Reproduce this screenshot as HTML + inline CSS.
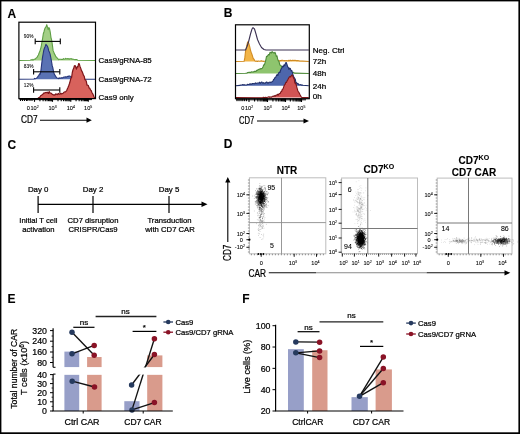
<!DOCTYPE html>
<html><head><meta charset="utf-8"><style>
html,body{margin:0;padding:0;background:#fff;}
svg{display:block;font-family:"Liberation Sans", sans-serif;will-change:transform;}
text{stroke:#000;stroke-width:0.22px;}
text.s{stroke:#000;stroke-width:0.08px;}
text[font-weight=bold]{stroke-width:0.1px;}
</style></head><body>
<svg width="520" height="434" viewBox="0 0 520 434">
<rect width="520" height="434" fill="#fff"/>
<rect x="0" y="0" width="520" height="1.4" fill="#000"/>
<rect x="0" y="0" width="1.4" height="434" fill="#000"/>
<rect x="518.4" y="0" width="1.6" height="434" fill="#000"/>
<rect x="0" y="432.3" width="520" height="1.7" fill="#000"/>
<text x="7.4" y="17.9" font-size="12" font-weight="bold" text-anchor="start" fill="#000" >A</text>
<text x="223.8" y="17.3" font-size="12" font-weight="bold" text-anchor="start" fill="#000" >B</text>
<text x="7.4" y="148.8" font-size="12" font-weight="bold" text-anchor="start" fill="#000" >C</text>
<text x="223.8" y="147.9" font-size="12" font-weight="bold" text-anchor="start" fill="#000" >D</text>
<text x="7.6" y="303.2" font-size="12" font-weight="bold" text-anchor="start" fill="#000" >E</text>
<text x="242.2" y="303.4" font-size="12" font-weight="bold" text-anchor="start" fill="#000" >F</text>
<polygon points="19.20,60.50 30.00,60.20 30.70,60.01 31.40,59.93 32.10,59.44 32.80,60.19 33.50,59.83 34.20,59.20 34.90,59.17 35.60,58.75 36.30,57.92 37.00,57.42 37.70,56.01 38.40,55.01 39.10,52.98 39.80,51.62 40.50,49.15 41.20,46.73 41.90,42.21 42.60,38.54 43.30,33.77 44.00,31.73 44.70,29.01 45.40,27.53 46.10,26.73 46.80,24.65 47.50,27.43 48.20,29.70 48.90,27.54 49.60,28.95 50.30,32.45 51.00,37.57 51.70,40.22 52.40,45.20 53.10,50.65 53.80,52.23 54.50,54.12 55.20,55.16 55.90,56.76 56.60,57.23 57.30,58.02 58.00,58.76 58.70,59.68 59.40,59.30 60.10,59.18 60.80,59.25 61.50,59.56 62.20,59.21 62.90,59.47 63.60,58.57 64.30,59.20 65.00,59.07 65.70,58.36 66.40,58.70 67.10,58.91 67.80,58.54 68.50,58.82 69.20,59.25 69.90,58.76 70.60,58.69 71.30,58.67 72.00,59.19 72.70,59.15 73.40,59.32 74.10,59.49 74.80,59.78 75.50,59.54 76.20,59.58 76.90,59.54 77.60,60.20 95.30,60.50" fill="#a3cf86" stroke="none"/>
<polyline points="19.20,60.50 30.00,60.20 30.70,60.01 31.40,59.93 32.10,59.44 32.80,60.19 33.50,59.83 34.20,59.20 34.90,59.17 35.60,58.75 36.30,57.92 37.00,57.42 37.70,56.01 38.40,55.01 39.10,52.98 39.80,51.62 40.50,49.15 41.20,46.73 41.90,42.21 42.60,38.54 43.30,33.77 44.00,31.73 44.70,29.01 45.40,27.53 46.10,26.73 46.80,24.65 47.50,27.43 48.20,29.70 48.90,27.54 49.60,28.95 50.30,32.45 51.00,37.57 51.70,40.22 52.40,45.20 53.10,50.65 53.80,52.23 54.50,54.12 55.20,55.16 55.90,56.76 56.60,57.23 57.30,58.02 58.00,58.76 58.70,59.68 59.40,59.30 60.10,59.18 60.80,59.25 61.50,59.56 62.20,59.21 62.90,59.47 63.60,58.57 64.30,59.20 65.00,59.07 65.70,58.36 66.40,58.70 67.10,58.91 67.80,58.54 68.50,58.82 69.20,59.25 69.90,58.76 70.60,58.69 71.30,58.67 72.00,59.19 72.70,59.15 73.40,59.32 74.10,59.49 74.80,59.78 75.50,59.54 76.20,59.58 76.90,59.54 77.60,60.20 95.30,60.50" fill="none" stroke="#5f9f45" stroke-width="1.1" stroke-linejoin="round"/>
<polygon points="19.20,79.30 34.00,79.00 34.70,78.38 35.40,78.80 36.10,78.40 36.80,77.85 37.50,77.34 38.20,76.02 38.90,75.25 39.60,73.70 40.30,74.17 41.00,69.86 41.70,63.78 42.40,58.13 43.10,53.97 43.80,50.11 44.50,47.99 45.20,46.44 45.90,44.38 46.60,45.37 47.30,45.87 48.00,47.69 48.70,50.65 49.40,52.12 50.10,54.18 50.80,57.59 51.50,61.37 52.20,65.70 52.90,68.03 53.60,71.89 54.30,74.15 55.00,75.20 55.70,76.34 56.40,77.60 57.10,77.94 57.80,78.17 58.50,78.64 59.20,77.77 59.90,78.49 60.60,77.93 61.30,77.64 62.00,77.92 62.70,77.84 63.40,77.34 64.10,76.96 64.80,77.06 65.50,76.86 66.20,77.12 66.90,76.75 67.60,76.41 68.30,76.53 69.00,75.93 69.70,75.94 70.40,76.65 71.10,76.87 71.80,76.87 72.50,77.17 73.20,77.96 73.90,77.89 74.60,78.75 75.30,78.82 76.00,78.54 76.70,78.98 77.40,79.20 95.30,79.30" fill="#5a72b4" stroke="none"/>
<polyline points="19.20,79.30 34.00,79.00 34.70,78.38 35.40,78.80 36.10,78.40 36.80,77.85 37.50,77.34 38.20,76.02 38.90,75.25 39.60,73.70 40.30,74.17 41.00,69.86 41.70,63.78 42.40,58.13 43.10,53.97 43.80,50.11 44.50,47.99 45.20,46.44 45.90,44.38 46.60,45.37 47.30,45.87 48.00,47.69 48.70,50.65 49.40,52.12 50.10,54.18 50.80,57.59 51.50,61.37 52.20,65.70 52.90,68.03 53.60,71.89 54.30,74.15 55.00,75.20 55.70,76.34 56.40,77.60 57.10,77.94 57.80,78.17 58.50,78.64 59.20,77.77 59.90,78.49 60.60,77.93 61.30,77.64 62.00,77.92 62.70,77.84 63.40,77.34 64.10,76.96 64.80,77.06 65.50,76.86 66.20,77.12 66.90,76.75 67.60,76.41 68.30,76.53 69.00,75.93 69.70,75.94 70.40,76.65 71.10,76.87 71.80,76.87 72.50,77.17 73.20,77.96 73.90,77.89 74.60,78.75 75.30,78.82 76.00,78.54 76.70,78.98 77.40,79.20 95.30,79.30" fill="none" stroke="#26357a" stroke-width="1.1" stroke-linejoin="round"/>
<polygon points="19.20,98.50 38.00,98.30 38.70,97.69 39.40,97.54 40.10,96.74 40.80,95.51 41.50,95.41 42.20,94.63 42.90,94.32 43.60,93.10 44.30,93.23 45.00,92.66 45.70,92.68 46.40,92.44 47.10,92.83 47.80,92.12 48.50,93.49 49.20,91.60 49.90,93.00 50.60,92.99 51.30,93.36 52.00,94.03 52.70,94.61 53.40,95.05 54.10,94.77 54.80,95.20 55.50,93.95 56.20,94.47 56.90,94.07 57.60,94.58 58.30,93.45 59.00,94.00 59.70,94.11 60.40,93.32 61.10,94.01 61.80,93.47 62.50,93.56 63.20,93.30 63.90,92.21 64.60,91.97 65.30,91.91 66.00,91.39 66.70,90.50 67.40,88.78 68.10,87.26 68.80,85.48 69.50,83.48 70.20,80.99 70.90,78.37 71.60,77.34 72.30,72.51 73.00,69.75 73.70,68.30 74.40,65.74 75.10,65.57 75.80,67.19 76.50,69.13 77.20,66.64 77.90,66.99 78.60,63.60 79.30,63.88 80.00,66.40 80.70,68.14 81.40,70.41 82.10,71.59 82.80,73.28 83.50,75.36 84.20,76.19 84.90,79.61 85.60,79.91 86.30,81.30 87.00,85.08 87.70,85.19 88.40,85.53 89.10,88.18 89.80,88.16 90.50,90.03 91.20,90.56 91.90,92.49 92.60,93.59 93.30,95.01 94.00,96.76 94.70,98.30 95.30,98.50" fill="#d8625c" stroke="none"/>
<polyline points="19.20,98.50 38.00,98.30 38.70,97.69 39.40,97.54 40.10,96.74 40.80,95.51 41.50,95.41 42.20,94.63 42.90,94.32 43.60,93.10 44.30,93.23 45.00,92.66 45.70,92.68 46.40,92.44 47.10,92.83 47.80,92.12 48.50,93.49 49.20,91.60 49.90,93.00 50.60,92.99 51.30,93.36 52.00,94.03 52.70,94.61 53.40,95.05 54.10,94.77 54.80,95.20 55.50,93.95 56.20,94.47 56.90,94.07 57.60,94.58 58.30,93.45 59.00,94.00 59.70,94.11 60.40,93.32 61.10,94.01 61.80,93.47 62.50,93.56 63.20,93.30 63.90,92.21 64.60,91.97 65.30,91.91 66.00,91.39 66.70,90.50 67.40,88.78 68.10,87.26 68.80,85.48 69.50,83.48 70.20,80.99 70.90,78.37 71.60,77.34 72.30,72.51 73.00,69.75 73.70,68.30 74.40,65.74 75.10,65.57 75.80,67.19 76.50,69.13 77.20,66.64 77.90,66.99 78.60,63.60 79.30,63.88 80.00,66.40 80.70,68.14 81.40,70.41 82.10,71.59 82.80,73.28 83.50,75.36 84.20,76.19 84.90,79.61 85.60,79.91 86.30,81.30 87.00,85.08 87.70,85.19 88.40,85.53 89.10,88.18 89.80,88.16 90.50,90.03 91.20,90.56 91.90,92.49 92.60,93.59 93.30,95.01 94.00,96.76 94.70,98.30 95.30,98.50" fill="none" stroke="#7e1519" stroke-width="1.2" stroke-linejoin="round"/>
<rect x="18.9" y="22.2" width="76.6" height="76.4" fill="none" stroke="#000" stroke-width="1.2"/>
<line x1="35.2" y1="41.4" x2="60.3" y2="41.4" stroke="#000" stroke-width="1.1" />
<line x1="35.2" y1="38.6" x2="35.2" y2="44.199999999999996" stroke="#000" stroke-width="1.1" />
<line x1="60.3" y1="38.6" x2="60.3" y2="44.199999999999996" stroke="#000" stroke-width="1.1" />
<line x1="33.6" y1="71.8" x2="59.8" y2="71.8" stroke="#000" stroke-width="1.1" />
<line x1="33.6" y1="69.0" x2="33.6" y2="74.6" stroke="#000" stroke-width="1.1" />
<line x1="59.8" y1="69.0" x2="59.8" y2="74.6" stroke="#000" stroke-width="1.1" />
<line x1="33.6" y1="90" x2="59.8" y2="90" stroke="#000" stroke-width="1.1" />
<line x1="33.6" y1="87.2" x2="33.6" y2="92.8" stroke="#000" stroke-width="1.1" />
<line x1="59.8" y1="87.2" x2="59.8" y2="92.8" stroke="#000" stroke-width="1.1" />
<text x="23.8" y="37.8" font-size="4.8" font-weight="normal" text-anchor="start" fill="#111" class="s">90%</text>
<text x="23.8" y="68" font-size="4.8" font-weight="normal" text-anchor="start" fill="#111" class="s">83%</text>
<text x="23.8" y="86.5" font-size="4.8" font-weight="normal" text-anchor="start" fill="#111" class="s">12%</text>
<line x1="19.5" y1="99.6" x2="92" y2="99.6" stroke="#000" stroke-width="1.0" />
<line x1="34.5" y1="98.6" x2="34.5" y2="101.8" stroke="#000" stroke-width="1.1" />
<line x1="52.5" y1="98.6" x2="52.5" y2="101.8" stroke="#000" stroke-width="1.1" />
<line x1="70.8" y1="98.6" x2="70.8" y2="101.8" stroke="#000" stroke-width="1.1" />
<line x1="88.3" y1="98.6" x2="88.3" y2="101.8" stroke="#000" stroke-width="1.1" />
<line x1="39.92" y1="98.6" x2="39.92" y2="101.19999999999999" stroke="#000" stroke-width="1.1" />
<line x1="43.09" y1="98.6" x2="43.09" y2="101.19999999999999" stroke="#000" stroke-width="1.1" />
<line x1="45.34" y1="98.6" x2="45.34" y2="101.19999999999999" stroke="#000" stroke-width="1.1" />
<line x1="47.08" y1="98.6" x2="47.08" y2="101.19999999999999" stroke="#000" stroke-width="1.1" />
<line x1="48.51" y1="98.6" x2="48.51" y2="101.19999999999999" stroke="#000" stroke-width="1.1" />
<line x1="49.71" y1="98.6" x2="49.71" y2="101.19999999999999" stroke="#000" stroke-width="1.1" />
<line x1="50.76" y1="98.6" x2="50.76" y2="101.19999999999999" stroke="#000" stroke-width="1.1" />
<line x1="51.68" y1="98.6" x2="51.68" y2="101.19999999999999" stroke="#000" stroke-width="1.1" />
<line x1="58.01" y1="98.6" x2="58.01" y2="101.19999999999999" stroke="#000" stroke-width="1.1" />
<line x1="61.23" y1="98.6" x2="61.23" y2="101.19999999999999" stroke="#000" stroke-width="1.1" />
<line x1="63.52" y1="98.6" x2="63.52" y2="101.19999999999999" stroke="#000" stroke-width="1.1" />
<line x1="65.29" y1="98.6" x2="65.29" y2="101.19999999999999" stroke="#000" stroke-width="1.1" />
<line x1="66.74" y1="98.6" x2="66.74" y2="101.19999999999999" stroke="#000" stroke-width="1.1" />
<line x1="67.97" y1="98.6" x2="67.97" y2="101.19999999999999" stroke="#000" stroke-width="1.1" />
<line x1="69.03" y1="98.6" x2="69.03" y2="101.19999999999999" stroke="#000" stroke-width="1.1" />
<line x1="69.96" y1="98.6" x2="69.96" y2="101.19999999999999" stroke="#000" stroke-width="1.1" />
<line x1="76.07" y1="98.6" x2="76.07" y2="101.19999999999999" stroke="#000" stroke-width="1.1" />
<line x1="79.15" y1="98.6" x2="79.15" y2="101.19999999999999" stroke="#000" stroke-width="1.1" />
<line x1="81.34" y1="98.6" x2="81.34" y2="101.19999999999999" stroke="#000" stroke-width="1.1" />
<line x1="83.03" y1="98.6" x2="83.03" y2="101.19999999999999" stroke="#000" stroke-width="1.1" />
<line x1="84.42" y1="98.6" x2="84.42" y2="101.19999999999999" stroke="#000" stroke-width="1.1" />
<line x1="85.59" y1="98.6" x2="85.59" y2="101.19999999999999" stroke="#000" stroke-width="1.1" />
<line x1="86.6" y1="98.6" x2="86.6" y2="101.19999999999999" stroke="#000" stroke-width="1.1" />
<line x1="87.5" y1="98.6" x2="87.5" y2="101.19999999999999" stroke="#000" stroke-width="1.1" />
<line x1="20.5" y1="98.6" x2="20.5" y2="101" stroke="#000" stroke-width="1.0" />
<line x1="22.5" y1="98.6" x2="22.5" y2="101" stroke="#000" stroke-width="1.0" />
<line x1="24.5" y1="98.6" x2="24.5" y2="101" stroke="#000" stroke-width="1.0" />
<line x1="26.5" y1="98.6" x2="26.5" y2="101" stroke="#000" stroke-width="1.0" />
<line x1="27.8" y1="98.6" x2="27.8" y2="101" stroke="#000" stroke-width="1.0" />
<line x1="30" y1="98.6" x2="30" y2="101" stroke="#000" stroke-width="1.0" />
<line x1="32" y1="98.6" x2="32" y2="101" stroke="#000" stroke-width="1.0" />
<text class="s" x="28.4" y="110" font-size="5.6" text-anchor="middle">0</text>
<text class="s" x="34.6" y="110" font-size="5.6" text-anchor="middle">10<tspan font-size="3.5" dy="-2">2</tspan></text>
<text class="s" x="52.6" y="110" font-size="5.6" text-anchor="middle">10<tspan font-size="3.5" dy="-2">3</tspan></text>
<text class="s" x="70.8" y="110" font-size="5.6" text-anchor="middle">10<tspan font-size="3.5" dy="-2">4</tspan></text>
<text class="s" x="88.2" y="110" font-size="5.6" text-anchor="middle">10<tspan font-size="3.5" dy="-2">5</tspan></text>
<text x="0" y="0" font-size="10" transform="translate(21,123.4) scale(0.83,1)">CD7</text>
<line x1="40" y1="120.2" x2="88" y2="120.2" stroke="#000" stroke-width="1.1" />
<polygon points="86.5,117.6 91.8,120.2 86.5,122.8" fill="#000"/>
<text x="98.6" y="63.3" font-size="7.9" font-weight="normal" text-anchor="start" fill="#000" >Cas9/gRNA-85</text>
<text x="98.6" y="82" font-size="7.9" font-weight="normal" text-anchor="start" fill="#000" >Cas9/gRNA-72</text>
<text x="98.6" y="100.2" font-size="7.9" font-weight="normal" text-anchor="start" fill="#000" >Cas9 only</text>
<polygon points="235.80,61.50 244.10,61.30 244.80,57.91 245.50,51.59 246.20,48.71 246.90,45.37 247.60,42.12 248.30,41.79 249.00,44.18 249.70,46.71 250.40,49.82 251.10,52.14 251.80,53.85 252.50,56.13 253.20,58.42 253.90,59.07 254.60,60.58 255.30,61.14 256.00,61.34 256.70,61.02 257.40,61.41 258.10,61.02 258.80,61.03 259.50,61.22 260.20,61.26 260.90,60.87 261.60,60.85 262.30,61.27 263.00,61.02 263.70,61.45 264.40,61.28 265.10,61.26 265.80,61.21 266.50,61.33 267.20,61.08 267.90,61.32 268.60,60.94 269.30,60.98 270.00,60.85 270.70,61.10 271.40,60.95 272.10,60.72 272.80,61.34 273.50,60.78 274.20,60.81 274.90,60.90 275.60,61.19 276.30,60.71 277.00,60.89 277.70,60.72 278.40,60.31 279.10,60.83 279.80,60.86 280.50,60.54 281.20,60.59 281.90,60.22 282.60,60.21 283.30,60.48 284.00,60.73 284.70,60.45 285.40,60.64 286.10,60.80 286.80,60.58 287.50,60.69 288.20,60.91 288.90,60.23 289.60,60.72 290.30,60.06 291.00,60.64 291.70,60.57 292.40,60.38 293.10,60.24 293.80,60.49 294.50,60.40 295.20,60.54 295.90,60.35 296.60,60.76 297.30,60.43 298.00,60.67 298.70,60.70 299.40,60.90 308.80,61.50" fill="#f2b447" stroke="none"/>
<polyline points="235.80,61.50 244.10,61.30 244.80,57.91 245.50,51.59 246.20,48.71 246.90,45.37 247.60,42.12 248.30,41.79 249.00,44.18 249.70,46.71 250.40,49.82 251.10,52.14 251.80,53.85 252.50,56.13 253.20,58.42 253.90,59.07 254.60,60.58 255.30,61.14 256.00,61.34 256.70,61.02 257.40,61.41 258.10,61.02 258.80,61.03 259.50,61.22 260.20,61.26 260.90,60.87 261.60,60.85 262.30,61.27 263.00,61.02 263.70,61.45 264.40,61.28 265.10,61.26 265.80,61.21 266.50,61.33 267.20,61.08 267.90,61.32 268.60,60.94 269.30,60.98 270.00,60.85 270.70,61.10 271.40,60.95 272.10,60.72 272.80,61.34 273.50,60.78 274.20,60.81 274.90,60.90 275.60,61.19 276.30,60.71 277.00,60.89 277.70,60.72 278.40,60.31 279.10,60.83 279.80,60.86 280.50,60.54 281.20,60.59 281.90,60.22 282.60,60.21 283.30,60.48 284.00,60.73 284.70,60.45 285.40,60.64 286.10,60.80 286.80,60.58 287.50,60.69 288.20,60.91 288.90,60.23 289.60,60.72 290.30,60.06 291.00,60.64 291.70,60.57 292.40,60.38 293.10,60.24 293.80,60.49 294.50,60.40 295.20,60.54 295.90,60.35 296.60,60.76 297.30,60.43 298.00,60.67 298.70,60.70 299.40,60.90 308.80,61.50" fill="none" stroke="#d08a20" stroke-width="1.1" stroke-linejoin="round"/>
<polyline points="235.80,50.00 245.50,50.00 247.00,46.50 248.50,42.00 250.50,34.00 252.00,29.00 253.00,27.70 254.50,29.00 256.00,34.00 257.50,39.50 259.50,44.00 261.50,47.50 264.00,49.50 266.00,50.00 308.80,50.00" fill="none" stroke="#3b3152" stroke-width="1.1" stroke-linejoin="round"/>
<polygon points="235.80,73.50 245.50,73.30 246.20,73.21 246.90,72.93 247.60,72.63 248.30,72.57 249.00,72.27 249.70,72.38 250.40,72.60 251.10,71.99 251.80,71.84 252.50,72.04 253.20,71.89 253.90,71.71 254.60,71.28 255.30,71.37 256.00,71.33 256.70,70.37 257.40,70.39 258.10,69.58 258.80,69.51 259.50,68.95 260.20,69.25 260.90,68.48 261.60,68.80 262.30,68.15 263.00,67.01 263.70,64.82 264.40,64.85 265.10,62.57 265.80,60.03 266.50,56.37 267.20,56.44 267.90,55.35 268.60,54.46 269.30,54.91 270.00,52.33 270.70,52.62 271.40,53.05 272.10,51.56 272.80,52.31 273.50,52.84 274.20,53.12 274.90,52.29 275.60,53.80 276.30,56.43 277.00,55.84 277.70,59.47 278.40,60.81 279.10,61.80 279.80,64.78 280.50,65.42 281.20,65.79 281.90,67.83 282.60,68.65 283.30,68.79 284.00,69.61 284.70,69.77 285.40,70.41 286.10,70.96 286.80,70.49 287.50,71.07 288.20,71.13 288.90,71.60 289.60,71.49 290.30,71.90 291.00,72.17 291.70,72.61 292.40,72.82 293.10,72.36 293.80,72.65 294.50,73.10 308.80,73.50" fill="#8ec46e" stroke="none"/>
<polyline points="235.80,73.50 245.50,73.30 246.20,73.21 246.90,72.93 247.60,72.63 248.30,72.57 249.00,72.27 249.70,72.38 250.40,72.60 251.10,71.99 251.80,71.84 252.50,72.04 253.20,71.89 253.90,71.71 254.60,71.28 255.30,71.37 256.00,71.33 256.70,70.37 257.40,70.39 258.10,69.58 258.80,69.51 259.50,68.95 260.20,69.25 260.90,68.48 261.60,68.80 262.30,68.15 263.00,67.01 263.70,64.82 264.40,64.85 265.10,62.57 265.80,60.03 266.50,56.37 267.20,56.44 267.90,55.35 268.60,54.46 269.30,54.91 270.00,52.33 270.70,52.62 271.40,53.05 272.10,51.56 272.80,52.31 273.50,52.84 274.20,53.12 274.90,52.29 275.60,53.80 276.30,56.43 277.00,55.84 277.70,59.47 278.40,60.81 279.10,61.80 279.80,64.78 280.50,65.42 281.20,65.79 281.90,67.83 282.60,68.65 283.30,68.79 284.00,69.61 284.70,69.77 285.40,70.41 286.10,70.96 286.80,70.49 287.50,71.07 288.20,71.13 288.90,71.60 289.60,71.49 290.30,71.90 291.00,72.17 291.70,72.61 292.40,72.82 293.10,72.36 293.80,72.65 294.50,73.10 308.80,73.50" fill="none" stroke="#4e8a3a" stroke-width="1.1" stroke-linejoin="round"/>
<polygon points="235.80,85.70 240.00,85.40 240.70,85.03 241.40,84.94 242.10,85.07 242.80,84.53 243.50,84.94 244.20,84.67 244.90,85.03 245.60,84.95 246.30,84.95 247.00,84.68 247.70,84.35 248.40,84.50 249.10,84.57 249.80,83.84 250.50,84.13 251.20,83.87 251.90,84.25 252.60,83.48 253.30,83.58 254.00,83.71 254.70,83.61 255.40,82.91 256.10,83.46 256.80,83.21 257.50,83.07 258.20,83.00 258.90,83.03 259.60,82.22 260.30,83.34 261.00,82.47 261.70,81.97 262.40,82.72 263.10,83.26 263.80,82.54 264.50,83.26 265.20,83.28 265.90,82.48 266.60,82.00 267.30,82.50 268.00,83.41 268.70,82.60 269.40,82.23 270.10,82.17 270.80,82.53 271.50,81.99 272.20,81.66 272.90,81.04 273.60,79.47 274.30,79.02 275.00,77.57 275.70,77.27 276.40,75.64 277.10,74.61 277.80,75.51 278.50,73.02 279.20,72.28 279.90,72.48 280.60,70.24 281.30,68.59 282.00,67.74 282.70,66.16 283.40,66.77 284.10,64.72 284.80,65.70 285.50,63.20 286.20,62.49 286.90,64.17 287.60,66.67 288.30,67.48 289.00,69.55 289.70,68.08 290.40,68.72 291.10,70.94 291.80,70.49 292.50,72.86 293.20,75.58 293.90,77.01 294.60,78.17 295.30,79.31 296.00,82.93 296.70,82.74 297.40,83.59 298.10,83.60 298.80,84.83 299.50,84.73 300.20,84.75 300.90,84.66 301.60,85.11 302.30,85.05 303.00,85.30 308.80,85.70" fill="#4d66ac" stroke="none"/>
<polyline points="235.80,85.70 240.00,85.40 240.70,85.03 241.40,84.94 242.10,85.07 242.80,84.53 243.50,84.94 244.20,84.67 244.90,85.03 245.60,84.95 246.30,84.95 247.00,84.68 247.70,84.35 248.40,84.50 249.10,84.57 249.80,83.84 250.50,84.13 251.20,83.87 251.90,84.25 252.60,83.48 253.30,83.58 254.00,83.71 254.70,83.61 255.40,82.91 256.10,83.46 256.80,83.21 257.50,83.07 258.20,83.00 258.90,83.03 259.60,82.22 260.30,83.34 261.00,82.47 261.70,81.97 262.40,82.72 263.10,83.26 263.80,82.54 264.50,83.26 265.20,83.28 265.90,82.48 266.60,82.00 267.30,82.50 268.00,83.41 268.70,82.60 269.40,82.23 270.10,82.17 270.80,82.53 271.50,81.99 272.20,81.66 272.90,81.04 273.60,79.47 274.30,79.02 275.00,77.57 275.70,77.27 276.40,75.64 277.10,74.61 277.80,75.51 278.50,73.02 279.20,72.28 279.90,72.48 280.60,70.24 281.30,68.59 282.00,67.74 282.70,66.16 283.40,66.77 284.10,64.72 284.80,65.70 285.50,63.20 286.20,62.49 286.90,64.17 287.60,66.67 288.30,67.48 289.00,69.55 289.70,68.08 290.40,68.72 291.10,70.94 291.80,70.49 292.50,72.86 293.20,75.58 293.90,77.01 294.60,78.17 295.30,79.31 296.00,82.93 296.70,82.74 297.40,83.59 298.10,83.60 298.80,84.83 299.50,84.73 300.20,84.75 300.90,84.66 301.60,85.11 302.30,85.05 303.00,85.30 308.80,85.70" fill="none" stroke="#22306a" stroke-width="1.1" stroke-linejoin="round"/>
<polygon points="235.80,97.60 262.00,97.80 262.70,97.60 263.40,97.36 264.10,97.60 264.80,97.60 265.50,97.36 266.20,97.47 266.90,97.36 267.60,97.16 268.30,96.99 269.00,96.65 269.70,97.35 270.40,96.89 271.10,97.34 271.80,96.76 272.50,96.45 273.20,96.02 273.90,96.42 274.60,95.65 275.30,96.06 276.00,95.20 276.70,95.16 277.40,94.27 278.10,95.30 278.80,94.06 279.50,93.60 280.20,93.54 280.90,91.75 281.60,91.48 282.30,89.36 283.00,89.06 283.70,86.90 284.40,85.04 285.10,84.41 285.80,82.38 286.50,82.40 287.20,80.62 287.90,79.60 288.60,78.32 289.30,77.08 290.00,76.52 290.70,77.01 291.40,75.57 292.10,74.93 292.80,76.03 293.50,77.92 294.20,79.02 294.90,83.08 295.60,82.99 296.30,85.21 297.00,87.82 297.70,90.44 298.40,91.67 299.10,92.80 299.80,94.31 300.50,95.54 301.20,96.81 301.90,97.60 308.80,97.60" fill="#d15454" stroke="none"/>
<polyline points="235.80,97.60 262.00,97.80 262.70,97.60 263.40,97.36 264.10,97.60 264.80,97.60 265.50,97.36 266.20,97.47 266.90,97.36 267.60,97.16 268.30,96.99 269.00,96.65 269.70,97.35 270.40,96.89 271.10,97.34 271.80,96.76 272.50,96.45 273.20,96.02 273.90,96.42 274.60,95.65 275.30,96.06 276.00,95.20 276.70,95.16 277.40,94.27 278.10,95.30 278.80,94.06 279.50,93.60 280.20,93.54 280.90,91.75 281.60,91.48 282.30,89.36 283.00,89.06 283.70,86.90 284.40,85.04 285.10,84.41 285.80,82.38 286.50,82.40 287.20,80.62 287.90,79.60 288.60,78.32 289.30,77.08 290.00,76.52 290.70,77.01 291.40,75.57 292.10,74.93 292.80,76.03 293.50,77.92 294.20,79.02 294.90,83.08 295.60,82.99 296.30,85.21 297.00,87.82 297.70,90.44 298.40,91.67 299.10,92.80 299.80,94.31 300.50,95.54 301.20,96.81 301.90,97.60 308.80,97.60" fill="none" stroke="#7a1518" stroke-width="1.1" stroke-linejoin="round"/>
<rect x="235.5" y="24.8" width="73.8" height="73.9" fill="none" stroke="#000" stroke-width="1.2"/>
<line x1="236" y1="99.8" x2="306" y2="99.8" stroke="#000" stroke-width="1.0" />
<line x1="249" y1="98.8" x2="249" y2="102.0" stroke="#000" stroke-width="1.1" />
<line x1="267.5" y1="98.8" x2="267.5" y2="102.0" stroke="#000" stroke-width="1.1" />
<line x1="285.5" y1="98.8" x2="285.5" y2="102.0" stroke="#000" stroke-width="1.1" />
<line x1="301.5" y1="98.8" x2="301.5" y2="102.0" stroke="#000" stroke-width="1.1" />
<line x1="254.57" y1="98.8" x2="254.57" y2="101.39999999999999" stroke="#000" stroke-width="1.1" />
<line x1="257.83" y1="98.8" x2="257.83" y2="101.39999999999999" stroke="#000" stroke-width="1.1" />
<line x1="260.14" y1="98.8" x2="260.14" y2="101.39999999999999" stroke="#000" stroke-width="1.1" />
<line x1="261.93" y1="98.8" x2="261.93" y2="101.39999999999999" stroke="#000" stroke-width="1.1" />
<line x1="263.4" y1="98.8" x2="263.4" y2="101.39999999999999" stroke="#000" stroke-width="1.1" />
<line x1="264.63" y1="98.8" x2="264.63" y2="101.39999999999999" stroke="#000" stroke-width="1.1" />
<line x1="265.71" y1="98.8" x2="265.71" y2="101.39999999999999" stroke="#000" stroke-width="1.1" />
<line x1="266.65" y1="98.8" x2="266.65" y2="101.39999999999999" stroke="#000" stroke-width="1.1" />
<line x1="272.92" y1="98.8" x2="272.92" y2="101.39999999999999" stroke="#000" stroke-width="1.1" />
<line x1="276.09" y1="98.8" x2="276.09" y2="101.39999999999999" stroke="#000" stroke-width="1.1" />
<line x1="278.34" y1="98.8" x2="278.34" y2="101.39999999999999" stroke="#000" stroke-width="1.1" />
<line x1="280.08" y1="98.8" x2="280.08" y2="101.39999999999999" stroke="#000" stroke-width="1.1" />
<line x1="281.51" y1="98.8" x2="281.51" y2="101.39999999999999" stroke="#000" stroke-width="1.1" />
<line x1="282.71" y1="98.8" x2="282.71" y2="101.39999999999999" stroke="#000" stroke-width="1.1" />
<line x1="283.76" y1="98.8" x2="283.76" y2="101.39999999999999" stroke="#000" stroke-width="1.1" />
<line x1="284.68" y1="98.8" x2="284.68" y2="101.39999999999999" stroke="#000" stroke-width="1.1" />
<line x1="290.32" y1="98.8" x2="290.32" y2="101.39999999999999" stroke="#000" stroke-width="1.1" />
<line x1="293.13" y1="98.8" x2="293.13" y2="101.39999999999999" stroke="#000" stroke-width="1.1" />
<line x1="295.13" y1="98.8" x2="295.13" y2="101.39999999999999" stroke="#000" stroke-width="1.1" />
<line x1="296.68" y1="98.8" x2="296.68" y2="101.39999999999999" stroke="#000" stroke-width="1.1" />
<line x1="297.95" y1="98.8" x2="297.95" y2="101.39999999999999" stroke="#000" stroke-width="1.1" />
<line x1="299.02" y1="98.8" x2="299.02" y2="101.39999999999999" stroke="#000" stroke-width="1.1" />
<line x1="299.95" y1="98.8" x2="299.95" y2="101.39999999999999" stroke="#000" stroke-width="1.1" />
<line x1="300.77" y1="98.8" x2="300.77" y2="101.39999999999999" stroke="#000" stroke-width="1.1" />
<line x1="237" y1="98.8" x2="237" y2="101.2" stroke="#000" stroke-width="1.0" />
<line x1="239" y1="98.8" x2="239" y2="101.2" stroke="#000" stroke-width="1.0" />
<line x1="241" y1="98.8" x2="241" y2="101.2" stroke="#000" stroke-width="1.0" />
<line x1="242.8" y1="98.8" x2="242.8" y2="101.2" stroke="#000" stroke-width="1.0" />
<line x1="244.6" y1="98.8" x2="244.6" y2="101.2" stroke="#000" stroke-width="1.0" />
<line x1="246.5" y1="98.8" x2="246.5" y2="101.2" stroke="#000" stroke-width="1.0" />
<text class="s" x="242.8" y="110.2" font-size="5.6" text-anchor="middle">0</text>
<text class="s" x="249" y="110.2" font-size="5.6" text-anchor="middle">10<tspan font-size="3.5" dy="-2">2</tspan></text>
<text class="s" x="267.6" y="110.2" font-size="5.6" text-anchor="middle">10<tspan font-size="3.5" dy="-2">3</tspan></text>
<text class="s" x="285.5" y="110.2" font-size="5.6" text-anchor="middle">10<tspan font-size="3.5" dy="-2">4</tspan></text>
<text class="s" x="301.3" y="110.2" font-size="5.6" text-anchor="middle">10<tspan font-size="3.5" dy="-2">5</tspan></text>
<text x="0" y="0" font-size="10" transform="translate(239,124) scale(0.77,1)">CD7</text>
<line x1="257" y1="121" x2="305" y2="121" stroke="#000" stroke-width="1.1" />
<polygon points="303.5,118.4 309,121 303.5,123.6" fill="#000"/>
<text x="312.8" y="52.7" font-size="8" font-weight="normal" text-anchor="start" fill="#000" >Neg. Ctrl</text>
<text x="312.8" y="64" font-size="8" font-weight="normal" text-anchor="start" fill="#000" >72h</text>
<text x="312.8" y="75.9" font-size="8" font-weight="normal" text-anchor="start" fill="#000" >48h</text>
<text x="312.8" y="88.7" font-size="8" font-weight="normal" text-anchor="start" fill="#000" >24h</text>
<text x="312.8" y="98.8" font-size="8" font-weight="normal" text-anchor="start" fill="#000" >0h</text>
<line x1="38" y1="204.3" x2="203" y2="204.3" stroke="#000" stroke-width="1.2" />
<polygon points="201.5,201.5 207.5,204.3 201.5,207.1" fill="#000"/>
<line x1="38.1" y1="196" x2="38.1" y2="213" stroke="#000" stroke-width="1.2" />
<line x1="93" y1="196" x2="93" y2="213" stroke="#000" stroke-width="1.2" />
<line x1="169" y1="196" x2="169" y2="213" stroke="#000" stroke-width="1.2" />
<text x="38.2" y="191.8" font-size="7.9" font-weight="normal" text-anchor="middle" fill="#000" >Day 0</text>
<text x="93" y="191.8" font-size="7.9" font-weight="normal" text-anchor="middle" fill="#000" >Day 2</text>
<text x="169" y="191.8" font-size="7.9" font-weight="normal" text-anchor="middle" fill="#000" >Day 5</text>
<text x="38.4" y="222.9" font-size="7.7" font-weight="normal" text-anchor="middle" fill="#000" >Initial T cell</text>
<text x="38.4" y="232.4" font-size="7.7" font-weight="normal" text-anchor="middle" fill="#000" >activation</text>
<text x="93" y="222.5" font-size="7.7" font-weight="normal" text-anchor="middle" fill="#000" >CD7 disruption</text>
<text x="93" y="232.0" font-size="7.7" font-weight="normal" text-anchor="middle" fill="#000" >CRISPR/Cas9</text>
<text x="169.5" y="222.5" font-size="7.7" font-weight="normal" text-anchor="middle" fill="#000" >Transduction</text>
<text x="170" y="232.0" font-size="7.7" font-weight="normal" text-anchor="middle" fill="#000" >with CD7 CAR</text>
<text x="287" y="173.6" font-size="10" font-weight="bold" text-anchor="middle" fill="#000" >NTR</text>
<text x="363.6" y="172.8" font-size="10" font-weight="bold">CD7<tspan font-size="7" dy="-3.5">KO</tspan></text>
<text x="458.6" y="163.6" font-size="10" font-weight="bold">CD7<tspan font-size="7" dy="-3.5">KO</tspan></text>
<text x="474" y="175.7" font-size="10" font-weight="bold" text-anchor="middle" fill="#000" >CD7 CAR</text>
<g fill="#000" fill-opacity="0.33"><rect x="260.8" y="199.4" width="0.8" height="0.8"/><rect x="260.1" y="193.9" width="0.8" height="0.8"/><rect x="259.6" y="193.4" width="0.8" height="0.8"/><rect x="261.0" y="204.2" width="0.8" height="0.8"/><rect x="259.5" y="195.1" width="0.8" height="0.8"/><rect x="262.1" y="199.6" width="0.8" height="0.8"/><rect x="261.1" y="193.7" width="0.8" height="0.8"/><rect x="260.7" y="201.2" width="0.8" height="0.8"/><rect x="257.3" y="195.9" width="0.8" height="0.8"/><rect x="255.9" y="192.1" width="0.8" height="0.8"/><rect x="256.0" y="196.9" width="0.8" height="0.8"/><rect x="257.5" y="199.2" width="0.8" height="0.8"/><rect x="261.2" y="197.1" width="0.8" height="0.8"/><rect x="254.3" y="195.5" width="0.8" height="0.8"/><rect x="260.7" y="198.5" width="0.8" height="0.8"/><rect x="256.8" y="195.8" width="0.8" height="0.8"/><rect x="258.3" y="194.3" width="0.8" height="0.8"/><rect x="263.6" y="194.3" width="0.8" height="0.8"/><rect x="260.7" y="202.1" width="0.8" height="0.8"/><rect x="259.3" y="197.5" width="0.8" height="0.8"/><rect x="261.1" y="198.3" width="0.8" height="0.8"/><rect x="257.6" y="198.4" width="0.8" height="0.8"/><rect x="264.3" y="190.9" width="0.8" height="0.8"/><rect x="263.0" y="198.5" width="0.8" height="0.8"/><rect x="259.1" y="207.2" width="0.8" height="0.8"/><rect x="262.8" y="192.5" width="0.8" height="0.8"/><rect x="261.0" y="200.7" width="0.8" height="0.8"/><rect x="260.3" y="201.1" width="0.8" height="0.8"/><rect x="260.6" y="201.1" width="0.8" height="0.8"/><rect x="264.5" y="194.9" width="0.8" height="0.8"/><rect x="261.3" y="195.9" width="0.8" height="0.8"/><rect x="261.1" y="192.5" width="0.8" height="0.8"/><rect x="259.3" y="197.1" width="0.8" height="0.8"/><rect x="263.1" y="203.3" width="0.8" height="0.8"/><rect x="257.4" y="194.3" width="0.8" height="0.8"/><rect x="262.5" y="188.8" width="0.8" height="0.8"/><rect x="259.6" y="197.6" width="0.8" height="0.8"/><rect x="264.1" y="201.2" width="0.8" height="0.8"/><rect x="259.9" y="196.3" width="0.8" height="0.8"/><rect x="260.1" y="205.0" width="0.8" height="0.8"/><rect x="259.7" y="196.6" width="0.8" height="0.8"/><rect x="261.7" y="197.4" width="0.8" height="0.8"/><rect x="260.3" y="192.9" width="0.8" height="0.8"/><rect x="260.8" y="196.0" width="0.8" height="0.8"/><rect x="263.8" y="201.0" width="0.8" height="0.8"/><rect x="260.7" y="201.1" width="0.8" height="0.8"/><rect x="259.9" y="202.8" width="0.8" height="0.8"/><rect x="260.8" y="200.7" width="0.8" height="0.8"/><rect x="257.4" y="199.6" width="0.8" height="0.8"/><rect x="256.4" y="188.6" width="0.8" height="0.8"/><rect x="260.0" y="193.9" width="0.8" height="0.8"/><rect x="261.2" y="208.3" width="0.8" height="0.8"/><rect x="258.6" y="195.1" width="0.8" height="0.8"/><rect x="261.3" y="200.3" width="0.8" height="0.8"/><rect x="260.3" y="197.1" width="0.8" height="0.8"/><rect x="262.6" y="200.4" width="0.8" height="0.8"/><rect x="258.1" y="197.6" width="0.8" height="0.8"/><rect x="260.9" y="193.1" width="0.8" height="0.8"/><rect x="261.5" y="194.1" width="0.8" height="0.8"/><rect x="263.3" y="198.9" width="0.8" height="0.8"/><rect x="261.0" y="195.3" width="0.8" height="0.8"/><rect x="260.5" y="188.8" width="0.8" height="0.8"/><rect x="257.9" y="199.7" width="0.8" height="0.8"/><rect x="255.3" y="201.9" width="0.8" height="0.8"/><rect x="256.3" y="201.5" width="0.8" height="0.8"/><rect x="258.6" y="201.6" width="0.8" height="0.8"/><rect x="261.1" y="190.9" width="0.8" height="0.8"/><rect x="264.0" y="204.6" width="0.8" height="0.8"/><rect x="260.6" y="196.7" width="0.8" height="0.8"/><rect x="260.4" y="193.5" width="0.8" height="0.8"/><rect x="263.7" y="195.5" width="0.8" height="0.8"/><rect x="260.7" y="194.4" width="0.8" height="0.8"/><rect x="259.2" y="192.1" width="0.8" height="0.8"/><rect x="264.1" y="197.3" width="0.8" height="0.8"/><rect x="263.3" y="198.1" width="0.8" height="0.8"/><rect x="259.0" y="196.5" width="0.8" height="0.8"/><rect x="259.3" y="198.0" width="0.8" height="0.8"/><rect x="259.8" y="196.6" width="0.8" height="0.8"/><rect x="257.2" y="194.3" width="0.8" height="0.8"/><rect x="265.1" y="194.9" width="0.8" height="0.8"/><rect x="258.1" y="199.6" width="0.8" height="0.8"/><rect x="264.5" y="191.3" width="0.8" height="0.8"/><rect x="260.3" y="195.1" width="0.8" height="0.8"/><rect x="256.2" y="201.4" width="0.8" height="0.8"/><rect x="260.7" y="198.3" width="0.8" height="0.8"/><rect x="258.8" y="200.1" width="0.8" height="0.8"/><rect x="259.4" y="197.3" width="0.8" height="0.8"/><rect x="257.9" y="192.4" width="0.8" height="0.8"/><rect x="264.3" y="195.7" width="0.8" height="0.8"/><rect x="261.6" y="197.8" width="0.8" height="0.8"/><rect x="259.7" y="195.7" width="0.8" height="0.8"/><rect x="262.4" y="196.6" width="0.8" height="0.8"/><rect x="260.4" y="198.1" width="0.8" height="0.8"/><rect x="263.9" y="201.1" width="0.8" height="0.8"/><rect x="261.8" y="195.4" width="0.8" height="0.8"/><rect x="257.2" y="202.4" width="0.8" height="0.8"/><rect x="263.3" y="197.4" width="0.8" height="0.8"/><rect x="262.2" y="201.6" width="0.8" height="0.8"/><rect x="263.0" y="202.2" width="0.8" height="0.8"/><rect x="259.6" y="205.0" width="0.8" height="0.8"/><rect x="257.6" y="202.0" width="0.8" height="0.8"/><rect x="262.1" y="202.0" width="0.8" height="0.8"/><rect x="265.7" y="204.8" width="0.8" height="0.8"/><rect x="257.8" y="190.2" width="0.8" height="0.8"/><rect x="262.9" y="193.3" width="0.8" height="0.8"/><rect x="260.8" y="201.9" width="0.8" height="0.8"/><rect x="256.5" y="188.3" width="0.8" height="0.8"/><rect x="261.5" y="198.2" width="0.8" height="0.8"/><rect x="260.2" y="198.2" width="0.8" height="0.8"/><rect x="258.6" y="191.0" width="0.8" height="0.8"/><rect x="260.4" y="193.5" width="0.8" height="0.8"/><rect x="256.5" y="200.3" width="0.8" height="0.8"/><rect x="260.6" y="199.9" width="0.8" height="0.8"/><rect x="258.2" y="195.0" width="0.8" height="0.8"/><rect x="258.2" y="193.9" width="0.8" height="0.8"/><rect x="261.3" y="194.4" width="0.8" height="0.8"/><rect x="261.7" y="199.6" width="0.8" height="0.8"/><rect x="266.1" y="191.6" width="0.8" height="0.8"/><rect x="263.1" y="197.6" width="0.8" height="0.8"/><rect x="260.8" y="191.3" width="0.8" height="0.8"/><rect x="259.6" y="201.4" width="0.8" height="0.8"/><rect x="260.6" y="198.4" width="0.8" height="0.8"/><rect x="260.0" y="203.3" width="0.8" height="0.8"/><rect x="260.7" y="187.9" width="0.8" height="0.8"/><rect x="259.0" y="188.9" width="0.8" height="0.8"/><rect x="252.3" y="195.6" width="0.8" height="0.8"/><rect x="264.3" y="198.2" width="0.8" height="0.8"/><rect x="257.8" y="193.7" width="0.8" height="0.8"/><rect x="263.7" y="198.7" width="0.8" height="0.8"/><rect x="260.9" y="197.8" width="0.8" height="0.8"/><rect x="260.9" y="201.7" width="0.8" height="0.8"/><rect x="262.2" y="199.0" width="0.8" height="0.8"/><rect x="258.1" y="200.4" width="0.8" height="0.8"/><rect x="259.0" y="203.0" width="0.8" height="0.8"/><rect x="257.5" y="197.4" width="0.8" height="0.8"/><rect x="260.8" y="191.9" width="0.8" height="0.8"/><rect x="265.3" y="204.7" width="0.8" height="0.8"/><rect x="259.6" y="201.5" width="0.8" height="0.8"/><rect x="261.8" y="186.0" width="0.8" height="0.8"/><rect x="261.5" y="197.7" width="0.8" height="0.8"/><rect x="261.0" y="193.0" width="0.8" height="0.8"/><rect x="260.1" y="197.2" width="0.8" height="0.8"/><rect x="263.9" y="199.5" width="0.8" height="0.8"/><rect x="260.8" y="205.0" width="0.8" height="0.8"/><rect x="259.4" y="196.2" width="0.8" height="0.8"/><rect x="256.1" y="205.2" width="0.8" height="0.8"/><rect x="263.3" y="202.2" width="0.8" height="0.8"/><rect x="262.5" y="198.5" width="0.8" height="0.8"/><rect x="261.4" y="196.8" width="0.8" height="0.8"/><rect x="260.3" y="198.2" width="0.8" height="0.8"/><rect x="264.7" y="200.6" width="0.8" height="0.8"/><rect x="260.6" y="195.3" width="0.8" height="0.8"/><rect x="259.1" y="205.4" width="0.8" height="0.8"/><rect x="262.1" y="198.3" width="0.8" height="0.8"/><rect x="259.9" y="192.9" width="0.8" height="0.8"/><rect x="260.6" y="202.0" width="0.8" height="0.8"/><rect x="259.8" y="197.0" width="0.8" height="0.8"/><rect x="260.2" y="198.5" width="0.8" height="0.8"/><rect x="256.7" y="196.9" width="0.8" height="0.8"/><rect x="258.6" y="202.1" width="0.8" height="0.8"/><rect x="258.8" y="200.7" width="0.8" height="0.8"/><rect x="264.8" y="196.6" width="0.8" height="0.8"/><rect x="259.2" y="198.9" width="0.8" height="0.8"/><rect x="260.8" y="193.4" width="0.8" height="0.8"/><rect x="262.0" y="207.3" width="0.8" height="0.8"/><rect x="260.1" y="197.1" width="0.8" height="0.8"/><rect x="258.1" y="199.5" width="0.8" height="0.8"/><rect x="257.6" y="192.9" width="0.8" height="0.8"/><rect x="264.1" y="193.8" width="0.8" height="0.8"/><rect x="263.6" y="205.0" width="0.8" height="0.8"/><rect x="261.5" y="200.5" width="0.8" height="0.8"/><rect x="265.9" y="197.1" width="0.8" height="0.8"/><rect x="259.3" y="191.8" width="0.8" height="0.8"/><rect x="260.9" y="204.8" width="0.8" height="0.8"/><rect x="263.3" y="193.7" width="0.8" height="0.8"/><rect x="258.6" y="195.7" width="0.8" height="0.8"/><rect x="261.6" y="197.1" width="0.8" height="0.8"/><rect x="261.4" y="199.4" width="0.8" height="0.8"/><rect x="260.0" y="197.8" width="0.8" height="0.8"/><rect x="261.3" y="197.6" width="0.8" height="0.8"/><rect x="262.1" y="206.6" width="0.8" height="0.8"/><rect x="262.3" y="198.3" width="0.8" height="0.8"/><rect x="256.4" y="199.8" width="0.8" height="0.8"/><rect x="255.7" y="191.5" width="0.8" height="0.8"/><rect x="263.0" y="201.2" width="0.8" height="0.8"/><rect x="260.4" y="190.1" width="0.8" height="0.8"/><rect x="259.8" y="194.9" width="0.8" height="0.8"/><rect x="262.5" y="208.4" width="0.8" height="0.8"/><rect x="261.4" y="194.4" width="0.8" height="0.8"/><rect x="257.8" y="197.7" width="0.8" height="0.8"/><rect x="260.3" y="192.7" width="0.8" height="0.8"/><rect x="261.1" y="192.7" width="0.8" height="0.8"/><rect x="263.7" y="202.9" width="0.8" height="0.8"/><rect x="263.6" y="195.8" width="0.8" height="0.8"/><rect x="262.1" y="197.4" width="0.8" height="0.8"/><rect x="259.8" y="196.4" width="0.8" height="0.8"/><rect x="257.4" y="191.4" width="0.8" height="0.8"/><rect x="262.9" y="197.1" width="0.8" height="0.8"/><rect x="261.4" y="202.6" width="0.8" height="0.8"/><rect x="256.3" y="194.4" width="0.8" height="0.8"/><rect x="261.3" y="199.8" width="0.8" height="0.8"/><rect x="259.8" y="202.7" width="0.8" height="0.8"/><rect x="261.3" y="192.4" width="0.8" height="0.8"/><rect x="258.4" y="201.7" width="0.8" height="0.8"/><rect x="262.0" y="189.3" width="0.8" height="0.8"/><rect x="264.3" y="200.8" width="0.8" height="0.8"/><rect x="264.3" y="196.2" width="0.8" height="0.8"/><rect x="260.0" y="192.8" width="0.8" height="0.8"/><rect x="267.4" y="197.2" width="0.8" height="0.8"/><rect x="264.9" y="195.0" width="0.8" height="0.8"/><rect x="261.2" y="190.3" width="0.8" height="0.8"/><rect x="259.8" y="202.5" width="0.8" height="0.8"/><rect x="257.5" y="202.9" width="0.8" height="0.8"/><rect x="261.7" y="193.2" width="0.8" height="0.8"/><rect x="259.5" y="195.9" width="0.8" height="0.8"/><rect x="260.7" y="195.5" width="0.8" height="0.8"/><rect x="258.6" y="196.6" width="0.8" height="0.8"/><rect x="258.1" y="192.1" width="0.8" height="0.8"/><rect x="260.7" y="202.1" width="0.8" height="0.8"/><rect x="256.8" y="198.0" width="0.8" height="0.8"/><rect x="259.1" y="193.5" width="0.8" height="0.8"/><rect x="263.0" y="195.6" width="0.8" height="0.8"/><rect x="264.7" y="194.4" width="0.8" height="0.8"/><rect x="261.8" y="197.0" width="0.8" height="0.8"/><rect x="258.8" y="200.7" width="0.8" height="0.8"/><rect x="260.4" y="200.8" width="0.8" height="0.8"/><rect x="260.7" y="193.0" width="0.8" height="0.8"/><rect x="260.5" y="198.2" width="0.8" height="0.8"/><rect x="263.3" y="193.8" width="0.8" height="0.8"/><rect x="260.7" y="190.1" width="0.8" height="0.8"/><rect x="262.5" y="193.0" width="0.8" height="0.8"/><rect x="256.1" y="197.7" width="0.8" height="0.8"/><rect x="263.7" y="191.0" width="0.8" height="0.8"/><rect x="258.0" y="194.6" width="0.8" height="0.8"/><rect x="257.9" y="199.7" width="0.8" height="0.8"/><rect x="258.7" y="194.7" width="0.8" height="0.8"/><rect x="262.3" y="194.5" width="0.8" height="0.8"/><rect x="261.9" y="193.5" width="0.8" height="0.8"/><rect x="257.6" y="189.6" width="0.8" height="0.8"/><rect x="265.6" y="196.5" width="0.8" height="0.8"/><rect x="261.4" y="197.9" width="0.8" height="0.8"/><rect x="261.2" y="198.2" width="0.8" height="0.8"/><rect x="265.8" y="193.2" width="0.8" height="0.8"/><rect x="256.8" y="193.3" width="0.8" height="0.8"/><rect x="257.3" y="201.4" width="0.8" height="0.8"/><rect x="262.9" y="193.6" width="0.8" height="0.8"/><rect x="257.2" y="196.4" width="0.8" height="0.8"/><rect x="264.4" y="185.0" width="0.8" height="0.8"/><rect x="262.2" y="193.1" width="0.8" height="0.8"/><rect x="263.5" y="193.0" width="0.8" height="0.8"/><rect x="260.1" y="191.1" width="0.8" height="0.8"/><rect x="258.3" y="204.4" width="0.8" height="0.8"/><rect x="262.9" y="196.2" width="0.8" height="0.8"/><rect x="258.5" y="189.3" width="0.8" height="0.8"/><rect x="259.8" y="197.9" width="0.8" height="0.8"/><rect x="260.6" y="197.6" width="0.8" height="0.8"/><rect x="257.9" y="197.7" width="0.8" height="0.8"/><rect x="260.7" y="203.9" width="0.8" height="0.8"/><rect x="265.7" y="197.4" width="0.8" height="0.8"/><rect x="258.8" y="197.7" width="0.8" height="0.8"/><rect x="259.2" y="194.6" width="0.8" height="0.8"/><rect x="260.6" y="193.2" width="0.8" height="0.8"/><rect x="262.4" y="197.5" width="0.8" height="0.8"/><rect x="261.5" y="197.2" width="0.8" height="0.8"/><rect x="258.9" y="193.6" width="0.8" height="0.8"/><rect x="260.2" y="195.5" width="0.8" height="0.8"/><rect x="261.4" y="198.0" width="0.8" height="0.8"/><rect x="257.3" y="198.3" width="0.8" height="0.8"/><rect x="257.3" y="195.2" width="0.8" height="0.8"/><rect x="260.0" y="188.5" width="0.8" height="0.8"/><rect x="261.0" y="198.7" width="0.8" height="0.8"/><rect x="260.4" y="196.0" width="0.8" height="0.8"/><rect x="259.8" y="193.5" width="0.8" height="0.8"/><rect x="260.1" y="195.5" width="0.8" height="0.8"/><rect x="261.0" y="192.5" width="0.8" height="0.8"/><rect x="261.4" y="198.7" width="0.8" height="0.8"/><rect x="260.4" y="196.0" width="0.8" height="0.8"/><rect x="262.2" y="190.3" width="0.8" height="0.8"/><rect x="262.0" y="199.1" width="0.8" height="0.8"/><rect x="261.5" y="199.8" width="0.8" height="0.8"/><rect x="259.1" y="196.8" width="0.8" height="0.8"/><rect x="262.5" y="200.0" width="0.8" height="0.8"/><rect x="261.3" y="191.0" width="0.8" height="0.8"/><rect x="262.2" y="203.4" width="0.8" height="0.8"/><rect x="263.4" y="199.1" width="0.8" height="0.8"/><rect x="256.8" y="202.3" width="0.8" height="0.8"/><rect x="260.4" y="186.4" width="0.8" height="0.8"/><rect x="261.8" y="191.1" width="0.8" height="0.8"/><rect x="257.4" y="195.1" width="0.8" height="0.8"/><rect x="264.1" y="196.3" width="0.8" height="0.8"/><rect x="261.5" y="206.0" width="0.8" height="0.8"/><rect x="264.9" y="197.5" width="0.8" height="0.8"/><rect x="260.2" y="192.2" width="0.8" height="0.8"/><rect x="259.0" y="200.0" width="0.8" height="0.8"/><rect x="261.8" y="198.5" width="0.8" height="0.8"/><rect x="263.4" y="194.4" width="0.8" height="0.8"/><rect x="260.7" y="201.4" width="0.8" height="0.8"/><rect x="262.3" y="202.9" width="0.8" height="0.8"/><rect x="261.8" y="196.6" width="0.8" height="0.8"/><rect x="261.7" y="193.4" width="0.8" height="0.8"/><rect x="256.5" y="200.7" width="0.8" height="0.8"/><rect x="260.7" y="199.4" width="0.8" height="0.8"/><rect x="256.4" y="196.3" width="0.8" height="0.8"/><rect x="259.2" y="194.0" width="0.8" height="0.8"/><rect x="254.9" y="196.5" width="0.8" height="0.8"/><rect x="263.1" y="199.8" width="0.8" height="0.8"/><rect x="259.2" y="197.9" width="0.8" height="0.8"/><rect x="262.8" y="185.3" width="0.8" height="0.8"/><rect x="260.5" y="200.5" width="0.8" height="0.8"/><rect x="262.6" y="205.8" width="0.8" height="0.8"/><rect x="263.8" y="199.4" width="0.8" height="0.8"/><rect x="261.6" y="201.6" width="0.8" height="0.8"/><rect x="259.4" y="197.8" width="0.8" height="0.8"/><rect x="263.2" y="207.0" width="0.8" height="0.8"/><rect x="260.4" y="197.8" width="0.8" height="0.8"/><rect x="261.3" y="204.2" width="0.8" height="0.8"/><rect x="260.7" y="204.8" width="0.8" height="0.8"/><rect x="258.3" y="197.1" width="0.8" height="0.8"/><rect x="260.3" y="201.6" width="0.8" height="0.8"/><rect x="263.5" y="191.1" width="0.8" height="0.8"/><rect x="258.4" y="199.5" width="0.8" height="0.8"/><rect x="259.1" y="191.0" width="0.8" height="0.8"/><rect x="263.5" y="200.3" width="0.8" height="0.8"/><rect x="262.1" y="195.8" width="0.8" height="0.8"/><rect x="263.5" y="196.9" width="0.8" height="0.8"/><rect x="263.7" y="193.8" width="0.8" height="0.8"/><rect x="258.6" y="198.9" width="0.8" height="0.8"/><rect x="259.0" y="201.1" width="0.8" height="0.8"/><rect x="261.5" y="193.8" width="0.8" height="0.8"/><rect x="261.0" y="196.4" width="0.8" height="0.8"/><rect x="263.2" y="195.1" width="0.8" height="0.8"/><rect x="259.7" y="203.6" width="0.8" height="0.8"/><rect x="266.6" y="207.2" width="0.8" height="0.8"/><rect x="261.0" y="199.0" width="0.8" height="0.8"/><rect x="264.8" y="197.4" width="0.8" height="0.8"/><rect x="258.3" y="198.5" width="0.8" height="0.8"/><rect x="262.0" y="194.2" width="0.8" height="0.8"/><rect x="256.5" y="191.4" width="0.8" height="0.8"/><rect x="262.5" y="194.5" width="0.8" height="0.8"/><rect x="260.4" y="199.0" width="0.8" height="0.8"/><rect x="262.4" y="196.5" width="0.8" height="0.8"/><rect x="262.1" y="193.9" width="0.8" height="0.8"/><rect x="259.9" y="193.3" width="0.8" height="0.8"/><rect x="263.7" y="197.9" width="0.8" height="0.8"/><rect x="258.9" y="196.4" width="0.8" height="0.8"/><rect x="260.2" y="201.2" width="0.8" height="0.8"/><rect x="256.7" y="193.2" width="0.8" height="0.8"/><rect x="259.8" y="209.6" width="0.8" height="0.8"/><rect x="263.3" y="197.5" width="0.8" height="0.8"/><rect x="262.7" y="207.5" width="0.8" height="0.8"/><rect x="260.2" y="196.3" width="0.8" height="0.8"/><rect x="264.0" y="200.3" width="0.8" height="0.8"/><rect x="262.5" y="195.7" width="0.8" height="0.8"/><rect x="265.8" y="205.9" width="0.8" height="0.8"/><rect x="262.3" y="201.1" width="0.8" height="0.8"/><rect x="255.5" y="200.9" width="0.8" height="0.8"/><rect x="260.3" y="200.0" width="0.8" height="0.8"/><rect x="262.6" y="196.4" width="0.8" height="0.8"/><rect x="256.4" y="199.7" width="0.8" height="0.8"/><rect x="258.9" y="196.5" width="0.8" height="0.8"/><rect x="259.2" y="196.4" width="0.8" height="0.8"/><rect x="254.8" y="203.6" width="0.8" height="0.8"/><rect x="261.5" y="203.1" width="0.8" height="0.8"/><rect x="265.9" y="198.1" width="0.8" height="0.8"/><rect x="256.1" y="193.9" width="0.8" height="0.8"/><rect x="257.7" y="195.7" width="0.8" height="0.8"/><rect x="261.0" y="188.8" width="0.8" height="0.8"/><rect x="261.7" y="191.1" width="0.8" height="0.8"/><rect x="261.6" y="197.5" width="0.8" height="0.8"/><rect x="260.0" y="197.7" width="0.8" height="0.8"/><rect x="259.4" y="195.2" width="0.8" height="0.8"/><rect x="256.4" y="197.9" width="0.8" height="0.8"/><rect x="265.6" y="207.1" width="0.8" height="0.8"/><rect x="264.2" y="201.2" width="0.8" height="0.8"/><rect x="259.0" y="204.6" width="0.8" height="0.8"/><rect x="260.7" y="197.7" width="0.8" height="0.8"/><rect x="260.0" y="198.4" width="0.8" height="0.8"/><rect x="259.7" y="197.6" width="0.8" height="0.8"/><rect x="258.0" y="196.3" width="0.8" height="0.8"/><rect x="266.7" y="197.7" width="0.8" height="0.8"/><rect x="260.2" y="200.4" width="0.8" height="0.8"/><rect x="262.6" y="192.9" width="0.8" height="0.8"/><rect x="260.3" y="202.2" width="0.8" height="0.8"/><rect x="261.5" y="198.6" width="0.8" height="0.8"/><rect x="264.8" y="194.9" width="0.8" height="0.8"/><rect x="261.0" y="195.6" width="0.8" height="0.8"/><rect x="264.7" y="189.0" width="0.8" height="0.8"/><rect x="259.1" y="195.6" width="0.8" height="0.8"/><rect x="262.5" y="200.8" width="0.8" height="0.8"/><rect x="264.4" y="190.8" width="0.8" height="0.8"/><rect x="262.8" y="196.7" width="0.8" height="0.8"/><rect x="259.1" y="200.5" width="0.8" height="0.8"/><rect x="258.4" y="188.4" width="0.8" height="0.8"/><rect x="259.8" y="191.1" width="0.8" height="0.8"/><rect x="259.1" y="199.7" width="0.8" height="0.8"/><rect x="261.6" y="205.3" width="0.8" height="0.8"/><rect x="260.3" y="190.9" width="0.8" height="0.8"/><rect x="258.8" y="193.8" width="0.8" height="0.8"/><rect x="257.6" y="200.0" width="0.8" height="0.8"/><rect x="259.1" y="188.9" width="0.8" height="0.8"/><rect x="262.6" y="197.5" width="0.8" height="0.8"/><rect x="261.7" y="198.5" width="0.8" height="0.8"/><rect x="262.4" y="198.2" width="0.8" height="0.8"/><rect x="264.0" y="200.0" width="0.8" height="0.8"/><rect x="261.8" y="199.9" width="0.8" height="0.8"/><rect x="257.0" y="197.2" width="0.8" height="0.8"/><rect x="260.1" y="199.0" width="0.8" height="0.8"/><rect x="257.3" y="205.5" width="0.8" height="0.8"/><rect x="261.1" y="192.4" width="0.8" height="0.8"/><rect x="256.4" y="196.7" width="0.8" height="0.8"/><rect x="260.6" y="194.7" width="0.8" height="0.8"/><rect x="261.0" y="195.1" width="0.8" height="0.8"/><rect x="262.2" y="194.7" width="0.8" height="0.8"/><rect x="260.7" y="202.5" width="0.8" height="0.8"/><rect x="267.5" y="193.4" width="0.8" height="0.8"/><rect x="259.6" y="194.1" width="0.8" height="0.8"/><rect x="262.8" y="192.7" width="0.8" height="0.8"/><rect x="259.5" y="197.9" width="0.8" height="0.8"/><rect x="258.3" y="193.6" width="0.8" height="0.8"/><rect x="259.6" y="188.3" width="0.8" height="0.8"/><rect x="257.0" y="196.1" width="0.8" height="0.8"/><rect x="261.2" y="197.1" width="0.8" height="0.8"/><rect x="256.2" y="195.9" width="0.8" height="0.8"/><rect x="262.9" y="200.6" width="0.8" height="0.8"/><rect x="260.6" y="193.9" width="0.8" height="0.8"/><rect x="262.4" y="195.3" width="0.8" height="0.8"/><rect x="257.8" y="194.3" width="0.8" height="0.8"/><rect x="264.6" y="199.0" width="0.8" height="0.8"/><rect x="263.8" y="195.8" width="0.8" height="0.8"/><rect x="263.2" y="195.2" width="0.8" height="0.8"/><rect x="260.4" y="209.4" width="0.8" height="0.8"/><rect x="262.8" y="195.7" width="0.8" height="0.8"/><rect x="260.6" y="199.5" width="0.8" height="0.8"/><rect x="263.9" y="195.7" width="0.8" height="0.8"/><rect x="256.3" y="196.7" width="0.8" height="0.8"/><rect x="260.8" y="198.5" width="0.8" height="0.8"/><rect x="264.2" y="199.5" width="0.8" height="0.8"/><rect x="262.9" y="192.9" width="0.8" height="0.8"/><rect x="263.1" y="207.6" width="0.8" height="0.8"/><rect x="262.8" y="199.2" width="0.8" height="0.8"/><rect x="261.2" y="206.2" width="0.8" height="0.8"/><rect x="258.4" y="197.5" width="0.8" height="0.8"/><rect x="262.0" y="201.4" width="0.8" height="0.8"/><rect x="259.7" y="199.4" width="0.8" height="0.8"/><rect x="260.1" y="198.6" width="0.8" height="0.8"/><rect x="260.5" y="192.7" width="0.8" height="0.8"/><rect x="260.7" y="202.0" width="0.8" height="0.8"/><rect x="258.3" y="196.9" width="0.8" height="0.8"/><rect x="262.5" y="193.1" width="0.8" height="0.8"/><rect x="261.3" y="193.1" width="0.8" height="0.8"/><rect x="263.8" y="208.6" width="0.8" height="0.8"/><rect x="266.1" y="197.0" width="0.8" height="0.8"/><rect x="262.7" y="198.6" width="0.8" height="0.8"/><rect x="261.1" y="205.1" width="0.8" height="0.8"/><rect x="257.4" y="202.9" width="0.8" height="0.8"/><rect x="260.7" y="204.5" width="0.8" height="0.8"/><rect x="261.3" y="194.9" width="0.8" height="0.8"/><rect x="261.5" y="201.4" width="0.8" height="0.8"/><rect x="260.9" y="200.2" width="0.8" height="0.8"/><rect x="259.4" y="188.2" width="0.8" height="0.8"/><rect x="263.1" y="201.2" width="0.8" height="0.8"/><rect x="261.2" y="198.3" width="0.8" height="0.8"/><rect x="263.5" y="195.9" width="0.8" height="0.8"/><rect x="259.0" y="197.1" width="0.8" height="0.8"/><rect x="263.9" y="191.6" width="0.8" height="0.8"/><rect x="263.9" y="195.1" width="0.8" height="0.8"/><rect x="257.9" y="203.8" width="0.8" height="0.8"/><rect x="260.5" y="192.0" width="0.8" height="0.8"/><rect x="259.9" y="202.3" width="0.8" height="0.8"/><rect x="263.9" y="196.0" width="0.8" height="0.8"/><rect x="261.9" y="201.3" width="0.8" height="0.8"/><rect x="259.1" y="199.6" width="0.8" height="0.8"/><rect x="260.7" y="195.5" width="0.8" height="0.8"/><rect x="259.5" y="198.3" width="0.8" height="0.8"/><rect x="260.9" y="195.4" width="0.8" height="0.8"/><rect x="259.7" y="203.1" width="0.8" height="0.8"/><rect x="261.4" y="202.1" width="0.8" height="0.8"/><rect x="263.9" y="200.7" width="0.8" height="0.8"/><rect x="266.7" y="194.2" width="0.8" height="0.8"/><rect x="262.9" y="196.5" width="0.8" height="0.8"/><rect x="265.6" y="205.8" width="0.8" height="0.8"/><rect x="255.7" y="193.5" width="0.8" height="0.8"/><rect x="262.5" y="201.6" width="0.8" height="0.8"/><rect x="262.7" y="197.7" width="0.8" height="0.8"/><rect x="262.0" y="201.0" width="0.8" height="0.8"/><rect x="260.6" y="202.7" width="0.8" height="0.8"/><rect x="254.9" y="200.9" width="0.8" height="0.8"/><rect x="258.1" y="202.4" width="0.8" height="0.8"/><rect x="260.2" y="193.9" width="0.8" height="0.8"/><rect x="261.8" y="193.8" width="0.8" height="0.8"/><rect x="258.4" y="190.8" width="0.8" height="0.8"/><rect x="260.7" y="200.3" width="0.8" height="0.8"/><rect x="263.5" y="197.3" width="0.8" height="0.8"/><rect x="263.5" y="198.1" width="0.8" height="0.8"/><rect x="260.6" y="200.6" width="0.8" height="0.8"/><rect x="263.6" y="196.4" width="0.8" height="0.8"/><rect x="260.2" y="197.3" width="0.8" height="0.8"/><rect x="261.0" y="193.9" width="0.8" height="0.8"/><rect x="263.5" y="196.2" width="0.8" height="0.8"/><rect x="262.0" y="194.2" width="0.8" height="0.8"/><rect x="261.7" y="199.8" width="0.8" height="0.8"/><rect x="259.7" y="207.3" width="0.8" height="0.8"/><rect x="261.8" y="206.2" width="0.8" height="0.8"/><rect x="263.3" y="195.0" width="0.8" height="0.8"/><rect x="259.8" y="200.0" width="0.8" height="0.8"/><rect x="261.0" y="198.2" width="0.8" height="0.8"/><rect x="260.1" y="189.7" width="0.8" height="0.8"/><rect x="260.2" y="187.8" width="0.8" height="0.8"/><rect x="261.8" y="194.7" width="0.8" height="0.8"/><rect x="258.9" y="197.0" width="0.8" height="0.8"/><rect x="261.5" y="191.4" width="0.8" height="0.8"/><rect x="256.3" y="193.1" width="0.8" height="0.8"/><rect x="255.5" y="193.6" width="0.8" height="0.8"/><rect x="264.9" y="193.1" width="0.8" height="0.8"/><rect x="262.5" y="191.7" width="0.8" height="0.8"/><rect x="261.6" y="196.5" width="0.8" height="0.8"/><rect x="260.6" y="200.6" width="0.8" height="0.8"/><rect x="265.4" y="198.9" width="0.8" height="0.8"/><rect x="261.1" y="193.5" width="0.8" height="0.8"/><rect x="262.3" y="196.9" width="0.8" height="0.8"/><rect x="263.0" y="197.8" width="0.8" height="0.8"/><rect x="265.3" y="188.9" width="0.8" height="0.8"/><rect x="260.0" y="202.1" width="0.8" height="0.8"/><rect x="259.9" y="194.4" width="0.8" height="0.8"/><rect x="260.1" y="191.7" width="0.8" height="0.8"/><rect x="261.1" y="209.2" width="0.8" height="0.8"/><rect x="263.8" y="192.9" width="0.8" height="0.8"/><rect x="258.5" y="196.1" width="0.8" height="0.8"/><rect x="263.4" y="194.2" width="0.8" height="0.8"/><rect x="259.0" y="202.1" width="0.8" height="0.8"/><rect x="263.0" y="196.3" width="0.8" height="0.8"/><rect x="257.9" y="190.9" width="0.8" height="0.8"/><rect x="259.0" y="187.7" width="0.8" height="0.8"/><rect x="262.7" y="195.1" width="0.8" height="0.8"/><rect x="262.1" y="206.6" width="0.8" height="0.8"/><rect x="263.8" y="192.7" width="0.8" height="0.8"/><rect x="263.1" y="203.3" width="0.8" height="0.8"/><rect x="258.9" y="193.6" width="0.8" height="0.8"/><rect x="260.5" y="190.6" width="0.8" height="0.8"/><rect x="264.6" y="186.9" width="0.8" height="0.8"/><rect x="257.9" y="196.8" width="0.8" height="0.8"/><rect x="260.2" y="198.8" width="0.8" height="0.8"/><rect x="261.5" y="197.0" width="0.8" height="0.8"/><rect x="263.8" y="188.2" width="0.8" height="0.8"/><rect x="260.8" y="194.7" width="0.8" height="0.8"/><rect x="261.1" y="199.0" width="0.8" height="0.8"/><rect x="258.4" y="195.1" width="0.8" height="0.8"/><rect x="262.9" y="199.6" width="0.8" height="0.8"/><rect x="259.0" y="207.4" width="0.8" height="0.8"/><rect x="266.8" y="191.3" width="0.8" height="0.8"/><rect x="261.6" y="209.5" width="0.8" height="0.8"/><rect x="262.8" y="199.0" width="0.8" height="0.8"/><rect x="260.3" y="195.5" width="0.8" height="0.8"/><rect x="260.2" y="195.5" width="0.8" height="0.8"/><rect x="262.7" y="196.2" width="0.8" height="0.8"/><rect x="259.7" y="192.5" width="0.8" height="0.8"/><rect x="260.7" y="193.9" width="0.8" height="0.8"/><rect x="260.3" y="202.8" width="0.8" height="0.8"/><rect x="261.8" y="200.3" width="0.8" height="0.8"/><rect x="261.7" y="198.3" width="0.8" height="0.8"/><rect x="260.5" y="196.6" width="0.8" height="0.8"/><rect x="262.8" y="193.0" width="0.8" height="0.8"/><rect x="264.3" y="198.2" width="0.8" height="0.8"/><rect x="258.9" y="195.7" width="0.8" height="0.8"/><rect x="259.0" y="198.7" width="0.8" height="0.8"/><rect x="258.9" y="203.3" width="0.8" height="0.8"/><rect x="258.8" y="187.5" width="0.8" height="0.8"/><rect x="258.9" y="188.8" width="0.8" height="0.8"/><rect x="260.7" y="202.9" width="0.8" height="0.8"/><rect x="262.5" y="191.8" width="0.8" height="0.8"/><rect x="258.8" y="206.2" width="0.8" height="0.8"/><rect x="261.6" y="198.0" width="0.8" height="0.8"/><rect x="263.5" y="209.3" width="0.8" height="0.8"/><rect x="264.2" y="198.6" width="0.8" height="0.8"/><rect x="261.7" y="200.8" width="0.8" height="0.8"/><rect x="259.2" y="193.1" width="0.8" height="0.8"/><rect x="260.9" y="193.6" width="0.8" height="0.8"/><rect x="260.6" y="198.4" width="0.8" height="0.8"/><rect x="266.9" y="194.1" width="0.8" height="0.8"/><rect x="260.5" y="197.2" width="0.8" height="0.8"/><rect x="261.9" y="202.8" width="0.8" height="0.8"/><rect x="259.5" y="194.2" width="0.8" height="0.8"/><rect x="256.5" y="193.7" width="0.8" height="0.8"/><rect x="262.2" y="198.2" width="0.8" height="0.8"/><rect x="258.2" y="196.3" width="0.8" height="0.8"/><rect x="260.9" y="200.3" width="0.8" height="0.8"/><rect x="259.3" y="196.8" width="0.8" height="0.8"/><rect x="256.1" y="192.7" width="0.8" height="0.8"/><rect x="265.0" y="187.9" width="0.8" height="0.8"/><rect x="259.9" y="199.0" width="0.8" height="0.8"/><rect x="259.8" y="194.3" width="0.8" height="0.8"/><rect x="260.6" y="198.0" width="0.8" height="0.8"/><rect x="260.6" y="189.4" width="0.8" height="0.8"/><rect x="260.4" y="194.1" width="0.8" height="0.8"/><rect x="259.4" y="199.0" width="0.8" height="0.8"/><rect x="262.5" y="202.1" width="0.8" height="0.8"/><rect x="259.5" y="202.3" width="0.8" height="0.8"/><rect x="263.9" y="203.2" width="0.8" height="0.8"/><rect x="264.4" y="197.3" width="0.8" height="0.8"/><rect x="260.3" y="201.8" width="0.8" height="0.8"/><rect x="257.2" y="199.0" width="0.8" height="0.8"/><rect x="259.4" y="196.3" width="0.8" height="0.8"/><rect x="256.3" y="193.9" width="0.8" height="0.8"/><rect x="260.7" y="202.1" width="0.8" height="0.8"/><rect x="263.4" y="197.6" width="0.8" height="0.8"/><rect x="260.3" y="194.2" width="0.8" height="0.8"/><rect x="261.8" y="196.9" width="0.8" height="0.8"/><rect x="262.4" y="206.1" width="0.8" height="0.8"/><rect x="260.7" y="191.1" width="0.8" height="0.8"/><rect x="258.6" y="191.3" width="0.8" height="0.8"/><rect x="257.7" y="204.0" width="0.8" height="0.8"/><rect x="261.4" y="191.0" width="0.8" height="0.8"/><rect x="262.5" y="203.8" width="0.8" height="0.8"/><rect x="259.9" y="194.9" width="0.8" height="0.8"/><rect x="259.9" y="199.3" width="0.8" height="0.8"/><rect x="262.5" y="203.4" width="0.8" height="0.8"/><rect x="264.0" y="203.5" width="0.8" height="0.8"/><rect x="264.3" y="201.0" width="0.8" height="0.8"/><rect x="256.8" y="197.4" width="0.8" height="0.8"/><rect x="261.6" y="196.2" width="0.8" height="0.8"/><rect x="263.2" y="196.3" width="0.8" height="0.8"/><rect x="258.4" y="204.6" width="0.8" height="0.8"/><rect x="262.5" y="199.0" width="0.8" height="0.8"/><rect x="263.2" y="202.9" width="0.8" height="0.8"/><rect x="261.7" y="186.7" width="0.8" height="0.8"/><rect x="259.0" y="195.9" width="0.8" height="0.8"/><rect x="258.2" y="198.9" width="0.8" height="0.8"/><rect x="263.9" y="195.8" width="0.8" height="0.8"/><rect x="257.8" y="207.3" width="0.8" height="0.8"/><rect x="259.6" y="192.3" width="0.8" height="0.8"/><rect x="261.4" y="200.0" width="0.8" height="0.8"/><rect x="259.0" y="201.6" width="0.8" height="0.8"/><rect x="259.5" y="193.8" width="0.8" height="0.8"/><rect x="261.3" y="201.5" width="0.8" height="0.8"/><rect x="259.2" y="199.5" width="0.8" height="0.8"/><rect x="260.6" y="211.0" width="0.8" height="0.8"/><rect x="259.0" y="204.4" width="0.8" height="0.8"/><rect x="260.7" y="197.4" width="0.8" height="0.8"/><rect x="262.7" y="202.1" width="0.8" height="0.8"/><rect x="264.1" y="199.5" width="0.8" height="0.8"/><rect x="259.2" y="195.5" width="0.8" height="0.8"/><rect x="262.1" y="200.7" width="0.8" height="0.8"/><rect x="264.4" y="199.9" width="0.8" height="0.8"/><rect x="263.6" y="205.0" width="0.8" height="0.8"/><rect x="261.2" y="191.2" width="0.8" height="0.8"/><rect x="257.7" y="191.4" width="0.8" height="0.8"/><rect x="264.9" y="194.1" width="0.8" height="0.8"/><rect x="264.0" y="200.7" width="0.8" height="0.8"/><rect x="265.3" y="202.6" width="0.8" height="0.8"/><rect x="260.5" y="197.1" width="0.8" height="0.8"/><rect x="261.0" y="198.8" width="0.8" height="0.8"/><rect x="259.4" y="197.8" width="0.8" height="0.8"/><rect x="265.0" y="190.2" width="0.8" height="0.8"/><rect x="261.5" y="193.8" width="0.8" height="0.8"/><rect x="261.3" y="201.9" width="0.8" height="0.8"/><rect x="260.7" y="201.6" width="0.8" height="0.8"/><rect x="256.7" y="203.1" width="0.8" height="0.8"/><rect x="259.2" y="200.9" width="0.8" height="0.8"/><rect x="261.3" y="186.1" width="0.8" height="0.8"/><rect x="258.8" y="199.0" width="0.8" height="0.8"/><rect x="264.8" y="199.3" width="0.8" height="0.8"/><rect x="261.5" y="191.5" width="0.8" height="0.8"/><rect x="264.5" y="206.3" width="0.8" height="0.8"/><rect x="260.9" y="197.0" width="0.8" height="0.8"/><rect x="256.6" y="202.1" width="0.8" height="0.8"/><rect x="267.8" y="201.3" width="0.8" height="0.8"/><rect x="264.1" y="200.5" width="0.8" height="0.8"/><rect x="258.2" y="204.1" width="0.8" height="0.8"/><rect x="257.6" y="197.0" width="0.8" height="0.8"/><rect x="261.5" y="202.1" width="0.8" height="0.8"/><rect x="261.9" y="199.8" width="0.8" height="0.8"/><rect x="258.8" y="192.1" width="0.8" height="0.8"/><rect x="261.0" y="194.7" width="0.8" height="0.8"/><rect x="257.4" y="192.2" width="0.8" height="0.8"/><rect x="259.5" y="189.5" width="0.8" height="0.8"/><rect x="257.3" y="190.5" width="0.8" height="0.8"/><rect x="261.3" y="199.9" width="0.8" height="0.8"/><rect x="266.0" y="191.1" width="0.8" height="0.8"/><rect x="259.0" y="202.2" width="0.8" height="0.8"/><rect x="260.2" y="196.5" width="0.8" height="0.8"/><rect x="265.2" y="196.4" width="0.8" height="0.8"/><rect x="257.8" y="191.9" width="0.8" height="0.8"/><rect x="261.7" y="199.4" width="0.8" height="0.8"/><rect x="257.2" y="193.5" width="0.8" height="0.8"/><rect x="262.2" y="200.7" width="0.8" height="0.8"/><rect x="259.1" y="200.9" width="0.8" height="0.8"/><rect x="262.3" y="189.8" width="0.8" height="0.8"/><rect x="260.0" y="199.9" width="0.8" height="0.8"/><rect x="259.3" y="188.2" width="0.8" height="0.8"/><rect x="260.1" y="201.5" width="0.8" height="0.8"/><rect x="264.9" y="187.9" width="0.8" height="0.8"/><rect x="267.6" y="192.8" width="0.8" height="0.8"/><rect x="263.3" y="203.7" width="0.8" height="0.8"/><rect x="263.4" y="198.7" width="0.8" height="0.8"/><rect x="257.8" y="200.9" width="0.8" height="0.8"/><rect x="258.9" y="186.4" width="0.8" height="0.8"/><rect x="268.2" y="201.3" width="0.8" height="0.8"/><rect x="265.5" y="193.8" width="0.8" height="0.8"/><rect x="264.6" y="205.3" width="0.8" height="0.8"/><rect x="264.8" y="197.9" width="0.8" height="0.8"/><rect x="257.7" y="197.2" width="0.8" height="0.8"/><rect x="255.1" y="190.2" width="0.8" height="0.8"/><rect x="261.0" y="193.4" width="0.8" height="0.8"/><rect x="260.4" y="197.5" width="0.8" height="0.8"/><rect x="265.8" y="204.0" width="0.8" height="0.8"/><rect x="260.7" y="203.6" width="0.8" height="0.8"/><rect x="258.8" y="196.5" width="0.8" height="0.8"/><rect x="263.2" y="192.3" width="0.8" height="0.8"/><rect x="260.1" y="191.9" width="0.8" height="0.8"/><rect x="261.1" y="205.5" width="0.8" height="0.8"/><rect x="258.8" y="199.0" width="0.8" height="0.8"/><rect x="258.5" y="192.7" width="0.8" height="0.8"/><rect x="257.6" y="204.7" width="0.8" height="0.8"/><rect x="266.9" y="200.2" width="0.8" height="0.8"/><rect x="258.9" y="201.2" width="0.8" height="0.8"/><rect x="259.9" y="201.7" width="0.8" height="0.8"/><rect x="261.6" y="199.3" width="0.8" height="0.8"/><rect x="262.4" y="195.3" width="0.8" height="0.8"/><rect x="259.7" y="190.1" width="0.8" height="0.8"/><rect x="259.7" y="191.5" width="0.8" height="0.8"/><rect x="260.4" y="193.6" width="0.8" height="0.8"/><rect x="261.1" y="200.1" width="0.8" height="0.8"/><rect x="257.1" y="194.3" width="0.8" height="0.8"/><rect x="258.3" y="201.4" width="0.8" height="0.8"/><rect x="265.2" y="201.9" width="0.8" height="0.8"/><rect x="259.9" y="204.7" width="0.8" height="0.8"/><rect x="256.9" y="204.9" width="0.8" height="0.8"/><rect x="259.1" y="185.2" width="0.8" height="0.8"/><rect x="267.7" y="205.3" width="0.8" height="0.8"/><rect x="258.1" y="198.8" width="0.8" height="0.8"/><rect x="260.2" y="198.5" width="0.8" height="0.8"/><rect x="256.9" y="194.9" width="0.8" height="0.8"/><rect x="262.0" y="199.0" width="0.8" height="0.8"/><rect x="263.9" y="198.4" width="0.8" height="0.8"/><rect x="266.9" y="194.7" width="0.8" height="0.8"/><rect x="261.5" y="189.2" width="0.8" height="0.8"/><rect x="257.5" y="204.1" width="0.8" height="0.8"/><rect x="258.3" y="200.4" width="0.8" height="0.8"/><rect x="260.6" y="193.2" width="0.8" height="0.8"/><rect x="259.9" y="195.6" width="0.8" height="0.8"/><rect x="259.5" y="201.5" width="0.8" height="0.8"/><rect x="262.5" y="195.3" width="0.8" height="0.8"/><rect x="258.4" y="199.3" width="0.8" height="0.8"/><rect x="260.5" y="202.7" width="0.8" height="0.8"/><rect x="267.7" y="201.9" width="0.8" height="0.8"/><rect x="260.7" y="197.2" width="0.8" height="0.8"/><rect x="258.6" y="193.8" width="0.8" height="0.8"/><rect x="258.2" y="196.2" width="0.8" height="0.8"/><rect x="259.7" y="201.4" width="0.8" height="0.8"/><rect x="259.8" y="197.1" width="0.8" height="0.8"/><rect x="257.6" y="205.6" width="0.8" height="0.8"/><rect x="262.1" y="206.2" width="0.8" height="0.8"/><rect x="262.9" y="204.9" width="0.8" height="0.8"/><rect x="260.2" y="201.3" width="0.8" height="0.8"/><rect x="267.8" y="192.4" width="0.8" height="0.8"/><rect x="263.9" y="205.8" width="0.8" height="0.8"/><rect x="261.9" y="201.5" width="0.8" height="0.8"/><rect x="264.1" y="194.9" width="0.8" height="0.8"/><rect x="261.9" y="193.9" width="0.8" height="0.8"/><rect x="259.0" y="195.1" width="0.8" height="0.8"/><rect x="260.4" y="198.7" width="0.8" height="0.8"/><rect x="262.0" y="191.3" width="0.8" height="0.8"/><rect x="266.1" y="203.4" width="0.8" height="0.8"/><rect x="262.7" y="196.3" width="0.8" height="0.8"/><rect x="260.6" y="200.6" width="0.8" height="0.8"/><rect x="261.9" y="190.1" width="0.8" height="0.8"/><rect x="262.8" y="211.7" width="0.8" height="0.8"/><rect x="255.9" y="202.7" width="0.8" height="0.8"/><rect x="261.8" y="197.5" width="0.8" height="0.8"/><rect x="264.5" y="192.4" width="0.8" height="0.8"/><rect x="261.2" y="204.9" width="0.8" height="0.8"/><rect x="260.3" y="196.0" width="0.8" height="0.8"/><rect x="261.1" y="195.9" width="0.8" height="0.8"/><rect x="264.9" y="193.7" width="0.8" height="0.8"/><rect x="263.1" y="192.1" width="0.8" height="0.8"/><rect x="262.6" y="197.5" width="0.8" height="0.8"/><rect x="253.9" y="198.0" width="0.8" height="0.8"/><rect x="257.9" y="195.9" width="0.8" height="0.8"/><rect x="264.9" y="192.7" width="0.8" height="0.8"/><rect x="258.0" y="204.8" width="0.8" height="0.8"/><rect x="261.1" y="205.3" width="0.8" height="0.8"/><rect x="261.7" y="193.8" width="0.8" height="0.8"/><rect x="260.6" y="203.8" width="0.8" height="0.8"/><rect x="263.3" y="198.0" width="0.8" height="0.8"/><rect x="260.9" y="197.5" width="0.8" height="0.8"/><rect x="259.3" y="207.1" width="0.8" height="0.8"/><rect x="260.8" y="192.7" width="0.8" height="0.8"/><rect x="259.5" y="201.4" width="0.8" height="0.8"/><rect x="262.5" y="197.4" width="0.8" height="0.8"/><rect x="259.0" y="198.1" width="0.8" height="0.8"/><rect x="256.3" y="191.8" width="0.8" height="0.8"/><rect x="262.9" y="195.7" width="0.8" height="0.8"/><rect x="261.8" y="203.8" width="0.8" height="0.8"/><rect x="262.5" y="198.1" width="0.8" height="0.8"/><rect x="266.5" y="201.2" width="0.8" height="0.8"/><rect x="259.9" y="201.5" width="0.8" height="0.8"/><rect x="261.9" y="194.0" width="0.8" height="0.8"/><rect x="261.0" y="197.2" width="0.8" height="0.8"/><rect x="255.5" y="197.2" width="0.8" height="0.8"/><rect x="260.0" y="195.9" width="0.8" height="0.8"/><rect x="256.4" y="196.3" width="0.8" height="0.8"/><rect x="260.7" y="198.5" width="0.8" height="0.8"/><rect x="257.8" y="201.0" width="0.8" height="0.8"/><rect x="257.6" y="196.9" width="0.8" height="0.8"/><rect x="264.3" y="194.7" width="0.8" height="0.8"/><rect x="259.4" y="203.1" width="0.8" height="0.8"/><rect x="259.8" y="196.6" width="0.8" height="0.8"/><rect x="261.4" y="203.0" width="0.8" height="0.8"/><rect x="254.9" y="194.1" width="0.8" height="0.8"/><rect x="258.1" y="192.9" width="0.8" height="0.8"/><rect x="258.5" y="194.0" width="0.8" height="0.8"/><rect x="261.6" y="193.8" width="0.8" height="0.8"/><rect x="261.1" y="199.9" width="0.8" height="0.8"/><rect x="258.9" y="198.6" width="0.8" height="0.8"/><rect x="265.2" y="199.5" width="0.8" height="0.8"/><rect x="259.1" y="197.7" width="0.8" height="0.8"/><rect x="258.4" y="199.3" width="0.8" height="0.8"/><rect x="263.1" y="194.1" width="0.8" height="0.8"/><rect x="260.2" y="203.2" width="0.8" height="0.8"/><rect x="259.5" y="198.9" width="0.8" height="0.8"/><rect x="258.1" y="194.2" width="0.8" height="0.8"/><rect x="259.4" y="208.0" width="0.8" height="0.8"/><rect x="259.7" y="195.6" width="0.8" height="0.8"/><rect x="259.3" y="197.2" width="0.8" height="0.8"/><rect x="262.5" y="198.9" width="0.8" height="0.8"/><rect x="266.2" y="199.0" width="0.8" height="0.8"/><rect x="264.6" y="199.3" width="0.8" height="0.8"/><rect x="262.4" y="191.4" width="0.8" height="0.8"/><rect x="260.5" y="197.7" width="0.8" height="0.8"/><rect x="260.2" y="188.1" width="0.8" height="0.8"/><rect x="263.1" y="196.2" width="0.8" height="0.8"/><rect x="259.7" y="196.8" width="0.8" height="0.8"/><rect x="260.2" y="199.9" width="0.8" height="0.8"/><rect x="257.5" y="193.7" width="0.8" height="0.8"/><rect x="261.6" y="198.7" width="0.8" height="0.8"/><rect x="259.8" y="195.4" width="0.8" height="0.8"/><rect x="258.6" y="197.7" width="0.8" height="0.8"/><rect x="263.9" y="193.1" width="0.8" height="0.8"/><rect x="264.8" y="201.9" width="0.8" height="0.8"/><rect x="259.6" y="201.6" width="0.8" height="0.8"/><rect x="257.0" y="190.0" width="0.8" height="0.8"/><rect x="257.4" y="196.1" width="0.8" height="0.8"/><rect x="260.0" y="195.6" width="0.8" height="0.8"/><rect x="261.1" y="188.2" width="0.8" height="0.8"/><rect x="262.1" y="191.5" width="0.8" height="0.8"/><rect x="259.1" y="196.1" width="0.8" height="0.8"/><rect x="257.8" y="191.7" width="0.8" height="0.8"/><rect x="258.2" y="197.9" width="0.8" height="0.8"/><rect x="262.3" y="200.6" width="0.8" height="0.8"/><rect x="258.2" y="194.4" width="0.8" height="0.8"/><rect x="258.4" y="200.1" width="0.8" height="0.8"/><rect x="255.5" y="203.7" width="0.8" height="0.8"/><rect x="259.5" y="194.4" width="0.8" height="0.8"/><rect x="261.7" y="202.8" width="0.8" height="0.8"/><rect x="261.7" y="202.8" width="0.8" height="0.8"/><rect x="261.1" y="203.7" width="0.8" height="0.8"/><rect x="264.0" y="197.5" width="0.8" height="0.8"/><rect x="264.5" y="198.8" width="0.8" height="0.8"/><rect x="261.0" y="193.8" width="0.8" height="0.8"/><rect x="260.0" y="201.6" width="0.8" height="0.8"/><rect x="257.4" y="201.0" width="0.8" height="0.8"/><rect x="261.7" y="199.3" width="0.8" height="0.8"/><rect x="255.1" y="197.5" width="0.8" height="0.8"/><rect x="262.5" y="194.5" width="0.8" height="0.8"/><rect x="261.0" y="187.1" width="0.8" height="0.8"/><rect x="262.5" y="195.0" width="0.8" height="0.8"/><rect x="263.1" y="189.5" width="0.8" height="0.8"/><rect x="262.6" y="196.9" width="0.8" height="0.8"/><rect x="262.9" y="193.7" width="0.8" height="0.8"/><rect x="259.2" y="208.3" width="0.8" height="0.8"/><rect x="258.6" y="194.8" width="0.8" height="0.8"/><rect x="260.1" y="193.3" width="0.8" height="0.8"/><rect x="263.9" y="205.9" width="0.8" height="0.8"/><rect x="259.0" y="190.1" width="0.8" height="0.8"/><rect x="263.8" y="203.1" width="0.8" height="0.8"/><rect x="262.9" y="203.3" width="0.8" height="0.8"/><rect x="258.5" y="197.2" width="0.8" height="0.8"/><rect x="257.2" y="191.5" width="0.8" height="0.8"/><rect x="263.4" y="194.9" width="0.8" height="0.8"/><rect x="266.7" y="198.3" width="0.8" height="0.8"/><rect x="259.1" y="201.7" width="0.8" height="0.8"/><rect x="265.5" y="200.2" width="0.8" height="0.8"/><rect x="257.6" y="199.7" width="0.8" height="0.8"/><rect x="264.4" y="195.7" width="0.8" height="0.8"/><rect x="258.8" y="202.7" width="0.8" height="0.8"/><rect x="261.2" y="192.9" width="0.8" height="0.8"/><rect x="259.8" y="194.5" width="0.8" height="0.8"/><rect x="261.6" y="198.5" width="0.8" height="0.8"/><rect x="263.8" y="201.3" width="0.8" height="0.8"/><rect x="256.7" y="199.9" width="0.8" height="0.8"/><rect x="263.1" y="200.1" width="0.8" height="0.8"/><rect x="263.5" y="195.5" width="0.8" height="0.8"/><rect x="258.3" y="202.3" width="0.8" height="0.8"/><rect x="258.0" y="188.1" width="0.8" height="0.8"/><rect x="263.5" y="194.7" width="0.8" height="0.8"/><rect x="260.0" y="191.6" width="0.8" height="0.8"/><rect x="257.4" y="192.7" width="0.8" height="0.8"/><rect x="259.9" y="199.7" width="0.8" height="0.8"/><rect x="254.8" y="201.5" width="0.8" height="0.8"/><rect x="257.7" y="193.1" width="0.8" height="0.8"/><rect x="262.6" y="197.7" width="0.8" height="0.8"/><rect x="256.8" y="206.5" width="0.8" height="0.8"/><rect x="258.6" y="199.1" width="0.8" height="0.8"/><rect x="261.3" y="204.5" width="0.8" height="0.8"/><rect x="259.6" y="202.6" width="0.8" height="0.8"/><rect x="258.9" y="203.2" width="0.8" height="0.8"/><rect x="258.8" y="196.3" width="0.8" height="0.8"/><rect x="265.7" y="199.5" width="0.8" height="0.8"/><rect x="261.1" y="208.3" width="0.8" height="0.8"/><rect x="261.7" y="194.2" width="0.8" height="0.8"/><rect x="262.7" y="192.6" width="0.8" height="0.8"/><rect x="263.7" y="203.5" width="0.8" height="0.8"/><rect x="259.3" y="195.1" width="0.8" height="0.8"/><rect x="261.3" y="198.1" width="0.8" height="0.8"/><rect x="258.3" y="200.6" width="0.8" height="0.8"/><rect x="255.5" y="196.0" width="0.8" height="0.8"/><rect x="259.7" y="196.7" width="0.8" height="0.8"/><rect x="261.6" y="192.4" width="0.8" height="0.8"/><rect x="262.3" y="197.2" width="0.8" height="0.8"/><rect x="259.1" y="191.7" width="0.8" height="0.8"/><rect x="257.7" y="199.7" width="0.8" height="0.8"/><rect x="258.3" y="198.3" width="0.8" height="0.8"/><rect x="263.6" y="202.8" width="0.8" height="0.8"/><rect x="264.9" y="196.6" width="0.8" height="0.8"/><rect x="258.0" y="202.7" width="0.8" height="0.8"/><rect x="261.6" y="203.2" width="0.8" height="0.8"/><rect x="260.8" y="203.5" width="0.8" height="0.8"/><rect x="263.0" y="201.3" width="0.8" height="0.8"/><rect x="262.1" y="199.8" width="0.8" height="0.8"/><rect x="261.4" y="199.0" width="0.8" height="0.8"/><rect x="263.4" y="195.6" width="0.8" height="0.8"/><rect x="265.3" y="197.5" width="0.8" height="0.8"/><rect x="263.4" y="197.6" width="0.8" height="0.8"/><rect x="260.2" y="207.3" width="0.8" height="0.8"/><rect x="260.0" y="192.1" width="0.8" height="0.8"/><rect x="258.9" y="196.5" width="0.8" height="0.8"/><rect x="266.4" y="199.0" width="0.8" height="0.8"/><rect x="263.2" y="193.4" width="0.8" height="0.8"/><rect x="261.7" y="201.1" width="0.8" height="0.8"/><rect x="265.5" y="194.8" width="0.8" height="0.8"/><rect x="262.4" y="199.4" width="0.8" height="0.8"/><rect x="258.1" y="197.9" width="0.8" height="0.8"/><rect x="260.1" y="187.3" width="0.8" height="0.8"/><rect x="262.4" y="200.5" width="0.8" height="0.8"/><rect x="259.7" y="191.8" width="0.8" height="0.8"/><rect x="264.6" y="199.2" width="0.8" height="0.8"/><rect x="263.4" y="204.5" width="0.8" height="0.8"/><rect x="259.4" y="201.7" width="0.8" height="0.8"/><rect x="260.2" y="197.7" width="0.8" height="0.8"/><rect x="260.6" y="198.0" width="0.8" height="0.8"/><rect x="263.7" y="198.6" width="0.8" height="0.8"/><rect x="260.4" y="196.7" width="0.8" height="0.8"/><rect x="261.7" y="193.9" width="0.8" height="0.8"/><rect x="259.5" y="197.8" width="0.8" height="0.8"/><rect x="259.3" y="197.5" width="0.8" height="0.8"/><rect x="259.2" y="207.2" width="0.8" height="0.8"/><rect x="264.3" y="200.1" width="0.8" height="0.8"/><rect x="260.7" y="208.1" width="0.8" height="0.8"/><rect x="261.6" y="197.6" width="0.8" height="0.8"/><rect x="261.6" y="199.4" width="0.8" height="0.8"/><rect x="264.5" y="197.9" width="0.8" height="0.8"/><rect x="266.3" y="193.9" width="0.8" height="0.8"/><rect x="262.6" y="193.4" width="0.8" height="0.8"/><rect x="265.5" y="196.5" width="0.8" height="0.8"/><rect x="260.6" y="202.3" width="0.8" height="0.8"/><rect x="264.1" y="192.9" width="0.8" height="0.8"/><rect x="259.9" y="191.6" width="0.8" height="0.8"/><rect x="261.2" y="197.5" width="0.8" height="0.8"/><rect x="259.9" y="194.9" width="0.8" height="0.8"/><rect x="259.8" y="194.6" width="0.8" height="0.8"/><rect x="262.2" y="205.0" width="0.8" height="0.8"/><rect x="255.8" y="197.5" width="0.8" height="0.8"/><rect x="259.7" y="200.3" width="0.8" height="0.8"/><rect x="258.3" y="197.3" width="0.8" height="0.8"/><rect x="258.1" y="201.2" width="0.8" height="0.8"/><rect x="261.1" y="197.3" width="0.8" height="0.8"/><rect x="261.8" y="196.9" width="0.8" height="0.8"/><rect x="256.8" y="200.7" width="0.8" height="0.8"/><rect x="261.5" y="197.3" width="0.8" height="0.8"/><rect x="263.4" y="203.6" width="0.8" height="0.8"/><rect x="258.0" y="194.4" width="0.8" height="0.8"/><rect x="264.8" y="204.5" width="0.8" height="0.8"/><rect x="258.9" y="192.6" width="0.8" height="0.8"/><rect x="259.1" y="195.7" width="0.8" height="0.8"/><rect x="256.7" y="198.1" width="0.8" height="0.8"/><rect x="257.5" y="192.4" width="0.8" height="0.8"/><rect x="263.2" y="194.9" width="0.8" height="0.8"/><rect x="260.6" y="200.9" width="0.8" height="0.8"/><rect x="262.9" y="196.4" width="0.8" height="0.8"/><rect x="260.9" y="194.2" width="0.8" height="0.8"/><rect x="265.3" y="201.0" width="0.8" height="0.8"/><rect x="257.9" y="198.0" width="0.8" height="0.8"/><rect x="262.7" y="200.2" width="0.8" height="0.8"/><rect x="265.6" y="204.3" width="0.8" height="0.8"/><rect x="259.4" y="197.6" width="0.8" height="0.8"/><rect x="257.5" y="199.1" width="0.8" height="0.8"/><rect x="261.2" y="210.4" width="0.8" height="0.8"/><rect x="261.1" y="188.4" width="0.8" height="0.8"/><rect x="259.1" y="198.5" width="0.8" height="0.8"/><rect x="257.5" y="194.0" width="0.8" height="0.8"/></g>
<g fill="#000" fill-opacity="0.25"><rect x="259.8" y="219.1" width="0.8" height="0.8"/><rect x="260.2" y="208.0" width="0.8" height="0.8"/><rect x="262.0" y="211.1" width="0.8" height="0.8"/><rect x="259.6" y="203.6" width="0.8" height="0.8"/><rect x="259.0" y="221.9" width="0.8" height="0.8"/><rect x="257.4" y="215.4" width="0.8" height="0.8"/><rect x="261.9" y="212.6" width="0.8" height="0.8"/><rect x="261.0" y="205.9" width="0.8" height="0.8"/><rect x="263.0" y="225.9" width="0.8" height="0.8"/><rect x="260.9" y="200.2" width="0.8" height="0.8"/><rect x="258.5" y="224.8" width="0.8" height="0.8"/><rect x="263.8" y="218.7" width="0.8" height="0.8"/><rect x="262.9" y="210.5" width="0.8" height="0.8"/><rect x="260.1" y="216.0" width="0.8" height="0.8"/><rect x="261.3" y="202.2" width="0.8" height="0.8"/><rect x="262.3" y="227.9" width="0.8" height="0.8"/><rect x="258.3" y="203.8" width="0.8" height="0.8"/><rect x="261.2" y="210.1" width="0.8" height="0.8"/><rect x="256.0" y="223.3" width="0.8" height="0.8"/><rect x="260.8" y="211.7" width="0.8" height="0.8"/><rect x="264.5" y="217.3" width="0.8" height="0.8"/><rect x="259.1" y="216.9" width="0.8" height="0.8"/><rect x="258.5" y="209.1" width="0.8" height="0.8"/><rect x="261.2" y="211.0" width="0.8" height="0.8"/><rect x="259.6" y="231.0" width="0.8" height="0.8"/><rect x="262.1" y="223.2" width="0.8" height="0.8"/><rect x="261.5" y="220.4" width="0.8" height="0.8"/><rect x="263.3" y="215.8" width="0.8" height="0.8"/><rect x="264.0" y="207.4" width="0.8" height="0.8"/><rect x="260.0" y="203.6" width="0.8" height="0.8"/><rect x="259.8" y="220.7" width="0.8" height="0.8"/><rect x="263.3" y="210.0" width="0.8" height="0.8"/><rect x="260.5" y="212.8" width="0.8" height="0.8"/><rect x="259.1" y="205.3" width="0.8" height="0.8"/><rect x="260.6" y="200.4" width="0.8" height="0.8"/><rect x="260.7" y="216.2" width="0.8" height="0.8"/><rect x="259.3" y="206.9" width="0.8" height="0.8"/><rect x="257.9" y="232.8" width="0.8" height="0.8"/><rect x="258.0" y="230.0" width="0.8" height="0.8"/><rect x="261.6" y="212.7" width="0.8" height="0.8"/><rect x="258.3" y="225.4" width="0.8" height="0.8"/><rect x="263.8" y="207.6" width="0.8" height="0.8"/><rect x="259.9" y="225.5" width="0.8" height="0.8"/><rect x="261.1" y="234.0" width="0.8" height="0.8"/><rect x="259.4" y="220.9" width="0.8" height="0.8"/><rect x="258.1" y="234.9" width="0.8" height="0.8"/><rect x="259.1" y="196.1" width="0.8" height="0.8"/><rect x="260.3" y="214.7" width="0.8" height="0.8"/><rect x="264.1" y="213.0" width="0.8" height="0.8"/><rect x="260.5" y="221.3" width="0.8" height="0.8"/><rect x="263.5" y="215.4" width="0.8" height="0.8"/><rect x="262.5" y="220.7" width="0.8" height="0.8"/><rect x="259.9" y="216.7" width="0.8" height="0.8"/><rect x="260.6" y="207.8" width="0.8" height="0.8"/><rect x="262.8" y="203.5" width="0.8" height="0.8"/><rect x="262.7" y="224.6" width="0.8" height="0.8"/><rect x="260.3" y="209.1" width="0.8" height="0.8"/><rect x="260.1" y="220.3" width="0.8" height="0.8"/><rect x="261.9" y="218.6" width="0.8" height="0.8"/><rect x="262.4" y="211.0" width="0.8" height="0.8"/><rect x="260.9" y="201.9" width="0.8" height="0.8"/><rect x="262.0" y="217.4" width="0.8" height="0.8"/><rect x="259.7" y="226.5" width="0.8" height="0.8"/><rect x="261.8" y="190.7" width="0.8" height="0.8"/><rect x="260.6" y="202.9" width="0.8" height="0.8"/><rect x="262.5" y="238.4" width="0.8" height="0.8"/><rect x="259.5" y="216.7" width="0.8" height="0.8"/><rect x="260.0" y="219.2" width="0.8" height="0.8"/><rect x="261.7" y="227.6" width="0.8" height="0.8"/><rect x="258.6" y="230.1" width="0.8" height="0.8"/><rect x="258.7" y="218.5" width="0.8" height="0.8"/><rect x="262.7" y="222.4" width="0.8" height="0.8"/><rect x="258.7" y="209.7" width="0.8" height="0.8"/><rect x="259.6" y="215.5" width="0.8" height="0.8"/><rect x="262.7" y="204.4" width="0.8" height="0.8"/><rect x="261.4" y="221.5" width="0.8" height="0.8"/><rect x="261.6" y="220.2" width="0.8" height="0.8"/><rect x="263.4" y="220.4" width="0.8" height="0.8"/><rect x="262.1" y="221.1" width="0.8" height="0.8"/><rect x="263.9" y="198.9" width="0.8" height="0.8"/><rect x="262.9" y="213.7" width="0.8" height="0.8"/><rect x="260.0" y="207.3" width="0.8" height="0.8"/><rect x="256.9" y="212.6" width="0.8" height="0.8"/><rect x="259.2" y="220.4" width="0.8" height="0.8"/><rect x="257.7" y="228.9" width="0.8" height="0.8"/><rect x="261.0" y="213.8" width="0.8" height="0.8"/><rect x="259.2" y="208.9" width="0.8" height="0.8"/><rect x="258.4" y="211.1" width="0.8" height="0.8"/><rect x="260.5" y="214.4" width="0.8" height="0.8"/><rect x="257.8" y="213.6" width="0.8" height="0.8"/><rect x="258.8" y="217.4" width="0.8" height="0.8"/><rect x="264.0" y="221.6" width="0.8" height="0.8"/><rect x="259.9" y="201.4" width="0.8" height="0.8"/><rect x="257.8" y="200.8" width="0.8" height="0.8"/><rect x="261.9" y="209.1" width="0.8" height="0.8"/><rect x="260.6" y="210.4" width="0.8" height="0.8"/><rect x="260.7" y="228.6" width="0.8" height="0.8"/><rect x="259.2" y="212.9" width="0.8" height="0.8"/><rect x="259.0" y="223.9" width="0.8" height="0.8"/><rect x="258.6" y="205.8" width="0.8" height="0.8"/><rect x="257.9" y="203.3" width="0.8" height="0.8"/><rect x="261.4" y="239.1" width="0.8" height="0.8"/><rect x="258.6" y="224.6" width="0.8" height="0.8"/><rect x="261.0" y="206.1" width="0.8" height="0.8"/><rect x="260.0" y="213.9" width="0.8" height="0.8"/><rect x="259.2" y="233.4" width="0.8" height="0.8"/><rect x="256.9" y="219.4" width="0.8" height="0.8"/><rect x="261.1" y="210.8" width="0.8" height="0.8"/><rect x="260.8" y="223.9" width="0.8" height="0.8"/><rect x="260.8" y="219.8" width="0.8" height="0.8"/><rect x="261.8" y="197.7" width="0.8" height="0.8"/><rect x="263.3" y="236.5" width="0.8" height="0.8"/><rect x="262.4" y="225.1" width="0.8" height="0.8"/><rect x="257.8" y="214.9" width="0.8" height="0.8"/><rect x="259.0" y="210.7" width="0.8" height="0.8"/><rect x="262.3" y="208.8" width="0.8" height="0.8"/><rect x="260.3" y="198.8" width="0.8" height="0.8"/><rect x="260.2" y="216.8" width="0.8" height="0.8"/><rect x="259.2" y="209.5" width="0.8" height="0.8"/><rect x="264.1" y="205.1" width="0.8" height="0.8"/><rect x="258.5" y="208.7" width="0.8" height="0.8"/><rect x="262.8" y="234.9" width="0.8" height="0.8"/><rect x="261.1" y="209.5" width="0.8" height="0.8"/><rect x="259.7" y="225.6" width="0.8" height="0.8"/><rect x="258.8" y="229.1" width="0.8" height="0.8"/><rect x="263.2" y="216.6" width="0.8" height="0.8"/><rect x="261.7" y="222.7" width="0.8" height="0.8"/><rect x="263.5" y="206.5" width="0.8" height="0.8"/><rect x="262.7" y="212.6" width="0.8" height="0.8"/><rect x="259.0" y="216.9" width="0.8" height="0.8"/><rect x="260.1" y="207.1" width="0.8" height="0.8"/><rect x="257.5" y="207.5" width="0.8" height="0.8"/><rect x="263.3" y="233.7" width="0.8" height="0.8"/><rect x="261.7" y="226.7" width="0.8" height="0.8"/><rect x="259.5" y="215.3" width="0.8" height="0.8"/><rect x="261.0" y="206.3" width="0.8" height="0.8"/><rect x="258.6" y="216.9" width="0.8" height="0.8"/><rect x="259.9" y="206.4" width="0.8" height="0.8"/><rect x="261.2" y="213.6" width="0.8" height="0.8"/><rect x="262.4" y="216.0" width="0.8" height="0.8"/><rect x="259.9" y="217.1" width="0.8" height="0.8"/><rect x="260.2" y="210.0" width="0.8" height="0.8"/><rect x="259.7" y="222.7" width="0.8" height="0.8"/><rect x="261.7" y="227.6" width="0.8" height="0.8"/><rect x="257.3" y="212.5" width="0.8" height="0.8"/><rect x="259.7" y="217.5" width="0.8" height="0.8"/><rect x="259.6" y="211.4" width="0.8" height="0.8"/><rect x="262.0" y="217.6" width="0.8" height="0.8"/><rect x="258.3" y="228.0" width="0.8" height="0.8"/><rect x="262.4" y="210.8" width="0.8" height="0.8"/><rect x="262.1" y="209.4" width="0.8" height="0.8"/><rect x="262.6" y="214.0" width="0.8" height="0.8"/><rect x="259.0" y="212.6" width="0.8" height="0.8"/><rect x="259.0" y="217.7" width="0.8" height="0.8"/><rect x="260.8" y="216.3" width="0.8" height="0.8"/><rect x="259.4" y="183.1" width="0.8" height="0.8"/><rect x="260.7" y="198.9" width="0.8" height="0.8"/><rect x="261.0" y="226.2" width="0.8" height="0.8"/><rect x="261.0" y="212.5" width="0.8" height="0.8"/><rect x="260.2" y="214.8" width="0.8" height="0.8"/><rect x="259.5" y="210.7" width="0.8" height="0.8"/><rect x="258.7" y="226.7" width="0.8" height="0.8"/><rect x="260.5" y="224.6" width="0.8" height="0.8"/><rect x="260.0" y="216.6" width="0.8" height="0.8"/><rect x="260.2" y="220.2" width="0.8" height="0.8"/><rect x="262.1" y="218.2" width="0.8" height="0.8"/><rect x="259.2" y="209.0" width="0.8" height="0.8"/><rect x="263.7" y="213.5" width="0.8" height="0.8"/><rect x="259.9" y="229.2" width="0.8" height="0.8"/><rect x="262.6" y="220.8" width="0.8" height="0.8"/><rect x="259.7" y="237.2" width="0.8" height="0.8"/><rect x="261.2" y="220.9" width="0.8" height="0.8"/><rect x="260.2" y="203.3" width="0.8" height="0.8"/><rect x="258.0" y="219.7" width="0.8" height="0.8"/><rect x="261.2" y="213.8" width="0.8" height="0.8"/><rect x="258.3" y="203.0" width="0.8" height="0.8"/><rect x="259.9" y="202.9" width="0.8" height="0.8"/><rect x="262.2" y="226.4" width="0.8" height="0.8"/><rect x="265.9" y="223.9" width="0.8" height="0.8"/><rect x="259.4" y="208.2" width="0.8" height="0.8"/><rect x="253.9" y="210.6" width="0.8" height="0.8"/><rect x="260.2" y="224.7" width="0.8" height="0.8"/><rect x="261.7" y="221.3" width="0.8" height="0.8"/><rect x="260.9" y="221.9" width="0.8" height="0.8"/><rect x="263.3" y="206.4" width="0.8" height="0.8"/><rect x="259.6" y="203.5" width="0.8" height="0.8"/><rect x="263.6" y="227.7" width="0.8" height="0.8"/><rect x="261.9" y="205.2" width="0.8" height="0.8"/><rect x="260.8" y="213.9" width="0.8" height="0.8"/><rect x="260.7" y="214.3" width="0.8" height="0.8"/><rect x="261.5" y="212.4" width="0.8" height="0.8"/><rect x="262.1" y="218.2" width="0.8" height="0.8"/><rect x="259.9" y="215.0" width="0.8" height="0.8"/><rect x="259.7" y="223.3" width="0.8" height="0.8"/><rect x="260.0" y="218.7" width="0.8" height="0.8"/><rect x="259.8" y="202.6" width="0.8" height="0.8"/><rect x="262.2" y="206.5" width="0.8" height="0.8"/><rect x="261.8" y="219.8" width="0.8" height="0.8"/><rect x="257.4" y="207.5" width="0.8" height="0.8"/><rect x="259.5" y="208.6" width="0.8" height="0.8"/></g>
<g fill="#000" fill-opacity="0.35"><rect x="259.1" y="198.6" width="0.8" height="0.8"/><rect x="260.5" y="197.3" width="0.8" height="0.8"/><rect x="260.2" y="197.1" width="0.8" height="0.8"/><rect x="259.7" y="195.9" width="0.8" height="0.8"/><rect x="261.6" y="196.2" width="0.8" height="0.8"/><rect x="260.2" y="192.2" width="0.8" height="0.8"/><rect x="261.0" y="197.2" width="0.8" height="0.8"/><rect x="260.4" y="193.3" width="0.8" height="0.8"/><rect x="261.6" y="204.7" width="0.8" height="0.8"/><rect x="260.4" y="197.2" width="0.8" height="0.8"/><rect x="261.3" y="187.0" width="0.8" height="0.8"/><rect x="261.0" y="193.5" width="0.8" height="0.8"/><rect x="262.7" y="195.1" width="0.8" height="0.8"/><rect x="259.7" y="195.2" width="0.8" height="0.8"/><rect x="261.0" y="194.0" width="0.8" height="0.8"/><rect x="260.7" y="191.3" width="0.8" height="0.8"/><rect x="260.5" y="198.7" width="0.8" height="0.8"/><rect x="263.6" y="198.5" width="0.8" height="0.8"/><rect x="261.2" y="200.1" width="0.8" height="0.8"/><rect x="262.2" y="201.8" width="0.8" height="0.8"/><rect x="262.3" y="195.6" width="0.8" height="0.8"/><rect x="261.2" y="196.6" width="0.8" height="0.8"/><rect x="261.2" y="196.7" width="0.8" height="0.8"/><rect x="259.7" y="188.6" width="0.8" height="0.8"/><rect x="259.9" y="188.9" width="0.8" height="0.8"/><rect x="260.9" y="196.0" width="0.8" height="0.8"/><rect x="258.5" y="198.4" width="0.8" height="0.8"/><rect x="262.0" y="196.3" width="0.8" height="0.8"/><rect x="263.1" y="202.6" width="0.8" height="0.8"/><rect x="259.1" y="199.6" width="0.8" height="0.8"/><rect x="261.4" y="197.5" width="0.8" height="0.8"/><rect x="262.1" y="193.5" width="0.8" height="0.8"/><rect x="260.0" y="193.1" width="0.8" height="0.8"/><rect x="259.7" y="195.7" width="0.8" height="0.8"/><rect x="258.8" y="192.3" width="0.8" height="0.8"/><rect x="261.6" y="195.8" width="0.8" height="0.8"/><rect x="261.3" y="189.4" width="0.8" height="0.8"/><rect x="259.7" y="194.1" width="0.8" height="0.8"/><rect x="260.8" y="193.9" width="0.8" height="0.8"/><rect x="262.1" y="195.8" width="0.8" height="0.8"/><rect x="260.8" y="196.0" width="0.8" height="0.8"/><rect x="261.8" y="194.3" width="0.8" height="0.8"/><rect x="262.4" y="197.6" width="0.8" height="0.8"/><rect x="261.0" y="196.1" width="0.8" height="0.8"/><rect x="261.5" y="199.6" width="0.8" height="0.8"/><rect x="262.1" y="197.3" width="0.8" height="0.8"/><rect x="262.0" y="196.4" width="0.8" height="0.8"/><rect x="262.6" y="195.9" width="0.8" height="0.8"/><rect x="257.9" y="200.7" width="0.8" height="0.8"/><rect x="261.0" y="191.9" width="0.8" height="0.8"/><rect x="260.5" y="192.9" width="0.8" height="0.8"/><rect x="263.7" y="197.7" width="0.8" height="0.8"/><rect x="258.6" y="197.9" width="0.8" height="0.8"/><rect x="260.2" y="202.7" width="0.8" height="0.8"/><rect x="259.3" y="188.1" width="0.8" height="0.8"/><rect x="260.9" y="194.8" width="0.8" height="0.8"/><rect x="260.2" y="188.5" width="0.8" height="0.8"/><rect x="261.4" y="201.9" width="0.8" height="0.8"/><rect x="258.1" y="200.1" width="0.8" height="0.8"/><rect x="260.0" y="204.2" width="0.8" height="0.8"/><rect x="261.4" y="195.3" width="0.8" height="0.8"/><rect x="262.3" y="197.8" width="0.8" height="0.8"/><rect x="260.0" y="198.5" width="0.8" height="0.8"/><rect x="260.1" y="189.7" width="0.8" height="0.8"/><rect x="263.6" y="194.8" width="0.8" height="0.8"/><rect x="259.9" y="197.2" width="0.8" height="0.8"/><rect x="258.6" y="191.3" width="0.8" height="0.8"/><rect x="260.1" y="194.2" width="0.8" height="0.8"/><rect x="260.9" y="199.9" width="0.8" height="0.8"/><rect x="260.1" y="197.7" width="0.8" height="0.8"/><rect x="261.6" y="192.2" width="0.8" height="0.8"/><rect x="261.1" y="192.7" width="0.8" height="0.8"/><rect x="262.3" y="197.6" width="0.8" height="0.8"/><rect x="260.8" y="191.3" width="0.8" height="0.8"/><rect x="261.0" y="193.3" width="0.8" height="0.8"/><rect x="261.8" y="195.6" width="0.8" height="0.8"/><rect x="259.7" y="199.2" width="0.8" height="0.8"/><rect x="261.8" y="193.9" width="0.8" height="0.8"/><rect x="262.4" y="195.0" width="0.8" height="0.8"/><rect x="260.4" y="196.4" width="0.8" height="0.8"/><rect x="259.7" y="194.5" width="0.8" height="0.8"/><rect x="260.6" y="201.4" width="0.8" height="0.8"/><rect x="262.9" y="195.1" width="0.8" height="0.8"/><rect x="263.1" y="195.8" width="0.8" height="0.8"/><rect x="261.3" y="199.1" width="0.8" height="0.8"/><rect x="261.2" y="204.5" width="0.8" height="0.8"/><rect x="261.1" y="191.8" width="0.8" height="0.8"/><rect x="262.6" y="194.6" width="0.8" height="0.8"/><rect x="260.4" y="185.5" width="0.8" height="0.8"/><rect x="262.2" y="198.9" width="0.8" height="0.8"/><rect x="261.9" y="199.4" width="0.8" height="0.8"/><rect x="263.2" y="195.8" width="0.8" height="0.8"/><rect x="262.1" y="193.4" width="0.8" height="0.8"/><rect x="260.3" y="199.7" width="0.8" height="0.8"/><rect x="261.3" y="191.3" width="0.8" height="0.8"/><rect x="261.3" y="195.4" width="0.8" height="0.8"/><rect x="259.7" y="197.5" width="0.8" height="0.8"/><rect x="260.2" y="190.5" width="0.8" height="0.8"/><rect x="259.2" y="202.2" width="0.8" height="0.8"/><rect x="258.7" y="196.8" width="0.8" height="0.8"/><rect x="261.7" y="198.2" width="0.8" height="0.8"/><rect x="259.1" y="194.9" width="0.8" height="0.8"/><rect x="261.0" y="198.8" width="0.8" height="0.8"/><rect x="259.9" y="191.9" width="0.8" height="0.8"/><rect x="262.2" y="199.9" width="0.8" height="0.8"/><rect x="261.3" y="193.9" width="0.8" height="0.8"/><rect x="261.4" y="196.4" width="0.8" height="0.8"/><rect x="262.0" y="191.6" width="0.8" height="0.8"/><rect x="261.0" y="195.4" width="0.8" height="0.8"/><rect x="259.2" y="196.8" width="0.8" height="0.8"/><rect x="260.8" y="194.6" width="0.8" height="0.8"/><rect x="261.4" y="191.0" width="0.8" height="0.8"/><rect x="260.7" y="197.5" width="0.8" height="0.8"/><rect x="261.2" y="199.8" width="0.8" height="0.8"/><rect x="259.1" y="190.7" width="0.8" height="0.8"/><rect x="261.1" y="197.6" width="0.8" height="0.8"/><rect x="263.8" y="198.2" width="0.8" height="0.8"/><rect x="259.6" y="198.8" width="0.8" height="0.8"/><rect x="259.6" y="190.8" width="0.8" height="0.8"/><rect x="264.5" y="197.1" width="0.8" height="0.8"/><rect x="261.8" y="198.0" width="0.8" height="0.8"/><rect x="263.3" y="197.0" width="0.8" height="0.8"/><rect x="262.5" y="192.4" width="0.8" height="0.8"/><rect x="258.9" y="201.0" width="0.8" height="0.8"/><rect x="262.9" y="197.8" width="0.8" height="0.8"/><rect x="261.1" y="196.6" width="0.8" height="0.8"/><rect x="259.8" y="201.4" width="0.8" height="0.8"/><rect x="261.7" y="197.8" width="0.8" height="0.8"/><rect x="261.3" y="199.7" width="0.8" height="0.8"/><rect x="261.5" y="198.6" width="0.8" height="0.8"/><rect x="259.2" y="197.8" width="0.8" height="0.8"/><rect x="263.9" y="194.2" width="0.8" height="0.8"/><rect x="260.6" y="199.1" width="0.8" height="0.8"/><rect x="262.1" y="198.2" width="0.8" height="0.8"/><rect x="258.5" y="197.8" width="0.8" height="0.8"/><rect x="259.1" y="193.1" width="0.8" height="0.8"/><rect x="261.6" y="195.0" width="0.8" height="0.8"/><rect x="261.9" y="207.0" width="0.8" height="0.8"/><rect x="261.9" y="198.5" width="0.8" height="0.8"/><rect x="259.5" y="193.7" width="0.8" height="0.8"/><rect x="259.3" y="194.1" width="0.8" height="0.8"/><rect x="259.3" y="193.7" width="0.8" height="0.8"/><rect x="260.5" y="192.5" width="0.8" height="0.8"/><rect x="258.8" y="191.2" width="0.8" height="0.8"/><rect x="261.4" y="196.2" width="0.8" height="0.8"/><rect x="262.2" y="199.7" width="0.8" height="0.8"/><rect x="260.3" y="198.3" width="0.8" height="0.8"/><rect x="258.8" y="204.0" width="0.8" height="0.8"/><rect x="262.5" y="195.2" width="0.8" height="0.8"/><rect x="259.2" y="197.3" width="0.8" height="0.8"/><rect x="258.2" y="193.3" width="0.8" height="0.8"/><rect x="261.8" y="196.3" width="0.8" height="0.8"/><rect x="260.1" y="199.3" width="0.8" height="0.8"/><rect x="259.3" y="197.0" width="0.8" height="0.8"/><rect x="260.1" y="193.0" width="0.8" height="0.8"/><rect x="261.4" y="192.5" width="0.8" height="0.8"/><rect x="263.5" y="194.0" width="0.8" height="0.8"/><rect x="263.6" y="192.2" width="0.8" height="0.8"/><rect x="261.6" y="191.8" width="0.8" height="0.8"/><rect x="258.9" y="196.6" width="0.8" height="0.8"/><rect x="261.7" y="191.5" width="0.8" height="0.8"/><rect x="262.5" y="193.2" width="0.8" height="0.8"/><rect x="261.0" y="197.3" width="0.8" height="0.8"/><rect x="261.6" y="189.7" width="0.8" height="0.8"/><rect x="263.1" y="198.0" width="0.8" height="0.8"/><rect x="260.2" y="192.4" width="0.8" height="0.8"/><rect x="258.4" y="191.2" width="0.8" height="0.8"/><rect x="261.6" y="194.8" width="0.8" height="0.8"/><rect x="259.2" y="194.2" width="0.8" height="0.8"/><rect x="263.0" y="194.8" width="0.8" height="0.8"/><rect x="260.0" y="200.7" width="0.8" height="0.8"/><rect x="261.4" y="196.2" width="0.8" height="0.8"/><rect x="259.9" y="190.6" width="0.8" height="0.8"/><rect x="259.2" y="194.3" width="0.8" height="0.8"/><rect x="260.5" y="197.2" width="0.8" height="0.8"/><rect x="261.6" y="196.8" width="0.8" height="0.8"/><rect x="261.1" y="192.5" width="0.8" height="0.8"/><rect x="257.8" y="194.2" width="0.8" height="0.8"/><rect x="259.5" y="193.7" width="0.8" height="0.8"/><rect x="260.4" y="191.6" width="0.8" height="0.8"/><rect x="259.2" y="195.6" width="0.8" height="0.8"/><rect x="261.0" y="193.7" width="0.8" height="0.8"/><rect x="261.5" y="195.2" width="0.8" height="0.8"/><rect x="259.4" y="196.1" width="0.8" height="0.8"/><rect x="263.4" y="193.6" width="0.8" height="0.8"/><rect x="262.4" y="200.8" width="0.8" height="0.8"/><rect x="262.9" y="193.1" width="0.8" height="0.8"/><rect x="263.6" y="196.4" width="0.8" height="0.8"/><rect x="260.4" y="195.2" width="0.8" height="0.8"/><rect x="261.6" y="196.2" width="0.8" height="0.8"/><rect x="260.6" y="200.5" width="0.8" height="0.8"/><rect x="259.8" y="192.3" width="0.8" height="0.8"/><rect x="261.9" y="198.5" width="0.8" height="0.8"/><rect x="262.3" y="192.2" width="0.8" height="0.8"/><rect x="262.3" y="197.7" width="0.8" height="0.8"/><rect x="263.3" y="191.6" width="0.8" height="0.8"/><rect x="261.1" y="195.0" width="0.8" height="0.8"/><rect x="258.6" y="193.5" width="0.8" height="0.8"/><rect x="262.4" y="194.4" width="0.8" height="0.8"/><rect x="259.8" y="199.0" width="0.8" height="0.8"/><rect x="262.2" y="199.5" width="0.8" height="0.8"/><rect x="259.7" y="195.8" width="0.8" height="0.8"/><rect x="262.2" y="193.7" width="0.8" height="0.8"/><rect x="259.8" y="198.9" width="0.8" height="0.8"/><rect x="263.0" y="192.0" width="0.8" height="0.8"/><rect x="257.2" y="190.9" width="0.8" height="0.8"/><rect x="259.4" y="195.5" width="0.8" height="0.8"/><rect x="261.7" y="195.5" width="0.8" height="0.8"/><rect x="259.8" y="196.5" width="0.8" height="0.8"/><rect x="259.5" y="195.8" width="0.8" height="0.8"/><rect x="259.9" y="205.4" width="0.8" height="0.8"/><rect x="261.9" y="193.1" width="0.8" height="0.8"/><rect x="259.4" y="194.5" width="0.8" height="0.8"/><rect x="258.5" y="193.4" width="0.8" height="0.8"/><rect x="259.8" y="199.1" width="0.8" height="0.8"/><rect x="260.2" y="193.2" width="0.8" height="0.8"/><rect x="258.9" y="191.9" width="0.8" height="0.8"/><rect x="260.7" y="195.2" width="0.8" height="0.8"/><rect x="262.4" y="193.8" width="0.8" height="0.8"/><rect x="262.3" y="196.9" width="0.8" height="0.8"/><rect x="260.8" y="189.0" width="0.8" height="0.8"/><rect x="259.0" y="198.6" width="0.8" height="0.8"/><rect x="262.8" y="196.7" width="0.8" height="0.8"/><rect x="261.9" y="194.6" width="0.8" height="0.8"/><rect x="260.3" y="193.7" width="0.8" height="0.8"/><rect x="262.2" y="197.2" width="0.8" height="0.8"/><rect x="260.5" y="194.9" width="0.8" height="0.8"/><rect x="261.6" y="197.1" width="0.8" height="0.8"/><rect x="259.6" y="202.0" width="0.8" height="0.8"/><rect x="261.2" y="196.0" width="0.8" height="0.8"/><rect x="262.9" y="199.6" width="0.8" height="0.8"/><rect x="260.7" y="197.9" width="0.8" height="0.8"/><rect x="259.3" y="193.8" width="0.8" height="0.8"/><rect x="257.6" y="200.3" width="0.8" height="0.8"/><rect x="258.1" y="198.4" width="0.8" height="0.8"/><rect x="259.6" y="192.6" width="0.8" height="0.8"/><rect x="260.5" y="196.9" width="0.8" height="0.8"/><rect x="261.7" y="202.2" width="0.8" height="0.8"/><rect x="261.3" y="199.1" width="0.8" height="0.8"/><rect x="260.0" y="198.5" width="0.8" height="0.8"/><rect x="261.0" y="194.4" width="0.8" height="0.8"/><rect x="260.7" y="195.8" width="0.8" height="0.8"/><rect x="261.1" y="197.4" width="0.8" height="0.8"/><rect x="260.1" y="193.4" width="0.8" height="0.8"/><rect x="261.8" y="190.1" width="0.8" height="0.8"/><rect x="259.9" y="201.4" width="0.8" height="0.8"/><rect x="257.0" y="193.6" width="0.8" height="0.8"/><rect x="261.8" y="190.2" width="0.8" height="0.8"/><rect x="264.4" y="186.9" width="0.8" height="0.8"/><rect x="262.8" y="201.5" width="0.8" height="0.8"/></g>
<rect x="249.4" y="177.8" width="76.4" height="76.0" fill="none" stroke="#bdbdbd" stroke-width="1"/>
<line x1="281.5" y1="177.8" x2="281.5" y2="253.8" stroke="#8c8c8c" stroke-width="0.9" />
<line x1="249.4" y1="222.6" x2="325.8" y2="222.6" stroke="#8c8c8c" stroke-width="0.9" />
<text x="267.4" y="190" font-size="7" font-weight="normal" text-anchor="start" fill="#000" class="s">95</text>
<text x="270" y="247.6" font-size="7" font-weight="normal" text-anchor="start" fill="#000" class="s">5</text>
<g fill="#000" fill-opacity="0.45"><rect x="362.3" y="237.6" width="0.8" height="0.8"/><rect x="361.1" y="234.9" width="0.8" height="0.8"/><rect x="362.1" y="234.0" width="0.8" height="0.8"/><rect x="359.7" y="242.5" width="0.8" height="0.8"/><rect x="357.8" y="237.0" width="0.8" height="0.8"/><rect x="360.7" y="233.1" width="0.8" height="0.8"/><rect x="362.9" y="239.9" width="0.8" height="0.8"/><rect x="357.0" y="238.3" width="0.8" height="0.8"/><rect x="358.6" y="235.9" width="0.8" height="0.8"/><rect x="360.5" y="235.7" width="0.8" height="0.8"/><rect x="362.4" y="235.7" width="0.8" height="0.8"/><rect x="362.5" y="238.3" width="0.8" height="0.8"/><rect x="362.2" y="236.3" width="0.8" height="0.8"/><rect x="359.2" y="233.9" width="0.8" height="0.8"/><rect x="361.6" y="242.3" width="0.8" height="0.8"/><rect x="365.0" y="243.7" width="0.8" height="0.8"/><rect x="360.8" y="237.7" width="0.8" height="0.8"/><rect x="361.2" y="238.4" width="0.8" height="0.8"/><rect x="363.5" y="242.3" width="0.8" height="0.8"/><rect x="358.5" y="235.7" width="0.8" height="0.8"/><rect x="363.3" y="239.7" width="0.8" height="0.8"/><rect x="359.8" y="243.2" width="0.8" height="0.8"/><rect x="359.4" y="237.4" width="0.8" height="0.8"/><rect x="359.3" y="230.7" width="0.8" height="0.8"/><rect x="362.2" y="233.7" width="0.8" height="0.8"/><rect x="359.0" y="235.5" width="0.8" height="0.8"/><rect x="361.9" y="238.2" width="0.8" height="0.8"/><rect x="360.3" y="231.8" width="0.8" height="0.8"/><rect x="360.1" y="232.6" width="0.8" height="0.8"/><rect x="361.0" y="240.0" width="0.8" height="0.8"/><rect x="360.3" y="246.7" width="0.8" height="0.8"/><rect x="361.5" y="240.9" width="0.8" height="0.8"/><rect x="360.6" y="237.7" width="0.8" height="0.8"/><rect x="362.4" y="242.9" width="0.8" height="0.8"/><rect x="357.4" y="242.7" width="0.8" height="0.8"/><rect x="361.4" y="242.3" width="0.8" height="0.8"/><rect x="361.3" y="233.5" width="0.8" height="0.8"/><rect x="357.7" y="245.8" width="0.8" height="0.8"/><rect x="360.9" y="232.8" width="0.8" height="0.8"/><rect x="361.1" y="237.1" width="0.8" height="0.8"/><rect x="356.2" y="229.3" width="0.8" height="0.8"/><rect x="356.8" y="239.6" width="0.8" height="0.8"/><rect x="360.2" y="237.5" width="0.8" height="0.8"/><rect x="360.9" y="240.9" width="0.8" height="0.8"/><rect x="355.7" y="237.3" width="0.8" height="0.8"/><rect x="358.5" y="233.6" width="0.8" height="0.8"/><rect x="359.1" y="238.0" width="0.8" height="0.8"/><rect x="359.7" y="232.7" width="0.8" height="0.8"/><rect x="359.2" y="246.6" width="0.8" height="0.8"/><rect x="358.0" y="231.8" width="0.8" height="0.8"/><rect x="360.9" y="240.9" width="0.8" height="0.8"/><rect x="361.3" y="234.0" width="0.8" height="0.8"/><rect x="362.5" y="235.4" width="0.8" height="0.8"/><rect x="357.8" y="236.1" width="0.8" height="0.8"/><rect x="360.1" y="241.4" width="0.8" height="0.8"/><rect x="361.7" y="238.4" width="0.8" height="0.8"/><rect x="362.4" y="238.8" width="0.8" height="0.8"/><rect x="362.3" y="232.9" width="0.8" height="0.8"/><rect x="356.8" y="241.6" width="0.8" height="0.8"/><rect x="357.2" y="237.3" width="0.8" height="0.8"/><rect x="360.1" y="236.5" width="0.8" height="0.8"/><rect x="359.3" y="244.1" width="0.8" height="0.8"/><rect x="354.7" y="242.0" width="0.8" height="0.8"/><rect x="365.3" y="238.6" width="0.8" height="0.8"/><rect x="360.3" y="241.4" width="0.8" height="0.8"/><rect x="364.3" y="233.7" width="0.8" height="0.8"/><rect x="360.5" y="237.8" width="0.8" height="0.8"/><rect x="361.5" y="239.1" width="0.8" height="0.8"/><rect x="361.8" y="236.8" width="0.8" height="0.8"/><rect x="360.4" y="235.8" width="0.8" height="0.8"/><rect x="358.8" y="237.9" width="0.8" height="0.8"/><rect x="360.0" y="233.8" width="0.8" height="0.8"/><rect x="363.8" y="238.0" width="0.8" height="0.8"/><rect x="357.3" y="242.9" width="0.8" height="0.8"/><rect x="358.7" y="240.5" width="0.8" height="0.8"/><rect x="360.3" y="239.5" width="0.8" height="0.8"/><rect x="360.7" y="236.2" width="0.8" height="0.8"/><rect x="360.4" y="246.6" width="0.8" height="0.8"/><rect x="355.4" y="238.8" width="0.8" height="0.8"/><rect x="361.3" y="234.3" width="0.8" height="0.8"/><rect x="357.3" y="247.1" width="0.8" height="0.8"/><rect x="359.5" y="246.8" width="0.8" height="0.8"/><rect x="361.5" y="238.8" width="0.8" height="0.8"/><rect x="361.3" y="241.0" width="0.8" height="0.8"/><rect x="362.9" y="240.2" width="0.8" height="0.8"/><rect x="360.6" y="239.2" width="0.8" height="0.8"/><rect x="363.3" y="241.8" width="0.8" height="0.8"/><rect x="358.1" y="236.0" width="0.8" height="0.8"/><rect x="361.0" y="236.0" width="0.8" height="0.8"/><rect x="359.5" y="234.7" width="0.8" height="0.8"/><rect x="359.7" y="240.2" width="0.8" height="0.8"/><rect x="362.5" y="238.5" width="0.8" height="0.8"/><rect x="364.9" y="238.2" width="0.8" height="0.8"/><rect x="367.3" y="242.5" width="0.8" height="0.8"/><rect x="361.4" y="236.5" width="0.8" height="0.8"/><rect x="354.1" y="237.9" width="0.8" height="0.8"/><rect x="360.7" y="246.2" width="0.8" height="0.8"/><rect x="357.3" y="246.1" width="0.8" height="0.8"/><rect x="359.7" y="241.4" width="0.8" height="0.8"/><rect x="354.7" y="239.1" width="0.8" height="0.8"/><rect x="359.5" y="241.2" width="0.8" height="0.8"/><rect x="360.5" y="233.9" width="0.8" height="0.8"/><rect x="362.4" y="241.3" width="0.8" height="0.8"/><rect x="361.6" y="242.5" width="0.8" height="0.8"/><rect x="362.7" y="238.4" width="0.8" height="0.8"/><rect x="357.3" y="233.0" width="0.8" height="0.8"/><rect x="363.3" y="241.3" width="0.8" height="0.8"/><rect x="360.5" y="236.8" width="0.8" height="0.8"/><rect x="360.4" y="238.6" width="0.8" height="0.8"/><rect x="359.6" y="235.7" width="0.8" height="0.8"/><rect x="365.1" y="239.4" width="0.8" height="0.8"/><rect x="359.0" y="233.3" width="0.8" height="0.8"/><rect x="358.7" y="241.4" width="0.8" height="0.8"/><rect x="362.0" y="237.6" width="0.8" height="0.8"/><rect x="360.4" y="237.3" width="0.8" height="0.8"/><rect x="357.9" y="243.7" width="0.8" height="0.8"/><rect x="361.1" y="248.4" width="0.8" height="0.8"/><rect x="358.6" y="237.9" width="0.8" height="0.8"/><rect x="362.2" y="237.5" width="0.8" height="0.8"/><rect x="357.2" y="234.7" width="0.8" height="0.8"/><rect x="360.5" y="239.9" width="0.8" height="0.8"/><rect x="360.1" y="242.5" width="0.8" height="0.8"/><rect x="362.5" y="239.8" width="0.8" height="0.8"/><rect x="360.4" y="237.5" width="0.8" height="0.8"/><rect x="361.5" y="242.2" width="0.8" height="0.8"/><rect x="360.4" y="240.3" width="0.8" height="0.8"/><rect x="359.6" y="232.9" width="0.8" height="0.8"/><rect x="358.1" y="241.6" width="0.8" height="0.8"/><rect x="361.3" y="244.9" width="0.8" height="0.8"/><rect x="360.4" y="242.0" width="0.8" height="0.8"/><rect x="363.2" y="242.5" width="0.8" height="0.8"/><rect x="359.0" y="237.8" width="0.8" height="0.8"/><rect x="360.6" y="234.6" width="0.8" height="0.8"/><rect x="361.3" y="242.6" width="0.8" height="0.8"/><rect x="359.2" y="246.4" width="0.8" height="0.8"/><rect x="359.7" y="237.7" width="0.8" height="0.8"/><rect x="359.8" y="235.7" width="0.8" height="0.8"/><rect x="361.2" y="238.6" width="0.8" height="0.8"/><rect x="364.0" y="240.9" width="0.8" height="0.8"/><rect x="361.5" y="237.6" width="0.8" height="0.8"/><rect x="357.2" y="238.1" width="0.8" height="0.8"/><rect x="358.4" y="242.3" width="0.8" height="0.8"/><rect x="360.2" y="245.2" width="0.8" height="0.8"/><rect x="361.9" y="241.8" width="0.8" height="0.8"/><rect x="360.8" y="239.3" width="0.8" height="0.8"/><rect x="361.7" y="242.2" width="0.8" height="0.8"/><rect x="358.7" y="240.5" width="0.8" height="0.8"/><rect x="366.1" y="238.1" width="0.8" height="0.8"/><rect x="359.7" y="235.7" width="0.8" height="0.8"/><rect x="357.1" y="243.3" width="0.8" height="0.8"/><rect x="360.4" y="239.7" width="0.8" height="0.8"/><rect x="364.4" y="248.5" width="0.8" height="0.8"/><rect x="358.3" y="242.7" width="0.8" height="0.8"/><rect x="361.7" y="240.1" width="0.8" height="0.8"/><rect x="361.4" y="238.4" width="0.8" height="0.8"/><rect x="363.8" y="241.0" width="0.8" height="0.8"/><rect x="361.1" y="243.5" width="0.8" height="0.8"/><rect x="362.3" y="240.4" width="0.8" height="0.8"/><rect x="361.0" y="245.5" width="0.8" height="0.8"/><rect x="361.4" y="238.2" width="0.8" height="0.8"/><rect x="358.4" y="237.1" width="0.8" height="0.8"/><rect x="358.0" y="238.9" width="0.8" height="0.8"/><rect x="360.9" y="230.3" width="0.8" height="0.8"/><rect x="360.3" y="241.1" width="0.8" height="0.8"/><rect x="360.7" y="234.7" width="0.8" height="0.8"/><rect x="363.1" y="235.7" width="0.8" height="0.8"/><rect x="357.6" y="234.2" width="0.8" height="0.8"/><rect x="360.3" y="242.4" width="0.8" height="0.8"/><rect x="362.9" y="239.3" width="0.8" height="0.8"/><rect x="357.7" y="235.9" width="0.8" height="0.8"/><rect x="358.3" y="237.8" width="0.8" height="0.8"/><rect x="356.4" y="239.0" width="0.8" height="0.8"/><rect x="361.7" y="237.9" width="0.8" height="0.8"/><rect x="361.3" y="234.8" width="0.8" height="0.8"/><rect x="357.1" y="236.0" width="0.8" height="0.8"/><rect x="362.8" y="242.6" width="0.8" height="0.8"/><rect x="359.3" y="243.3" width="0.8" height="0.8"/><rect x="359.6" y="244.6" width="0.8" height="0.8"/><rect x="361.4" y="236.7" width="0.8" height="0.8"/><rect x="362.1" y="235.4" width="0.8" height="0.8"/><rect x="358.2" y="232.7" width="0.8" height="0.8"/><rect x="360.9" y="238.3" width="0.8" height="0.8"/><rect x="360.1" y="236.9" width="0.8" height="0.8"/><rect x="363.5" y="236.8" width="0.8" height="0.8"/><rect x="358.7" y="243.5" width="0.8" height="0.8"/><rect x="363.4" y="239.9" width="0.8" height="0.8"/><rect x="356.5" y="236.1" width="0.8" height="0.8"/><rect x="361.6" y="238.6" width="0.8" height="0.8"/><rect x="363.7" y="233.0" width="0.8" height="0.8"/><rect x="361.8" y="236.0" width="0.8" height="0.8"/><rect x="363.2" y="238.2" width="0.8" height="0.8"/><rect x="362.6" y="235.9" width="0.8" height="0.8"/><rect x="357.2" y="234.1" width="0.8" height="0.8"/><rect x="359.0" y="234.4" width="0.8" height="0.8"/><rect x="362.9" y="243.9" width="0.8" height="0.8"/><rect x="360.9" y="234.4" width="0.8" height="0.8"/><rect x="360.0" y="235.8" width="0.8" height="0.8"/><rect x="363.5" y="239.8" width="0.8" height="0.8"/><rect x="361.4" y="236.9" width="0.8" height="0.8"/><rect x="355.9" y="235.4" width="0.8" height="0.8"/><rect x="357.8" y="240.0" width="0.8" height="0.8"/><rect x="360.5" y="235.3" width="0.8" height="0.8"/><rect x="359.4" y="244.8" width="0.8" height="0.8"/><rect x="358.2" y="234.8" width="0.8" height="0.8"/><rect x="359.8" y="235.7" width="0.8" height="0.8"/><rect x="359.4" y="240.6" width="0.8" height="0.8"/><rect x="364.1" y="231.4" width="0.8" height="0.8"/><rect x="360.3" y="238.7" width="0.8" height="0.8"/><rect x="360.1" y="237.8" width="0.8" height="0.8"/><rect x="359.6" y="242.5" width="0.8" height="0.8"/><rect x="359.3" y="238.0" width="0.8" height="0.8"/><rect x="360.3" y="238.9" width="0.8" height="0.8"/><rect x="359.9" y="242.5" width="0.8" height="0.8"/><rect x="360.3" y="239.2" width="0.8" height="0.8"/><rect x="360.2" y="234.5" width="0.8" height="0.8"/><rect x="358.5" y="234.3" width="0.8" height="0.8"/><rect x="360.7" y="235.6" width="0.8" height="0.8"/><rect x="358.0" y="239.5" width="0.8" height="0.8"/><rect x="361.5" y="231.5" width="0.8" height="0.8"/><rect x="364.0" y="238.6" width="0.8" height="0.8"/><rect x="360.1" y="242.8" width="0.8" height="0.8"/><rect x="360.5" y="236.1" width="0.8" height="0.8"/><rect x="365.1" y="234.2" width="0.8" height="0.8"/><rect x="360.1" y="241.9" width="0.8" height="0.8"/><rect x="357.9" y="238.1" width="0.8" height="0.8"/><rect x="361.2" y="248.1" width="0.8" height="0.8"/><rect x="358.3" y="238.3" width="0.8" height="0.8"/><rect x="361.7" y="238.8" width="0.8" height="0.8"/><rect x="357.7" y="240.1" width="0.8" height="0.8"/><rect x="360.5" y="240.3" width="0.8" height="0.8"/><rect x="362.8" y="242.6" width="0.8" height="0.8"/><rect x="361.2" y="239.7" width="0.8" height="0.8"/><rect x="357.9" y="238.0" width="0.8" height="0.8"/><rect x="360.8" y="236.9" width="0.8" height="0.8"/><rect x="360.5" y="235.2" width="0.8" height="0.8"/><rect x="363.7" y="247.1" width="0.8" height="0.8"/><rect x="359.4" y="240.1" width="0.8" height="0.8"/><rect x="359.8" y="243.6" width="0.8" height="0.8"/><rect x="361.3" y="238.8" width="0.8" height="0.8"/><rect x="359.8" y="239.0" width="0.8" height="0.8"/><rect x="358.1" y="241.2" width="0.8" height="0.8"/><rect x="358.7" y="240.6" width="0.8" height="0.8"/><rect x="360.6" y="242.9" width="0.8" height="0.8"/><rect x="360.3" y="242.6" width="0.8" height="0.8"/><rect x="358.3" y="240.9" width="0.8" height="0.8"/><rect x="359.8" y="239.3" width="0.8" height="0.8"/><rect x="360.5" y="242.2" width="0.8" height="0.8"/><rect x="355.9" y="239.8" width="0.8" height="0.8"/><rect x="357.0" y="243.3" width="0.8" height="0.8"/><rect x="356.0" y="234.5" width="0.8" height="0.8"/><rect x="356.6" y="245.1" width="0.8" height="0.8"/><rect x="357.5" y="239.0" width="0.8" height="0.8"/><rect x="359.1" y="231.3" width="0.8" height="0.8"/><rect x="359.6" y="241.2" width="0.8" height="0.8"/><rect x="359.9" y="242.3" width="0.8" height="0.8"/><rect x="359.5" y="238.5" width="0.8" height="0.8"/><rect x="359.5" y="239.9" width="0.8" height="0.8"/><rect x="364.5" y="239.9" width="0.8" height="0.8"/><rect x="360.7" y="236.0" width="0.8" height="0.8"/><rect x="358.6" y="244.4" width="0.8" height="0.8"/><rect x="357.9" y="234.8" width="0.8" height="0.8"/><rect x="360.1" y="236.8" width="0.8" height="0.8"/><rect x="364.6" y="229.0" width="0.8" height="0.8"/><rect x="361.1" y="241.4" width="0.8" height="0.8"/><rect x="357.8" y="235.9" width="0.8" height="0.8"/><rect x="361.3" y="245.0" width="0.8" height="0.8"/><rect x="358.3" y="232.2" width="0.8" height="0.8"/><rect x="362.4" y="244.6" width="0.8" height="0.8"/><rect x="359.6" y="229.6" width="0.8" height="0.8"/><rect x="363.5" y="237.7" width="0.8" height="0.8"/><rect x="362.8" y="238.3" width="0.8" height="0.8"/><rect x="359.5" y="236.7" width="0.8" height="0.8"/><rect x="363.5" y="244.2" width="0.8" height="0.8"/><rect x="355.6" y="234.8" width="0.8" height="0.8"/><rect x="364.2" y="237.0" width="0.8" height="0.8"/><rect x="357.3" y="238.5" width="0.8" height="0.8"/><rect x="360.1" y="238.1" width="0.8" height="0.8"/><rect x="359.2" y="237.3" width="0.8" height="0.8"/><rect x="359.3" y="239.8" width="0.8" height="0.8"/><rect x="358.5" y="237.3" width="0.8" height="0.8"/><rect x="360.0" y="243.7" width="0.8" height="0.8"/><rect x="361.1" y="238.1" width="0.8" height="0.8"/><rect x="361.5" y="240.1" width="0.8" height="0.8"/><rect x="362.7" y="240.5" width="0.8" height="0.8"/><rect x="364.2" y="243.9" width="0.8" height="0.8"/><rect x="360.2" y="236.8" width="0.8" height="0.8"/><rect x="362.2" y="240.6" width="0.8" height="0.8"/><rect x="360.1" y="232.6" width="0.8" height="0.8"/><rect x="356.3" y="239.9" width="0.8" height="0.8"/><rect x="362.0" y="241.7" width="0.8" height="0.8"/><rect x="357.5" y="242.6" width="0.8" height="0.8"/><rect x="359.1" y="240.1" width="0.8" height="0.8"/><rect x="361.2" y="235.3" width="0.8" height="0.8"/><rect x="359.0" y="230.2" width="0.8" height="0.8"/><rect x="358.3" y="231.3" width="0.8" height="0.8"/><rect x="361.3" y="238.7" width="0.8" height="0.8"/><rect x="362.3" y="239.9" width="0.8" height="0.8"/><rect x="358.9" y="239.9" width="0.8" height="0.8"/><rect x="359.4" y="240.9" width="0.8" height="0.8"/><rect x="361.0" y="234.5" width="0.8" height="0.8"/><rect x="360.3" y="238.7" width="0.8" height="0.8"/><rect x="359.6" y="242.1" width="0.8" height="0.8"/><rect x="364.1" y="237.0" width="0.8" height="0.8"/><rect x="359.5" y="229.5" width="0.8" height="0.8"/><rect x="360.0" y="236.8" width="0.8" height="0.8"/><rect x="355.5" y="239.7" width="0.8" height="0.8"/><rect x="361.6" y="235.6" width="0.8" height="0.8"/><rect x="359.5" y="234.6" width="0.8" height="0.8"/><rect x="362.0" y="232.4" width="0.8" height="0.8"/><rect x="359.6" y="246.3" width="0.8" height="0.8"/><rect x="360.4" y="240.4" width="0.8" height="0.8"/><rect x="360.0" y="233.8" width="0.8" height="0.8"/><rect x="360.2" y="240.1" width="0.8" height="0.8"/><rect x="358.1" y="239.9" width="0.8" height="0.8"/><rect x="363.0" y="242.8" width="0.8" height="0.8"/><rect x="356.8" y="234.6" width="0.8" height="0.8"/><rect x="356.7" y="242.8" width="0.8" height="0.8"/><rect x="361.6" y="241.3" width="0.8" height="0.8"/><rect x="358.4" y="233.8" width="0.8" height="0.8"/><rect x="360.5" y="238.9" width="0.8" height="0.8"/><rect x="358.4" y="239.1" width="0.8" height="0.8"/><rect x="361.7" y="239.4" width="0.8" height="0.8"/><rect x="358.0" y="230.0" width="0.8" height="0.8"/><rect x="359.7" y="239.2" width="0.8" height="0.8"/><rect x="359.7" y="236.8" width="0.8" height="0.8"/><rect x="358.8" y="241.4" width="0.8" height="0.8"/><rect x="360.2" y="239.0" width="0.8" height="0.8"/><rect x="358.2" y="236.0" width="0.8" height="0.8"/><rect x="360.7" y="234.5" width="0.8" height="0.8"/><rect x="357.5" y="237.2" width="0.8" height="0.8"/><rect x="362.9" y="239.3" width="0.8" height="0.8"/><rect x="363.5" y="238.0" width="0.8" height="0.8"/><rect x="359.6" y="232.9" width="0.8" height="0.8"/><rect x="359.0" y="244.2" width="0.8" height="0.8"/><rect x="361.0" y="241.4" width="0.8" height="0.8"/><rect x="361.9" y="238.5" width="0.8" height="0.8"/><rect x="359.8" y="239.0" width="0.8" height="0.8"/><rect x="361.8" y="240.3" width="0.8" height="0.8"/><rect x="361.4" y="239.1" width="0.8" height="0.8"/><rect x="358.6" y="237.5" width="0.8" height="0.8"/><rect x="358.2" y="242.5" width="0.8" height="0.8"/><rect x="355.7" y="237.6" width="0.8" height="0.8"/><rect x="365.6" y="237.1" width="0.8" height="0.8"/><rect x="357.8" y="238.4" width="0.8" height="0.8"/><rect x="363.1" y="237.9" width="0.8" height="0.8"/><rect x="361.6" y="238.9" width="0.8" height="0.8"/><rect x="359.5" y="251.1" width="0.8" height="0.8"/><rect x="360.5" y="236.4" width="0.8" height="0.8"/><rect x="359.2" y="240.0" width="0.8" height="0.8"/><rect x="361.2" y="241.6" width="0.8" height="0.8"/><rect x="360.6" y="232.8" width="0.8" height="0.8"/><rect x="361.5" y="237.3" width="0.8" height="0.8"/><rect x="359.7" y="232.6" width="0.8" height="0.8"/><rect x="359.0" y="235.6" width="0.8" height="0.8"/><rect x="360.2" y="232.7" width="0.8" height="0.8"/><rect x="360.4" y="239.0" width="0.8" height="0.8"/><rect x="357.8" y="236.0" width="0.8" height="0.8"/><rect x="358.4" y="242.1" width="0.8" height="0.8"/><rect x="354.7" y="237.1" width="0.8" height="0.8"/><rect x="356.6" y="236.8" width="0.8" height="0.8"/><rect x="362.2" y="236.0" width="0.8" height="0.8"/><rect x="360.6" y="235.1" width="0.8" height="0.8"/><rect x="364.6" y="242.2" width="0.8" height="0.8"/><rect x="362.8" y="233.2" width="0.8" height="0.8"/><rect x="357.9" y="242.8" width="0.8" height="0.8"/><rect x="359.9" y="237.5" width="0.8" height="0.8"/><rect x="361.0" y="233.5" width="0.8" height="0.8"/><rect x="362.0" y="238.6" width="0.8" height="0.8"/><rect x="361.4" y="235.8" width="0.8" height="0.8"/><rect x="361.4" y="235.7" width="0.8" height="0.8"/><rect x="362.4" y="243.0" width="0.8" height="0.8"/><rect x="362.3" y="240.6" width="0.8" height="0.8"/><rect x="361.7" y="227.7" width="0.8" height="0.8"/><rect x="362.1" y="237.4" width="0.8" height="0.8"/><rect x="360.5" y="237.4" width="0.8" height="0.8"/><rect x="357.2" y="236.3" width="0.8" height="0.8"/><rect x="361.7" y="244.2" width="0.8" height="0.8"/><rect x="358.9" y="234.9" width="0.8" height="0.8"/><rect x="363.5" y="235.0" width="0.8" height="0.8"/><rect x="364.9" y="238.7" width="0.8" height="0.8"/><rect x="358.4" y="242.4" width="0.8" height="0.8"/><rect x="364.0" y="232.8" width="0.8" height="0.8"/><rect x="363.7" y="237.4" width="0.8" height="0.8"/><rect x="363.6" y="237.0" width="0.8" height="0.8"/><rect x="356.8" y="240.5" width="0.8" height="0.8"/><rect x="362.3" y="246.9" width="0.8" height="0.8"/><rect x="364.1" y="241.3" width="0.8" height="0.8"/><rect x="359.8" y="236.4" width="0.8" height="0.8"/><rect x="359.7" y="235.2" width="0.8" height="0.8"/><rect x="359.7" y="228.3" width="0.8" height="0.8"/><rect x="360.7" y="238.4" width="0.8" height="0.8"/><rect x="365.9" y="241.5" width="0.8" height="0.8"/><rect x="359.2" y="240.8" width="0.8" height="0.8"/><rect x="357.6" y="236.1" width="0.8" height="0.8"/><rect x="356.2" y="244.2" width="0.8" height="0.8"/><rect x="361.6" y="233.8" width="0.8" height="0.8"/><rect x="360.2" y="242.3" width="0.8" height="0.8"/><rect x="361.4" y="240.0" width="0.8" height="0.8"/><rect x="358.4" y="236.0" width="0.8" height="0.8"/><rect x="360.5" y="242.2" width="0.8" height="0.8"/><rect x="358.5" y="234.0" width="0.8" height="0.8"/><rect x="362.8" y="234.8" width="0.8" height="0.8"/><rect x="362.7" y="239.5" width="0.8" height="0.8"/><rect x="362.2" y="245.5" width="0.8" height="0.8"/><rect x="361.8" y="241.6" width="0.8" height="0.8"/><rect x="358.3" y="235.7" width="0.8" height="0.8"/><rect x="361.7" y="244.6" width="0.8" height="0.8"/><rect x="363.4" y="247.8" width="0.8" height="0.8"/><rect x="361.0" y="239.3" width="0.8" height="0.8"/><rect x="362.5" y="238.6" width="0.8" height="0.8"/><rect x="360.2" y="234.3" width="0.8" height="0.8"/><rect x="362.5" y="234.2" width="0.8" height="0.8"/><rect x="361.4" y="232.8" width="0.8" height="0.8"/><rect x="362.7" y="234.4" width="0.8" height="0.8"/><rect x="362.2" y="232.1" width="0.8" height="0.8"/><rect x="359.3" y="243.2" width="0.8" height="0.8"/><rect x="358.5" y="238.8" width="0.8" height="0.8"/><rect x="359.2" y="229.3" width="0.8" height="0.8"/><rect x="361.0" y="240.2" width="0.8" height="0.8"/><rect x="357.9" y="240.8" width="0.8" height="0.8"/><rect x="358.5" y="234.5" width="0.8" height="0.8"/><rect x="360.3" y="235.8" width="0.8" height="0.8"/><rect x="365.3" y="232.3" width="0.8" height="0.8"/><rect x="361.9" y="242.5" width="0.8" height="0.8"/><rect x="355.9" y="231.6" width="0.8" height="0.8"/><rect x="361.5" y="236.6" width="0.8" height="0.8"/><rect x="361.1" y="243.1" width="0.8" height="0.8"/><rect x="359.5" y="234.2" width="0.8" height="0.8"/><rect x="354.3" y="239.3" width="0.8" height="0.8"/><rect x="358.3" y="239.8" width="0.8" height="0.8"/><rect x="360.8" y="233.0" width="0.8" height="0.8"/><rect x="364.1" y="242.8" width="0.8" height="0.8"/><rect x="362.2" y="233.8" width="0.8" height="0.8"/><rect x="359.4" y="236.3" width="0.8" height="0.8"/><rect x="359.4" y="234.0" width="0.8" height="0.8"/><rect x="361.3" y="239.4" width="0.8" height="0.8"/><rect x="361.1" y="236.5" width="0.8" height="0.8"/><rect x="363.1" y="239.3" width="0.8" height="0.8"/><rect x="354.3" y="235.9" width="0.8" height="0.8"/><rect x="360.2" y="242.4" width="0.8" height="0.8"/><rect x="359.6" y="237.5" width="0.8" height="0.8"/><rect x="358.8" y="241.2" width="0.8" height="0.8"/><rect x="359.3" y="236.1" width="0.8" height="0.8"/><rect x="358.7" y="240.7" width="0.8" height="0.8"/><rect x="359.1" y="231.8" width="0.8" height="0.8"/><rect x="361.7" y="235.7" width="0.8" height="0.8"/><rect x="361.1" y="240.0" width="0.8" height="0.8"/><rect x="362.9" y="242.7" width="0.8" height="0.8"/><rect x="359.0" y="237.8" width="0.8" height="0.8"/><rect x="357.5" y="245.2" width="0.8" height="0.8"/><rect x="361.3" y="244.1" width="0.8" height="0.8"/><rect x="359.6" y="230.3" width="0.8" height="0.8"/><rect x="363.7" y="238.9" width="0.8" height="0.8"/><rect x="360.6" y="238.7" width="0.8" height="0.8"/><rect x="361.7" y="240.6" width="0.8" height="0.8"/><rect x="356.8" y="242.8" width="0.8" height="0.8"/><rect x="359.1" y="236.6" width="0.8" height="0.8"/><rect x="364.1" y="242.2" width="0.8" height="0.8"/><rect x="359.6" y="231.1" width="0.8" height="0.8"/><rect x="360.7" y="240.7" width="0.8" height="0.8"/><rect x="360.1" y="233.5" width="0.8" height="0.8"/><rect x="358.6" y="233.5" width="0.8" height="0.8"/><rect x="360.8" y="241.8" width="0.8" height="0.8"/><rect x="362.6" y="235.6" width="0.8" height="0.8"/><rect x="360.8" y="240.7" width="0.8" height="0.8"/><rect x="359.2" y="237.9" width="0.8" height="0.8"/><rect x="365.0" y="239.3" width="0.8" height="0.8"/><rect x="362.2" y="236.8" width="0.8" height="0.8"/><rect x="360.4" y="231.6" width="0.8" height="0.8"/><rect x="360.2" y="243.3" width="0.8" height="0.8"/><rect x="364.9" y="243.3" width="0.8" height="0.8"/><rect x="361.8" y="238.7" width="0.8" height="0.8"/><rect x="359.0" y="237.9" width="0.8" height="0.8"/><rect x="361.6" y="235.4" width="0.8" height="0.8"/><rect x="362.4" y="234.6" width="0.8" height="0.8"/><rect x="356.4" y="234.5" width="0.8" height="0.8"/><rect x="356.6" y="233.0" width="0.8" height="0.8"/><rect x="362.8" y="237.7" width="0.8" height="0.8"/><rect x="360.8" y="243.1" width="0.8" height="0.8"/><rect x="363.1" y="236.5" width="0.8" height="0.8"/><rect x="363.2" y="240.0" width="0.8" height="0.8"/><rect x="360.3" y="240.3" width="0.8" height="0.8"/><rect x="357.2" y="235.4" width="0.8" height="0.8"/><rect x="360.1" y="240.9" width="0.8" height="0.8"/><rect x="359.5" y="238.0" width="0.8" height="0.8"/><rect x="362.4" y="244.1" width="0.8" height="0.8"/><rect x="362.0" y="243.6" width="0.8" height="0.8"/><rect x="359.4" y="237.3" width="0.8" height="0.8"/><rect x="361.0" y="237.3" width="0.8" height="0.8"/><rect x="359.2" y="245.1" width="0.8" height="0.8"/><rect x="359.9" y="234.6" width="0.8" height="0.8"/><rect x="361.4" y="245.8" width="0.8" height="0.8"/><rect x="360.5" y="243.4" width="0.8" height="0.8"/><rect x="359.3" y="236.5" width="0.8" height="0.8"/><rect x="358.8" y="237.9" width="0.8" height="0.8"/><rect x="364.3" y="233.9" width="0.8" height="0.8"/><rect x="363.9" y="234.5" width="0.8" height="0.8"/><rect x="359.8" y="241.8" width="0.8" height="0.8"/><rect x="361.7" y="239.6" width="0.8" height="0.8"/><rect x="356.7" y="239.9" width="0.8" height="0.8"/><rect x="358.1" y="248.8" width="0.8" height="0.8"/><rect x="359.8" y="239.3" width="0.8" height="0.8"/><rect x="357.8" y="236.6" width="0.8" height="0.8"/><rect x="357.5" y="242.4" width="0.8" height="0.8"/><rect x="359.7" y="240.8" width="0.8" height="0.8"/><rect x="358.8" y="236.5" width="0.8" height="0.8"/><rect x="363.1" y="234.6" width="0.8" height="0.8"/><rect x="356.3" y="240.1" width="0.8" height="0.8"/><rect x="357.8" y="236.7" width="0.8" height="0.8"/><rect x="362.3" y="235.2" width="0.8" height="0.8"/><rect x="362.2" y="235.8" width="0.8" height="0.8"/><rect x="363.6" y="243.8" width="0.8" height="0.8"/><rect x="359.3" y="237.6" width="0.8" height="0.8"/><rect x="358.5" y="239.3" width="0.8" height="0.8"/><rect x="362.8" y="232.7" width="0.8" height="0.8"/><rect x="362.3" y="233.2" width="0.8" height="0.8"/><rect x="358.4" y="231.3" width="0.8" height="0.8"/><rect x="364.9" y="238.7" width="0.8" height="0.8"/><rect x="360.8" y="235.8" width="0.8" height="0.8"/><rect x="362.6" y="230.1" width="0.8" height="0.8"/><rect x="360.4" y="247.3" width="0.8" height="0.8"/><rect x="359.5" y="238.6" width="0.8" height="0.8"/><rect x="361.8" y="235.3" width="0.8" height="0.8"/><rect x="360.4" y="242.3" width="0.8" height="0.8"/><rect x="360.7" y="240.0" width="0.8" height="0.8"/><rect x="359.5" y="239.8" width="0.8" height="0.8"/><rect x="360.4" y="244.3" width="0.8" height="0.8"/><rect x="361.9" y="237.5" width="0.8" height="0.8"/><rect x="354.9" y="241.4" width="0.8" height="0.8"/><rect x="362.0" y="234.8" width="0.8" height="0.8"/><rect x="355.9" y="233.9" width="0.8" height="0.8"/><rect x="362.3" y="234.2" width="0.8" height="0.8"/><rect x="359.3" y="239.4" width="0.8" height="0.8"/><rect x="363.0" y="238.4" width="0.8" height="0.8"/><rect x="360.1" y="236.3" width="0.8" height="0.8"/><rect x="363.9" y="242.8" width="0.8" height="0.8"/><rect x="360.1" y="232.9" width="0.8" height="0.8"/><rect x="358.6" y="240.8" width="0.8" height="0.8"/><rect x="358.7" y="242.1" width="0.8" height="0.8"/><rect x="361.1" y="239.7" width="0.8" height="0.8"/><rect x="361.7" y="240.5" width="0.8" height="0.8"/><rect x="358.4" y="237.2" width="0.8" height="0.8"/><rect x="365.4" y="233.7" width="0.8" height="0.8"/><rect x="359.3" y="242.8" width="0.8" height="0.8"/><rect x="359.9" y="235.3" width="0.8" height="0.8"/><rect x="357.4" y="240.6" width="0.8" height="0.8"/><rect x="362.5" y="244.1" width="0.8" height="0.8"/><rect x="360.4" y="242.7" width="0.8" height="0.8"/><rect x="358.0" y="239.2" width="0.8" height="0.8"/><rect x="358.8" y="239.2" width="0.8" height="0.8"/><rect x="362.0" y="242.8" width="0.8" height="0.8"/><rect x="358.1" y="243.6" width="0.8" height="0.8"/><rect x="359.3" y="234.4" width="0.8" height="0.8"/><rect x="359.9" y="232.6" width="0.8" height="0.8"/><rect x="360.3" y="239.7" width="0.8" height="0.8"/><rect x="359.9" y="240.6" width="0.8" height="0.8"/><rect x="359.6" y="238.5" width="0.8" height="0.8"/><rect x="357.1" y="238.7" width="0.8" height="0.8"/><rect x="358.4" y="236.7" width="0.8" height="0.8"/><rect x="360.1" y="239.3" width="0.8" height="0.8"/><rect x="356.7" y="232.2" width="0.8" height="0.8"/><rect x="359.6" y="240.4" width="0.8" height="0.8"/><rect x="361.1" y="242.1" width="0.8" height="0.8"/><rect x="363.2" y="240.5" width="0.8" height="0.8"/><rect x="360.3" y="234.4" width="0.8" height="0.8"/><rect x="358.2" y="236.6" width="0.8" height="0.8"/><rect x="360.9" y="239.4" width="0.8" height="0.8"/><rect x="360.3" y="237.9" width="0.8" height="0.8"/><rect x="361.7" y="239.3" width="0.8" height="0.8"/><rect x="361.0" y="239.7" width="0.8" height="0.8"/><rect x="359.1" y="234.4" width="0.8" height="0.8"/><rect x="361.4" y="240.2" width="0.8" height="0.8"/><rect x="359.8" y="236.8" width="0.8" height="0.8"/><rect x="365.3" y="235.5" width="0.8" height="0.8"/><rect x="359.8" y="239.6" width="0.8" height="0.8"/><rect x="357.8" y="239.0" width="0.8" height="0.8"/><rect x="364.3" y="242.2" width="0.8" height="0.8"/><rect x="361.7" y="240.9" width="0.8" height="0.8"/><rect x="360.5" y="242.3" width="0.8" height="0.8"/><rect x="360.0" y="236.8" width="0.8" height="0.8"/><rect x="360.5" y="242.1" width="0.8" height="0.8"/><rect x="361.0" y="241.2" width="0.8" height="0.8"/><rect x="355.8" y="243.3" width="0.8" height="0.8"/><rect x="365.4" y="243.8" width="0.8" height="0.8"/><rect x="359.6" y="235.1" width="0.8" height="0.8"/><rect x="360.9" y="234.6" width="0.8" height="0.8"/><rect x="361.9" y="236.4" width="0.8" height="0.8"/><rect x="362.4" y="243.9" width="0.8" height="0.8"/><rect x="355.8" y="239.7" width="0.8" height="0.8"/><rect x="358.8" y="232.9" width="0.8" height="0.8"/><rect x="358.9" y="237.6" width="0.8" height="0.8"/><rect x="362.6" y="232.4" width="0.8" height="0.8"/><rect x="362.6" y="246.6" width="0.8" height="0.8"/><rect x="361.6" y="240.7" width="0.8" height="0.8"/><rect x="360.3" y="233.8" width="0.8" height="0.8"/><rect x="361.5" y="240.0" width="0.8" height="0.8"/><rect x="361.9" y="248.8" width="0.8" height="0.8"/><rect x="361.9" y="240.2" width="0.8" height="0.8"/><rect x="363.7" y="233.1" width="0.8" height="0.8"/><rect x="357.8" y="237.0" width="0.8" height="0.8"/><rect x="358.9" y="241.3" width="0.8" height="0.8"/><rect x="359.6" y="245.5" width="0.8" height="0.8"/><rect x="363.6" y="241.6" width="0.8" height="0.8"/><rect x="359.5" y="241.0" width="0.8" height="0.8"/><rect x="362.1" y="234.2" width="0.8" height="0.8"/><rect x="361.1" y="241.3" width="0.8" height="0.8"/><rect x="360.8" y="244.8" width="0.8" height="0.8"/><rect x="363.0" y="235.2" width="0.8" height="0.8"/><rect x="360.6" y="235.2" width="0.8" height="0.8"/><rect x="361.6" y="235.0" width="0.8" height="0.8"/><rect x="362.3" y="240.1" width="0.8" height="0.8"/><rect x="362.4" y="237.9" width="0.8" height="0.8"/><rect x="357.1" y="245.6" width="0.8" height="0.8"/><rect x="359.9" y="244.0" width="0.8" height="0.8"/><rect x="361.2" y="241.2" width="0.8" height="0.8"/><rect x="364.3" y="239.9" width="0.8" height="0.8"/><rect x="363.4" y="232.6" width="0.8" height="0.8"/><rect x="362.2" y="237.5" width="0.8" height="0.8"/><rect x="360.0" y="238.5" width="0.8" height="0.8"/><rect x="361.1" y="245.1" width="0.8" height="0.8"/><rect x="356.2" y="238.7" width="0.8" height="0.8"/><rect x="358.7" y="243.2" width="0.8" height="0.8"/><rect x="359.4" y="240.3" width="0.8" height="0.8"/><rect x="359.4" y="241.2" width="0.8" height="0.8"/><rect x="362.5" y="236.9" width="0.8" height="0.8"/><rect x="360.4" y="232.8" width="0.8" height="0.8"/><rect x="361.0" y="241.9" width="0.8" height="0.8"/><rect x="359.1" y="243.0" width="0.8" height="0.8"/><rect x="355.7" y="231.1" width="0.8" height="0.8"/><rect x="357.2" y="236.6" width="0.8" height="0.8"/><rect x="360.3" y="238.2" width="0.8" height="0.8"/><rect x="360.2" y="241.4" width="0.8" height="0.8"/><rect x="359.3" y="233.4" width="0.8" height="0.8"/><rect x="357.6" y="247.0" width="0.8" height="0.8"/><rect x="355.1" y="237.8" width="0.8" height="0.8"/><rect x="363.5" y="240.4" width="0.8" height="0.8"/><rect x="358.5" y="238.5" width="0.8" height="0.8"/><rect x="362.2" y="243.3" width="0.8" height="0.8"/><rect x="358.3" y="241.5" width="0.8" height="0.8"/><rect x="360.9" y="242.9" width="0.8" height="0.8"/><rect x="363.4" y="237.1" width="0.8" height="0.8"/><rect x="357.1" y="240.1" width="0.8" height="0.8"/><rect x="364.2" y="241.2" width="0.8" height="0.8"/><rect x="360.8" y="248.1" width="0.8" height="0.8"/><rect x="358.0" y="242.1" width="0.8" height="0.8"/><rect x="359.0" y="238.7" width="0.8" height="0.8"/><rect x="360.5" y="244.6" width="0.8" height="0.8"/><rect x="358.2" y="236.4" width="0.8" height="0.8"/><rect x="356.8" y="240.4" width="0.8" height="0.8"/><rect x="359.3" y="240.2" width="0.8" height="0.8"/><rect x="357.9" y="237.1" width="0.8" height="0.8"/><rect x="362.6" y="237.8" width="0.8" height="0.8"/><rect x="361.7" y="240.6" width="0.8" height="0.8"/><rect x="359.5" y="232.3" width="0.8" height="0.8"/><rect x="362.5" y="239.2" width="0.8" height="0.8"/><rect x="362.5" y="230.4" width="0.8" height="0.8"/><rect x="356.7" y="229.9" width="0.8" height="0.8"/><rect x="358.4" y="242.7" width="0.8" height="0.8"/><rect x="361.5" y="238.4" width="0.8" height="0.8"/><rect x="360.6" y="241.5" width="0.8" height="0.8"/><rect x="359.6" y="240.1" width="0.8" height="0.8"/><rect x="360.6" y="229.8" width="0.8" height="0.8"/><rect x="359.5" y="243.9" width="0.8" height="0.8"/><rect x="359.4" y="237.9" width="0.8" height="0.8"/><rect x="359.0" y="236.6" width="0.8" height="0.8"/><rect x="362.8" y="237.4" width="0.8" height="0.8"/><rect x="358.1" y="226.1" width="0.8" height="0.8"/><rect x="359.0" y="230.6" width="0.8" height="0.8"/><rect x="356.3" y="241.7" width="0.8" height="0.8"/><rect x="361.9" y="230.8" width="0.8" height="0.8"/><rect x="362.2" y="240.3" width="0.8" height="0.8"/><rect x="358.6" y="241.4" width="0.8" height="0.8"/><rect x="356.7" y="233.7" width="0.8" height="0.8"/><rect x="357.1" y="234.1" width="0.8" height="0.8"/><rect x="362.2" y="233.2" width="0.8" height="0.8"/><rect x="357.8" y="234.7" width="0.8" height="0.8"/><rect x="360.7" y="237.1" width="0.8" height="0.8"/><rect x="362.2" y="235.7" width="0.8" height="0.8"/><rect x="357.5" y="236.5" width="0.8" height="0.8"/><rect x="360.4" y="234.8" width="0.8" height="0.8"/><rect x="360.9" y="245.7" width="0.8" height="0.8"/><rect x="359.0" y="238.6" width="0.8" height="0.8"/><rect x="363.3" y="235.9" width="0.8" height="0.8"/><rect x="358.4" y="234.1" width="0.8" height="0.8"/><rect x="361.1" y="240.5" width="0.8" height="0.8"/><rect x="359.9" y="238.6" width="0.8" height="0.8"/><rect x="363.1" y="241.9" width="0.8" height="0.8"/><rect x="357.2" y="238.4" width="0.8" height="0.8"/><rect x="360.5" y="241.3" width="0.8" height="0.8"/><rect x="359.8" y="235.8" width="0.8" height="0.8"/><rect x="359.2" y="231.3" width="0.8" height="0.8"/><rect x="360.2" y="236.0" width="0.8" height="0.8"/><rect x="361.3" y="234.3" width="0.8" height="0.8"/><rect x="359.3" y="234.5" width="0.8" height="0.8"/><rect x="357.9" y="241.2" width="0.8" height="0.8"/><rect x="359.2" y="240.1" width="0.8" height="0.8"/><rect x="357.8" y="238.7" width="0.8" height="0.8"/><rect x="356.5" y="236.4" width="0.8" height="0.8"/><rect x="359.1" y="240.7" width="0.8" height="0.8"/><rect x="360.6" y="237.6" width="0.8" height="0.8"/><rect x="362.1" y="239.1" width="0.8" height="0.8"/><rect x="361.4" y="241.4" width="0.8" height="0.8"/><rect x="360.1" y="237.2" width="0.8" height="0.8"/><rect x="360.9" y="236.7" width="0.8" height="0.8"/><rect x="361.1" y="242.8" width="0.8" height="0.8"/><rect x="362.1" y="236.8" width="0.8" height="0.8"/><rect x="357.4" y="238.1" width="0.8" height="0.8"/><rect x="359.9" y="242.7" width="0.8" height="0.8"/><rect x="359.4" y="237.5" width="0.8" height="0.8"/><rect x="361.8" y="236.4" width="0.8" height="0.8"/><rect x="359.8" y="245.2" width="0.8" height="0.8"/><rect x="363.5" y="240.8" width="0.8" height="0.8"/><rect x="360.8" y="234.4" width="0.8" height="0.8"/><rect x="361.4" y="238.5" width="0.8" height="0.8"/><rect x="360.7" y="236.2" width="0.8" height="0.8"/><rect x="360.2" y="237.6" width="0.8" height="0.8"/><rect x="360.9" y="244.0" width="0.8" height="0.8"/><rect x="361.0" y="231.7" width="0.8" height="0.8"/><rect x="358.1" y="232.0" width="0.8" height="0.8"/><rect x="358.5" y="240.5" width="0.8" height="0.8"/><rect x="361.1" y="235.9" width="0.8" height="0.8"/><rect x="360.8" y="235.3" width="0.8" height="0.8"/><rect x="357.1" y="232.7" width="0.8" height="0.8"/><rect x="358.3" y="244.0" width="0.8" height="0.8"/><rect x="357.3" y="243.3" width="0.8" height="0.8"/><rect x="363.1" y="237.6" width="0.8" height="0.8"/><rect x="360.1" y="235.9" width="0.8" height="0.8"/><rect x="360.1" y="240.9" width="0.8" height="0.8"/><rect x="360.2" y="242.3" width="0.8" height="0.8"/><rect x="362.8" y="239.7" width="0.8" height="0.8"/><rect x="360.9" y="238.1" width="0.8" height="0.8"/><rect x="360.9" y="233.8" width="0.8" height="0.8"/><rect x="361.1" y="239.1" width="0.8" height="0.8"/><rect x="358.3" y="246.9" width="0.8" height="0.8"/><rect x="358.1" y="234.8" width="0.8" height="0.8"/><rect x="360.8" y="230.6" width="0.8" height="0.8"/><rect x="358.4" y="232.2" width="0.8" height="0.8"/><rect x="358.1" y="237.8" width="0.8" height="0.8"/><rect x="360.9" y="242.7" width="0.8" height="0.8"/><rect x="362.0" y="243.0" width="0.8" height="0.8"/><rect x="361.5" y="236.4" width="0.8" height="0.8"/><rect x="362.6" y="236.3" width="0.8" height="0.8"/><rect x="358.8" y="244.4" width="0.8" height="0.8"/><rect x="361.9" y="239.2" width="0.8" height="0.8"/><rect x="361.8" y="241.8" width="0.8" height="0.8"/><rect x="357.2" y="237.9" width="0.8" height="0.8"/><rect x="357.6" y="238.8" width="0.8" height="0.8"/><rect x="358.7" y="243.7" width="0.8" height="0.8"/><rect x="361.3" y="235.0" width="0.8" height="0.8"/><rect x="360.1" y="233.4" width="0.8" height="0.8"/><rect x="360.3" y="240.5" width="0.8" height="0.8"/><rect x="360.8" y="230.6" width="0.8" height="0.8"/><rect x="359.4" y="240.3" width="0.8" height="0.8"/><rect x="360.8" y="242.9" width="0.8" height="0.8"/><rect x="357.4" y="240.4" width="0.8" height="0.8"/><rect x="358.7" y="239.1" width="0.8" height="0.8"/><rect x="361.1" y="241.0" width="0.8" height="0.8"/><rect x="358.9" y="239.0" width="0.8" height="0.8"/><rect x="357.6" y="232.6" width="0.8" height="0.8"/><rect x="361.4" y="238.1" width="0.8" height="0.8"/><rect x="356.6" y="234.9" width="0.8" height="0.8"/><rect x="360.2" y="244.5" width="0.8" height="0.8"/><rect x="362.5" y="241.5" width="0.8" height="0.8"/><rect x="356.2" y="237.9" width="0.8" height="0.8"/><rect x="361.2" y="239.8" width="0.8" height="0.8"/><rect x="361.1" y="237.3" width="0.8" height="0.8"/><rect x="364.0" y="244.2" width="0.8" height="0.8"/><rect x="360.0" y="234.3" width="0.8" height="0.8"/><rect x="364.7" y="236.1" width="0.8" height="0.8"/><rect x="362.8" y="245.9" width="0.8" height="0.8"/><rect x="358.1" y="239.4" width="0.8" height="0.8"/><rect x="359.4" y="240.3" width="0.8" height="0.8"/><rect x="360.9" y="246.0" width="0.8" height="0.8"/><rect x="361.5" y="238.2" width="0.8" height="0.8"/><rect x="362.6" y="237.2" width="0.8" height="0.8"/><rect x="359.4" y="247.2" width="0.8" height="0.8"/><rect x="358.4" y="236.3" width="0.8" height="0.8"/><rect x="360.3" y="234.0" width="0.8" height="0.8"/><rect x="355.5" y="242.5" width="0.8" height="0.8"/><rect x="358.4" y="236.1" width="0.8" height="0.8"/><rect x="359.4" y="234.3" width="0.8" height="0.8"/><rect x="357.8" y="238.9" width="0.8" height="0.8"/><rect x="365.4" y="241.2" width="0.8" height="0.8"/><rect x="361.8" y="232.2" width="0.8" height="0.8"/><rect x="360.1" y="233.5" width="0.8" height="0.8"/><rect x="361.9" y="237.4" width="0.8" height="0.8"/><rect x="360.3" y="237.9" width="0.8" height="0.8"/><rect x="358.9" y="232.2" width="0.8" height="0.8"/><rect x="361.4" y="232.7" width="0.8" height="0.8"/><rect x="357.6" y="237.1" width="0.8" height="0.8"/><rect x="358.6" y="239.3" width="0.8" height="0.8"/><rect x="362.4" y="239.3" width="0.8" height="0.8"/><rect x="360.6" y="238.4" width="0.8" height="0.8"/><rect x="362.1" y="230.9" width="0.8" height="0.8"/><rect x="361.0" y="234.5" width="0.8" height="0.8"/><rect x="357.5" y="238.3" width="0.8" height="0.8"/><rect x="359.3" y="240.6" width="0.8" height="0.8"/><rect x="362.6" y="229.0" width="0.8" height="0.8"/><rect x="360.0" y="246.1" width="0.8" height="0.8"/><rect x="362.1" y="244.0" width="0.8" height="0.8"/><rect x="360.4" y="232.5" width="0.8" height="0.8"/><rect x="357.7" y="241.1" width="0.8" height="0.8"/><rect x="362.3" y="235.3" width="0.8" height="0.8"/><rect x="359.6" y="239.3" width="0.8" height="0.8"/><rect x="356.3" y="236.9" width="0.8" height="0.8"/><rect x="363.7" y="247.0" width="0.8" height="0.8"/><rect x="359.9" y="245.6" width="0.8" height="0.8"/><rect x="359.0" y="235.0" width="0.8" height="0.8"/><rect x="355.2" y="242.1" width="0.8" height="0.8"/><rect x="359.3" y="247.6" width="0.8" height="0.8"/><rect x="360.9" y="239.0" width="0.8" height="0.8"/><rect x="356.2" y="244.3" width="0.8" height="0.8"/><rect x="359.4" y="237.6" width="0.8" height="0.8"/><rect x="355.3" y="242.0" width="0.8" height="0.8"/><rect x="362.3" y="235.8" width="0.8" height="0.8"/><rect x="360.4" y="239.8" width="0.8" height="0.8"/><rect x="362.3" y="238.7" width="0.8" height="0.8"/><rect x="364.0" y="237.3" width="0.8" height="0.8"/><rect x="358.8" y="236.4" width="0.8" height="0.8"/><rect x="354.6" y="235.0" width="0.8" height="0.8"/><rect x="362.4" y="239.3" width="0.8" height="0.8"/><rect x="358.4" y="239.7" width="0.8" height="0.8"/><rect x="355.7" y="237.1" width="0.8" height="0.8"/><rect x="361.3" y="241.1" width="0.8" height="0.8"/><rect x="358.5" y="241.9" width="0.8" height="0.8"/><rect x="364.3" y="236.6" width="0.8" height="0.8"/><rect x="361.8" y="232.1" width="0.8" height="0.8"/><rect x="355.9" y="240.7" width="0.8" height="0.8"/><rect x="360.3" y="239.1" width="0.8" height="0.8"/><rect x="358.9" y="237.1" width="0.8" height="0.8"/><rect x="362.0" y="245.2" width="0.8" height="0.8"/><rect x="359.7" y="231.7" width="0.8" height="0.8"/><rect x="363.0" y="240.7" width="0.8" height="0.8"/><rect x="361.7" y="239.0" width="0.8" height="0.8"/><rect x="365.3" y="238.6" width="0.8" height="0.8"/><rect x="361.3" y="230.9" width="0.8" height="0.8"/><rect x="358.9" y="235.5" width="0.8" height="0.8"/><rect x="360.1" y="239.7" width="0.8" height="0.8"/><rect x="358.5" y="245.2" width="0.8" height="0.8"/><rect x="357.8" y="236.5" width="0.8" height="0.8"/><rect x="360.7" y="233.3" width="0.8" height="0.8"/><rect x="361.4" y="240.8" width="0.8" height="0.8"/><rect x="359.5" y="245.9" width="0.8" height="0.8"/><rect x="360.4" y="239.4" width="0.8" height="0.8"/><rect x="358.1" y="231.6" width="0.8" height="0.8"/><rect x="358.8" y="237.0" width="0.8" height="0.8"/><rect x="359.2" y="241.4" width="0.8" height="0.8"/><rect x="354.9" y="233.8" width="0.8" height="0.8"/><rect x="356.2" y="243.7" width="0.8" height="0.8"/><rect x="358.9" y="236.2" width="0.8" height="0.8"/><rect x="357.8" y="241.9" width="0.8" height="0.8"/><rect x="359.3" y="239.2" width="0.8" height="0.8"/><rect x="355.7" y="243.0" width="0.8" height="0.8"/><rect x="361.1" y="240.5" width="0.8" height="0.8"/><rect x="362.9" y="237.5" width="0.8" height="0.8"/><rect x="359.8" y="241.2" width="0.8" height="0.8"/><rect x="361.1" y="237.3" width="0.8" height="0.8"/><rect x="360.3" y="236.3" width="0.8" height="0.8"/><rect x="361.8" y="242.0" width="0.8" height="0.8"/><rect x="360.2" y="245.8" width="0.8" height="0.8"/><rect x="356.8" y="237.4" width="0.8" height="0.8"/><rect x="364.0" y="236.6" width="0.8" height="0.8"/><rect x="356.7" y="243.9" width="0.8" height="0.8"/><rect x="361.4" y="233.5" width="0.8" height="0.8"/><rect x="361.9" y="234.2" width="0.8" height="0.8"/><rect x="357.2" y="237.7" width="0.8" height="0.8"/><rect x="359.1" y="233.9" width="0.8" height="0.8"/><rect x="359.4" y="234.3" width="0.8" height="0.8"/><rect x="360.3" y="238.2" width="0.8" height="0.8"/><rect x="361.8" y="236.5" width="0.8" height="0.8"/><rect x="357.3" y="233.0" width="0.8" height="0.8"/><rect x="359.7" y="244.5" width="0.8" height="0.8"/><rect x="362.1" y="235.7" width="0.8" height="0.8"/><rect x="362.3" y="233.7" width="0.8" height="0.8"/><rect x="362.4" y="236.8" width="0.8" height="0.8"/><rect x="361.9" y="240.8" width="0.8" height="0.8"/><rect x="359.6" y="239.6" width="0.8" height="0.8"/><rect x="357.8" y="238.0" width="0.8" height="0.8"/><rect x="362.6" y="254.7" width="0.8" height="0.8"/><rect x="361.7" y="238.7" width="0.8" height="0.8"/><rect x="358.0" y="242.6" width="0.8" height="0.8"/><rect x="356.5" y="235.1" width="0.8" height="0.8"/><rect x="361.0" y="233.5" width="0.8" height="0.8"/><rect x="363.6" y="242.7" width="0.8" height="0.8"/><rect x="358.9" y="236.1" width="0.8" height="0.8"/><rect x="357.3" y="232.7" width="0.8" height="0.8"/><rect x="361.2" y="240.8" width="0.8" height="0.8"/><rect x="361.0" y="239.4" width="0.8" height="0.8"/><rect x="359.0" y="239.8" width="0.8" height="0.8"/><rect x="356.9" y="238.3" width="0.8" height="0.8"/><rect x="363.5" y="243.6" width="0.8" height="0.8"/><rect x="359.2" y="237.0" width="0.8" height="0.8"/><rect x="363.2" y="245.5" width="0.8" height="0.8"/><rect x="356.9" y="236.6" width="0.8" height="0.8"/><rect x="360.7" y="243.2" width="0.8" height="0.8"/><rect x="358.3" y="240.9" width="0.8" height="0.8"/><rect x="359.5" y="247.9" width="0.8" height="0.8"/><rect x="361.1" y="237.8" width="0.8" height="0.8"/><rect x="359.5" y="242.6" width="0.8" height="0.8"/><rect x="361.7" y="234.0" width="0.8" height="0.8"/><rect x="360.7" y="232.9" width="0.8" height="0.8"/><rect x="358.5" y="233.1" width="0.8" height="0.8"/><rect x="357.3" y="235.6" width="0.8" height="0.8"/><rect x="358.0" y="240.4" width="0.8" height="0.8"/><rect x="362.0" y="237.4" width="0.8" height="0.8"/><rect x="357.7" y="241.6" width="0.8" height="0.8"/><rect x="355.7" y="230.6" width="0.8" height="0.8"/><rect x="361.8" y="241.0" width="0.8" height="0.8"/><rect x="362.4" y="237.5" width="0.8" height="0.8"/><rect x="357.4" y="236.3" width="0.8" height="0.8"/><rect x="361.5" y="235.2" width="0.8" height="0.8"/><rect x="358.7" y="232.7" width="0.8" height="0.8"/><rect x="357.6" y="241.7" width="0.8" height="0.8"/><rect x="361.2" y="233.7" width="0.8" height="0.8"/><rect x="357.8" y="236.1" width="0.8" height="0.8"/><rect x="361.4" y="233.6" width="0.8" height="0.8"/><rect x="359.8" y="229.7" width="0.8" height="0.8"/><rect x="357.4" y="240.0" width="0.8" height="0.8"/><rect x="362.2" y="233.7" width="0.8" height="0.8"/><rect x="358.5" y="241.5" width="0.8" height="0.8"/><rect x="359.3" y="236.1" width="0.8" height="0.8"/><rect x="361.3" y="239.1" width="0.8" height="0.8"/><rect x="362.7" y="241.5" width="0.8" height="0.8"/><rect x="358.9" y="237.8" width="0.8" height="0.8"/><rect x="360.1" y="232.9" width="0.8" height="0.8"/><rect x="358.1" y="242.2" width="0.8" height="0.8"/><rect x="356.7" y="242.3" width="0.8" height="0.8"/><rect x="360.8" y="237.8" width="0.8" height="0.8"/><rect x="361.4" y="240.2" width="0.8" height="0.8"/><rect x="362.9" y="236.7" width="0.8" height="0.8"/><rect x="359.7" y="237.3" width="0.8" height="0.8"/><rect x="364.4" y="242.1" width="0.8" height="0.8"/><rect x="358.2" y="237.0" width="0.8" height="0.8"/><rect x="358.6" y="238.4" width="0.8" height="0.8"/><rect x="360.7" y="247.5" width="0.8" height="0.8"/><rect x="356.2" y="242.5" width="0.8" height="0.8"/><rect x="361.2" y="235.5" width="0.8" height="0.8"/><rect x="359.9" y="236.4" width="0.8" height="0.8"/><rect x="360.3" y="242.4" width="0.8" height="0.8"/><rect x="356.9" y="243.6" width="0.8" height="0.8"/><rect x="359.4" y="244.4" width="0.8" height="0.8"/><rect x="361.1" y="243.3" width="0.8" height="0.8"/><rect x="361.5" y="242.7" width="0.8" height="0.8"/><rect x="360.3" y="235.0" width="0.8" height="0.8"/><rect x="361.7" y="241.2" width="0.8" height="0.8"/><rect x="364.9" y="230.3" width="0.8" height="0.8"/><rect x="359.8" y="242.6" width="0.8" height="0.8"/><rect x="357.5" y="237.4" width="0.8" height="0.8"/><rect x="364.9" y="244.0" width="0.8" height="0.8"/><rect x="358.3" y="244.1" width="0.8" height="0.8"/><rect x="362.8" y="241.5" width="0.8" height="0.8"/><rect x="361.1" y="239.3" width="0.8" height="0.8"/><rect x="358.3" y="236.3" width="0.8" height="0.8"/><rect x="361.8" y="238.9" width="0.8" height="0.8"/><rect x="364.3" y="237.0" width="0.8" height="0.8"/><rect x="354.9" y="237.0" width="0.8" height="0.8"/><rect x="360.8" y="239.9" width="0.8" height="0.8"/><rect x="360.4" y="235.1" width="0.8" height="0.8"/><rect x="363.5" y="235.7" width="0.8" height="0.8"/><rect x="361.8" y="237.2" width="0.8" height="0.8"/><rect x="357.6" y="244.1" width="0.8" height="0.8"/><rect x="354.7" y="235.0" width="0.8" height="0.8"/><rect x="361.2" y="237.0" width="0.8" height="0.8"/><rect x="361.9" y="238.0" width="0.8" height="0.8"/><rect x="359.2" y="247.1" width="0.8" height="0.8"/><rect x="359.8" y="237.8" width="0.8" height="0.8"/><rect x="357.9" y="235.4" width="0.8" height="0.8"/><rect x="361.7" y="240.7" width="0.8" height="0.8"/><rect x="360.3" y="235.6" width="0.8" height="0.8"/><rect x="361.8" y="231.6" width="0.8" height="0.8"/><rect x="359.5" y="237.4" width="0.8" height="0.8"/><rect x="358.4" y="239.0" width="0.8" height="0.8"/><rect x="358.8" y="235.2" width="0.8" height="0.8"/><rect x="364.2" y="241.4" width="0.8" height="0.8"/><rect x="362.9" y="238.6" width="0.8" height="0.8"/><rect x="362.4" y="241.6" width="0.8" height="0.8"/><rect x="362.9" y="247.9" width="0.8" height="0.8"/><rect x="359.8" y="239.5" width="0.8" height="0.8"/><rect x="360.2" y="224.4" width="0.8" height="0.8"/><rect x="357.2" y="238.5" width="0.8" height="0.8"/><rect x="361.7" y="236.2" width="0.8" height="0.8"/><rect x="362.8" y="243.6" width="0.8" height="0.8"/><rect x="359.4" y="244.2" width="0.8" height="0.8"/><rect x="364.1" y="240.3" width="0.8" height="0.8"/><rect x="358.1" y="244.4" width="0.8" height="0.8"/><rect x="359.9" y="237.0" width="0.8" height="0.8"/><rect x="360.5" y="236.3" width="0.8" height="0.8"/><rect x="362.7" y="241.6" width="0.8" height="0.8"/><rect x="363.0" y="240.8" width="0.8" height="0.8"/><rect x="358.6" y="237.9" width="0.8" height="0.8"/><rect x="362.2" y="236.9" width="0.8" height="0.8"/><rect x="366.7" y="237.5" width="0.8" height="0.8"/><rect x="359.0" y="243.1" width="0.8" height="0.8"/><rect x="361.9" y="238.4" width="0.8" height="0.8"/><rect x="359.8" y="240.2" width="0.8" height="0.8"/><rect x="362.1" y="241.6" width="0.8" height="0.8"/><rect x="359.6" y="240.2" width="0.8" height="0.8"/><rect x="362.2" y="241.6" width="0.8" height="0.8"/><rect x="353.5" y="234.9" width="0.8" height="0.8"/><rect x="358.6" y="237.6" width="0.8" height="0.8"/><rect x="360.7" y="242.2" width="0.8" height="0.8"/><rect x="361.7" y="238.0" width="0.8" height="0.8"/><rect x="360.4" y="245.5" width="0.8" height="0.8"/><rect x="359.0" y="239.7" width="0.8" height="0.8"/><rect x="363.7" y="239.9" width="0.8" height="0.8"/><rect x="355.8" y="240.0" width="0.8" height="0.8"/><rect x="359.4" y="238.0" width="0.8" height="0.8"/><rect x="362.6" y="240.4" width="0.8" height="0.8"/><rect x="359.7" y="242.1" width="0.8" height="0.8"/><rect x="361.3" y="238.9" width="0.8" height="0.8"/><rect x="361.0" y="239.5" width="0.8" height="0.8"/><rect x="359.6" y="236.7" width="0.8" height="0.8"/><rect x="360.4" y="234.7" width="0.8" height="0.8"/><rect x="357.5" y="243.7" width="0.8" height="0.8"/><rect x="359.8" y="238.4" width="0.8" height="0.8"/><rect x="360.0" y="238.6" width="0.8" height="0.8"/><rect x="360.3" y="238.8" width="0.8" height="0.8"/><rect x="358.5" y="242.2" width="0.8" height="0.8"/><rect x="358.8" y="242.6" width="0.8" height="0.8"/><rect x="356.1" y="234.3" width="0.8" height="0.8"/><rect x="362.5" y="237.9" width="0.8" height="0.8"/><rect x="358.8" y="240.0" width="0.8" height="0.8"/><rect x="358.0" y="238.8" width="0.8" height="0.8"/><rect x="355.4" y="236.7" width="0.8" height="0.8"/><rect x="358.9" y="240.7" width="0.8" height="0.8"/><rect x="362.2" y="235.1" width="0.8" height="0.8"/><rect x="363.8" y="236.1" width="0.8" height="0.8"/><rect x="355.8" y="229.0" width="0.8" height="0.8"/><rect x="363.7" y="238.1" width="0.8" height="0.8"/><rect x="358.9" y="235.5" width="0.8" height="0.8"/><rect x="357.9" y="243.9" width="0.8" height="0.8"/><rect x="360.1" y="245.7" width="0.8" height="0.8"/><rect x="359.9" y="229.1" width="0.8" height="0.8"/><rect x="362.2" y="237.0" width="0.8" height="0.8"/><rect x="359.8" y="244.8" width="0.8" height="0.8"/><rect x="359.7" y="243.1" width="0.8" height="0.8"/><rect x="360.3" y="235.5" width="0.8" height="0.8"/><rect x="361.4" y="236.1" width="0.8" height="0.8"/><rect x="363.0" y="242.3" width="0.8" height="0.8"/><rect x="360.4" y="240.9" width="0.8" height="0.8"/><rect x="361.5" y="237.4" width="0.8" height="0.8"/><rect x="362.3" y="237.6" width="0.8" height="0.8"/><rect x="361.7" y="234.7" width="0.8" height="0.8"/><rect x="360.5" y="240.2" width="0.8" height="0.8"/><rect x="358.6" y="236.8" width="0.8" height="0.8"/><rect x="359.1" y="241.4" width="0.8" height="0.8"/><rect x="358.7" y="240.3" width="0.8" height="0.8"/><rect x="363.7" y="239.9" width="0.8" height="0.8"/><rect x="356.8" y="239.0" width="0.8" height="0.8"/><rect x="362.6" y="237.4" width="0.8" height="0.8"/><rect x="362.8" y="241.0" width="0.8" height="0.8"/><rect x="361.2" y="237.5" width="0.8" height="0.8"/><rect x="359.2" y="237.5" width="0.8" height="0.8"/><rect x="360.5" y="240.6" width="0.8" height="0.8"/><rect x="361.2" y="237.3" width="0.8" height="0.8"/><rect x="360.5" y="240.1" width="0.8" height="0.8"/><rect x="356.7" y="235.5" width="0.8" height="0.8"/><rect x="358.6" y="237.7" width="0.8" height="0.8"/><rect x="359.7" y="237.5" width="0.8" height="0.8"/><rect x="358.4" y="241.2" width="0.8" height="0.8"/><rect x="360.9" y="232.0" width="0.8" height="0.8"/><rect x="360.4" y="234.1" width="0.8" height="0.8"/><rect x="364.1" y="236.7" width="0.8" height="0.8"/><rect x="359.5" y="238.9" width="0.8" height="0.8"/><rect x="359.9" y="238.3" width="0.8" height="0.8"/><rect x="363.7" y="239.5" width="0.8" height="0.8"/><rect x="362.2" y="243.1" width="0.8" height="0.8"/><rect x="358.2" y="245.3" width="0.8" height="0.8"/><rect x="361.9" y="242.4" width="0.8" height="0.8"/><rect x="358.4" y="241.8" width="0.8" height="0.8"/><rect x="361.2" y="236.4" width="0.8" height="0.8"/><rect x="365.4" y="240.8" width="0.8" height="0.8"/><rect x="359.8" y="239.3" width="0.8" height="0.8"/><rect x="362.3" y="243.1" width="0.8" height="0.8"/><rect x="361.6" y="243.4" width="0.8" height="0.8"/><rect x="363.6" y="233.6" width="0.8" height="0.8"/><rect x="359.3" y="234.8" width="0.8" height="0.8"/><rect x="360.6" y="244.4" width="0.8" height="0.8"/><rect x="361.8" y="234.4" width="0.8" height="0.8"/><rect x="359.7" y="242.7" width="0.8" height="0.8"/><rect x="359.2" y="238.2" width="0.8" height="0.8"/><rect x="361.0" y="231.3" width="0.8" height="0.8"/><rect x="362.1" y="239.9" width="0.8" height="0.8"/><rect x="361.6" y="234.7" width="0.8" height="0.8"/><rect x="358.7" y="236.2" width="0.8" height="0.8"/><rect x="360.9" y="238.9" width="0.8" height="0.8"/><rect x="360.6" y="245.7" width="0.8" height="0.8"/><rect x="363.2" y="235.7" width="0.8" height="0.8"/><rect x="358.9" y="245.4" width="0.8" height="0.8"/><rect x="359.6" y="244.1" width="0.8" height="0.8"/><rect x="363.9" y="236.4" width="0.8" height="0.8"/><rect x="359.8" y="238.9" width="0.8" height="0.8"/><rect x="358.4" y="234.7" width="0.8" height="0.8"/><rect x="359.5" y="242.0" width="0.8" height="0.8"/><rect x="359.4" y="237.8" width="0.8" height="0.8"/><rect x="359.3" y="233.1" width="0.8" height="0.8"/><rect x="363.6" y="229.2" width="0.8" height="0.8"/><rect x="358.9" y="240.8" width="0.8" height="0.8"/><rect x="357.3" y="241.0" width="0.8" height="0.8"/><rect x="363.1" y="235.1" width="0.8" height="0.8"/><rect x="360.8" y="234.1" width="0.8" height="0.8"/><rect x="361.5" y="238.9" width="0.8" height="0.8"/><rect x="360.8" y="244.0" width="0.8" height="0.8"/><rect x="361.4" y="244.0" width="0.8" height="0.8"/><rect x="361.7" y="233.8" width="0.8" height="0.8"/><rect x="360.9" y="240.5" width="0.8" height="0.8"/><rect x="357.2" y="243.9" width="0.8" height="0.8"/><rect x="360.5" y="240.0" width="0.8" height="0.8"/><rect x="358.4" y="238.9" width="0.8" height="0.8"/><rect x="361.0" y="237.3" width="0.8" height="0.8"/><rect x="360.5" y="230.1" width="0.8" height="0.8"/><rect x="363.3" y="234.1" width="0.8" height="0.8"/><rect x="355.5" y="234.7" width="0.8" height="0.8"/><rect x="358.5" y="240.8" width="0.8" height="0.8"/><rect x="358.3" y="239.7" width="0.8" height="0.8"/><rect x="358.2" y="247.4" width="0.8" height="0.8"/><rect x="361.5" y="246.4" width="0.8" height="0.8"/><rect x="358.1" y="241.2" width="0.8" height="0.8"/><rect x="358.2" y="240.9" width="0.8" height="0.8"/><rect x="361.8" y="232.2" width="0.8" height="0.8"/><rect x="357.8" y="233.9" width="0.8" height="0.8"/><rect x="357.0" y="235.6" width="0.8" height="0.8"/><rect x="358.2" y="232.8" width="0.8" height="0.8"/><rect x="360.5" y="240.7" width="0.8" height="0.8"/><rect x="357.4" y="236.3" width="0.8" height="0.8"/><rect x="360.3" y="237.6" width="0.8" height="0.8"/><rect x="358.8" y="241.8" width="0.8" height="0.8"/><rect x="362.2" y="241.3" width="0.8" height="0.8"/><rect x="359.9" y="246.5" width="0.8" height="0.8"/><rect x="364.2" y="236.9" width="0.8" height="0.8"/><rect x="360.1" y="243.3" width="0.8" height="0.8"/><rect x="358.6" y="240.1" width="0.8" height="0.8"/><rect x="360.4" y="235.7" width="0.8" height="0.8"/><rect x="359.8" y="232.3" width="0.8" height="0.8"/><rect x="359.1" y="230.6" width="0.8" height="0.8"/><rect x="365.3" y="244.6" width="0.8" height="0.8"/><rect x="363.0" y="239.7" width="0.8" height="0.8"/><rect x="362.5" y="243.6" width="0.8" height="0.8"/><rect x="362.6" y="242.2" width="0.8" height="0.8"/><rect x="358.3" y="240.2" width="0.8" height="0.8"/><rect x="359.1" y="233.8" width="0.8" height="0.8"/><rect x="357.8" y="240.2" width="0.8" height="0.8"/><rect x="362.6" y="233.1" width="0.8" height="0.8"/><rect x="364.2" y="244.4" width="0.8" height="0.8"/><rect x="359.5" y="236.7" width="0.8" height="0.8"/><rect x="360.1" y="242.4" width="0.8" height="0.8"/><rect x="359.5" y="234.1" width="0.8" height="0.8"/><rect x="361.1" y="230.2" width="0.8" height="0.8"/><rect x="360.6" y="243.1" width="0.8" height="0.8"/><rect x="361.0" y="241.6" width="0.8" height="0.8"/><rect x="361.4" y="241.4" width="0.8" height="0.8"/><rect x="360.6" y="235.2" width="0.8" height="0.8"/><rect x="359.8" y="238.2" width="0.8" height="0.8"/><rect x="363.1" y="245.0" width="0.8" height="0.8"/><rect x="361.2" y="235.5" width="0.8" height="0.8"/><rect x="358.7" y="237.7" width="0.8" height="0.8"/><rect x="363.4" y="239.8" width="0.8" height="0.8"/><rect x="360.2" y="235.4" width="0.8" height="0.8"/><rect x="362.2" y="239.7" width="0.8" height="0.8"/><rect x="360.2" y="238.9" width="0.8" height="0.8"/><rect x="364.0" y="237.9" width="0.8" height="0.8"/><rect x="364.0" y="243.5" width="0.8" height="0.8"/><rect x="360.4" y="242.0" width="0.8" height="0.8"/><rect x="360.0" y="235.2" width="0.8" height="0.8"/><rect x="359.7" y="234.9" width="0.8" height="0.8"/><rect x="361.4" y="238.6" width="0.8" height="0.8"/><rect x="361.5" y="241.8" width="0.8" height="0.8"/><rect x="353.4" y="239.7" width="0.8" height="0.8"/><rect x="356.3" y="239.2" width="0.8" height="0.8"/><rect x="358.4" y="238.9" width="0.8" height="0.8"/><rect x="363.3" y="231.7" width="0.8" height="0.8"/><rect x="360.7" y="238.2" width="0.8" height="0.8"/><rect x="356.1" y="241.1" width="0.8" height="0.8"/><rect x="360.4" y="236.5" width="0.8" height="0.8"/><rect x="358.7" y="251.4" width="0.8" height="0.8"/><rect x="359.4" y="231.3" width="0.8" height="0.8"/><rect x="358.3" y="237.0" width="0.8" height="0.8"/><rect x="359.5" y="238.2" width="0.8" height="0.8"/><rect x="358.0" y="240.7" width="0.8" height="0.8"/><rect x="359.2" y="233.1" width="0.8" height="0.8"/><rect x="358.5" y="237.0" width="0.8" height="0.8"/><rect x="362.2" y="240.4" width="0.8" height="0.8"/><rect x="359.6" y="238.6" width="0.8" height="0.8"/><rect x="360.8" y="246.7" width="0.8" height="0.8"/><rect x="358.9" y="240.4" width="0.8" height="0.8"/><rect x="361.9" y="234.7" width="0.8" height="0.8"/><rect x="360.7" y="239.2" width="0.8" height="0.8"/><rect x="359.3" y="240.8" width="0.8" height="0.8"/><rect x="362.6" y="243.0" width="0.8" height="0.8"/><rect x="359.9" y="239.3" width="0.8" height="0.8"/><rect x="365.5" y="234.1" width="0.8" height="0.8"/><rect x="360.8" y="242.1" width="0.8" height="0.8"/><rect x="360.6" y="241.1" width="0.8" height="0.8"/><rect x="360.7" y="241.5" width="0.8" height="0.8"/><rect x="363.1" y="237.6" width="0.8" height="0.8"/><rect x="360.7" y="238.3" width="0.8" height="0.8"/><rect x="359.4" y="238.4" width="0.8" height="0.8"/><rect x="357.8" y="241.5" width="0.8" height="0.8"/><rect x="364.0" y="245.3" width="0.8" height="0.8"/><rect x="363.1" y="234.6" width="0.8" height="0.8"/><rect x="363.6" y="235.6" width="0.8" height="0.8"/><rect x="360.2" y="245.9" width="0.8" height="0.8"/><rect x="357.9" y="241.9" width="0.8" height="0.8"/><rect x="360.9" y="237.9" width="0.8" height="0.8"/><rect x="358.4" y="240.2" width="0.8" height="0.8"/><rect x="359.3" y="242.7" width="0.8" height="0.8"/><rect x="363.0" y="233.0" width="0.8" height="0.8"/><rect x="359.2" y="237.2" width="0.8" height="0.8"/><rect x="357.7" y="234.0" width="0.8" height="0.8"/><rect x="360.5" y="237.7" width="0.8" height="0.8"/><rect x="356.7" y="236.3" width="0.8" height="0.8"/><rect x="361.4" y="233.7" width="0.8" height="0.8"/><rect x="358.3" y="244.9" width="0.8" height="0.8"/><rect x="363.2" y="232.0" width="0.8" height="0.8"/><rect x="357.3" y="240.0" width="0.8" height="0.8"/><rect x="357.7" y="237.5" width="0.8" height="0.8"/><rect x="359.3" y="240.7" width="0.8" height="0.8"/><rect x="354.7" y="229.7" width="0.8" height="0.8"/><rect x="357.6" y="242.6" width="0.8" height="0.8"/><rect x="360.0" y="231.7" width="0.8" height="0.8"/><rect x="361.4" y="241.3" width="0.8" height="0.8"/><rect x="359.8" y="237.2" width="0.8" height="0.8"/><rect x="361.3" y="243.3" width="0.8" height="0.8"/><rect x="360.6" y="240.6" width="0.8" height="0.8"/><rect x="360.2" y="237.0" width="0.8" height="0.8"/><rect x="358.3" y="239.5" width="0.8" height="0.8"/><rect x="359.6" y="237.5" width="0.8" height="0.8"/><rect x="362.3" y="240.5" width="0.8" height="0.8"/><rect x="362.2" y="232.2" width="0.8" height="0.8"/><rect x="361.5" y="236.1" width="0.8" height="0.8"/><rect x="358.5" y="235.1" width="0.8" height="0.8"/><rect x="363.0" y="241.8" width="0.8" height="0.8"/><rect x="358.7" y="233.9" width="0.8" height="0.8"/><rect x="360.3" y="236.7" width="0.8" height="0.8"/><rect x="364.0" y="232.7" width="0.8" height="0.8"/><rect x="356.3" y="237.5" width="0.8" height="0.8"/><rect x="360.3" y="239.0" width="0.8" height="0.8"/><rect x="362.0" y="246.8" width="0.8" height="0.8"/><rect x="359.5" y="236.3" width="0.8" height="0.8"/><rect x="356.4" y="239.5" width="0.8" height="0.8"/><rect x="362.2" y="237.5" width="0.8" height="0.8"/><rect x="362.9" y="238.6" width="0.8" height="0.8"/><rect x="363.6" y="239.8" width="0.8" height="0.8"/><rect x="358.0" y="236.0" width="0.8" height="0.8"/><rect x="356.9" y="231.6" width="0.8" height="0.8"/><rect x="360.9" y="242.0" width="0.8" height="0.8"/><rect x="364.6" y="238.3" width="0.8" height="0.8"/><rect x="359.8" y="234.1" width="0.8" height="0.8"/><rect x="362.5" y="240.1" width="0.8" height="0.8"/><rect x="359.0" y="241.3" width="0.8" height="0.8"/><rect x="361.5" y="231.0" width="0.8" height="0.8"/><rect x="361.9" y="239.0" width="0.8" height="0.8"/><rect x="359.4" y="236.8" width="0.8" height="0.8"/><rect x="364.1" y="244.6" width="0.8" height="0.8"/><rect x="364.3" y="233.9" width="0.8" height="0.8"/><rect x="358.9" y="242.1" width="0.8" height="0.8"/><rect x="357.6" y="235.6" width="0.8" height="0.8"/><rect x="356.3" y="245.9" width="0.8" height="0.8"/><rect x="362.6" y="240.3" width="0.8" height="0.8"/><rect x="360.8" y="236.8" width="0.8" height="0.8"/><rect x="359.4" y="241.0" width="0.8" height="0.8"/><rect x="358.7" y="243.4" width="0.8" height="0.8"/><rect x="359.2" y="235.0" width="0.8" height="0.8"/><rect x="363.2" y="237.9" width="0.8" height="0.8"/><rect x="361.5" y="236.8" width="0.8" height="0.8"/><rect x="355.3" y="240.7" width="0.8" height="0.8"/><rect x="357.3" y="242.8" width="0.8" height="0.8"/><rect x="356.9" y="231.0" width="0.8" height="0.8"/><rect x="361.0" y="240.2" width="0.8" height="0.8"/><rect x="360.5" y="233.6" width="0.8" height="0.8"/><rect x="362.3" y="232.6" width="0.8" height="0.8"/><rect x="359.3" y="235.3" width="0.8" height="0.8"/><rect x="359.5" y="241.9" width="0.8" height="0.8"/><rect x="358.9" y="240.8" width="0.8" height="0.8"/><rect x="361.8" y="231.7" width="0.8" height="0.8"/><rect x="357.7" y="237.0" width="0.8" height="0.8"/><rect x="359.0" y="239.7" width="0.8" height="0.8"/><rect x="356.1" y="241.4" width="0.8" height="0.8"/><rect x="361.9" y="237.8" width="0.8" height="0.8"/><rect x="357.3" y="238.5" width="0.8" height="0.8"/><rect x="359.1" y="240.8" width="0.8" height="0.8"/><rect x="360.1" y="241.4" width="0.8" height="0.8"/><rect x="359.3" y="244.3" width="0.8" height="0.8"/><rect x="355.2" y="234.4" width="0.8" height="0.8"/><rect x="361.4" y="232.5" width="0.8" height="0.8"/><rect x="361.9" y="233.6" width="0.8" height="0.8"/><rect x="360.5" y="234.8" width="0.8" height="0.8"/><rect x="359.3" y="239.2" width="0.8" height="0.8"/><rect x="360.1" y="237.0" width="0.8" height="0.8"/><rect x="365.0" y="238.5" width="0.8" height="0.8"/><rect x="358.2" y="242.2" width="0.8" height="0.8"/><rect x="362.1" y="243.4" width="0.8" height="0.8"/><rect x="364.2" y="234.7" width="0.8" height="0.8"/><rect x="362.6" y="243.1" width="0.8" height="0.8"/><rect x="360.3" y="239.5" width="0.8" height="0.8"/><rect x="353.7" y="236.2" width="0.8" height="0.8"/><rect x="364.2" y="231.4" width="0.8" height="0.8"/><rect x="359.1" y="239.7" width="0.8" height="0.8"/><rect x="361.6" y="245.0" width="0.8" height="0.8"/><rect x="356.4" y="238.7" width="0.8" height="0.8"/></g>
<g fill="#000" fill-opacity="0.6"><rect x="361.4" y="235.2" width="0.8" height="0.8"/><rect x="360.2" y="243.2" width="0.8" height="0.8"/><rect x="362.0" y="239.8" width="0.8" height="0.8"/><rect x="356.9" y="238.2" width="0.8" height="0.8"/><rect x="360.8" y="237.7" width="0.8" height="0.8"/><rect x="360.2" y="246.2" width="0.8" height="0.8"/><rect x="360.0" y="236.1" width="0.8" height="0.8"/><rect x="360.6" y="237.7" width="0.8" height="0.8"/><rect x="359.9" y="238.3" width="0.8" height="0.8"/><rect x="361.3" y="239.1" width="0.8" height="0.8"/><rect x="358.7" y="238.2" width="0.8" height="0.8"/><rect x="360.9" y="237.3" width="0.8" height="0.8"/><rect x="361.8" y="240.4" width="0.8" height="0.8"/><rect x="359.0" y="239.3" width="0.8" height="0.8"/><rect x="362.9" y="242.4" width="0.8" height="0.8"/><rect x="360.2" y="240.7" width="0.8" height="0.8"/><rect x="359.4" y="234.9" width="0.8" height="0.8"/><rect x="361.0" y="239.1" width="0.8" height="0.8"/><rect x="361.0" y="238.4" width="0.8" height="0.8"/><rect x="360.7" y="237.2" width="0.8" height="0.8"/><rect x="360.9" y="240.6" width="0.8" height="0.8"/><rect x="360.2" y="240.5" width="0.8" height="0.8"/><rect x="358.0" y="236.5" width="0.8" height="0.8"/><rect x="362.2" y="242.9" width="0.8" height="0.8"/><rect x="360.6" y="238.2" width="0.8" height="0.8"/><rect x="358.7" y="239.4" width="0.8" height="0.8"/><rect x="361.3" y="234.8" width="0.8" height="0.8"/><rect x="361.0" y="239.7" width="0.8" height="0.8"/><rect x="360.9" y="235.7" width="0.8" height="0.8"/><rect x="361.0" y="234.8" width="0.8" height="0.8"/><rect x="362.2" y="238.8" width="0.8" height="0.8"/><rect x="358.8" y="241.9" width="0.8" height="0.8"/><rect x="361.8" y="236.9" width="0.8" height="0.8"/><rect x="363.2" y="236.0" width="0.8" height="0.8"/><rect x="360.7" y="241.5" width="0.8" height="0.8"/><rect x="357.3" y="241.0" width="0.8" height="0.8"/><rect x="360.2" y="238.5" width="0.8" height="0.8"/><rect x="358.9" y="239.3" width="0.8" height="0.8"/><rect x="358.9" y="236.1" width="0.8" height="0.8"/><rect x="359.7" y="235.4" width="0.8" height="0.8"/><rect x="362.3" y="235.2" width="0.8" height="0.8"/><rect x="359.3" y="237.7" width="0.8" height="0.8"/><rect x="360.3" y="240.5" width="0.8" height="0.8"/><rect x="361.4" y="237.7" width="0.8" height="0.8"/><rect x="359.8" y="238.6" width="0.8" height="0.8"/><rect x="361.4" y="240.2" width="0.8" height="0.8"/><rect x="359.6" y="233.4" width="0.8" height="0.8"/><rect x="363.1" y="240.9" width="0.8" height="0.8"/><rect x="360.6" y="239.4" width="0.8" height="0.8"/><rect x="359.6" y="236.0" width="0.8" height="0.8"/><rect x="359.9" y="237.9" width="0.8" height="0.8"/><rect x="359.5" y="234.9" width="0.8" height="0.8"/><rect x="359.9" y="239.9" width="0.8" height="0.8"/><rect x="359.7" y="238.6" width="0.8" height="0.8"/><rect x="357.6" y="238.0" width="0.8" height="0.8"/><rect x="360.1" y="235.4" width="0.8" height="0.8"/><rect x="358.1" y="239.5" width="0.8" height="0.8"/><rect x="359.2" y="239.7" width="0.8" height="0.8"/><rect x="359.8" y="240.1" width="0.8" height="0.8"/><rect x="359.9" y="234.7" width="0.8" height="0.8"/><rect x="360.2" y="237.7" width="0.8" height="0.8"/><rect x="361.2" y="237.4" width="0.8" height="0.8"/><rect x="359.8" y="240.6" width="0.8" height="0.8"/><rect x="361.8" y="240.4" width="0.8" height="0.8"/><rect x="361.6" y="239.6" width="0.8" height="0.8"/><rect x="361.3" y="240.7" width="0.8" height="0.8"/><rect x="360.8" y="238.7" width="0.8" height="0.8"/><rect x="360.5" y="244.5" width="0.8" height="0.8"/><rect x="360.3" y="237.9" width="0.8" height="0.8"/><rect x="359.8" y="238.4" width="0.8" height="0.8"/><rect x="360.6" y="235.7" width="0.8" height="0.8"/><rect x="357.7" y="239.2" width="0.8" height="0.8"/><rect x="358.2" y="239.1" width="0.8" height="0.8"/><rect x="360.5" y="241.4" width="0.8" height="0.8"/><rect x="362.5" y="239.4" width="0.8" height="0.8"/><rect x="359.6" y="235.6" width="0.8" height="0.8"/><rect x="359.3" y="238.6" width="0.8" height="0.8"/><rect x="357.6" y="238.7" width="0.8" height="0.8"/><rect x="360.3" y="240.1" width="0.8" height="0.8"/><rect x="359.9" y="238.8" width="0.8" height="0.8"/><rect x="359.3" y="237.3" width="0.8" height="0.8"/><rect x="358.0" y="238.8" width="0.8" height="0.8"/><rect x="362.3" y="238.9" width="0.8" height="0.8"/><rect x="360.8" y="236.0" width="0.8" height="0.8"/><rect x="362.2" y="236.6" width="0.8" height="0.8"/><rect x="361.3" y="238.8" width="0.8" height="0.8"/><rect x="359.1" y="241.1" width="0.8" height="0.8"/><rect x="360.3" y="238.9" width="0.8" height="0.8"/><rect x="360.9" y="238.4" width="0.8" height="0.8"/><rect x="359.8" y="239.7" width="0.8" height="0.8"/><rect x="359.8" y="238.7" width="0.8" height="0.8"/><rect x="359.4" y="234.8" width="0.8" height="0.8"/><rect x="359.4" y="237.3" width="0.8" height="0.8"/><rect x="360.3" y="241.5" width="0.8" height="0.8"/><rect x="358.1" y="238.8" width="0.8" height="0.8"/><rect x="357.4" y="235.9" width="0.8" height="0.8"/><rect x="359.6" y="232.9" width="0.8" height="0.8"/><rect x="357.9" y="238.9" width="0.8" height="0.8"/><rect x="360.4" y="238.2" width="0.8" height="0.8"/><rect x="359.3" y="243.9" width="0.8" height="0.8"/><rect x="360.1" y="236.3" width="0.8" height="0.8"/><rect x="362.5" y="240.0" width="0.8" height="0.8"/><rect x="359.8" y="241.5" width="0.8" height="0.8"/><rect x="360.5" y="240.1" width="0.8" height="0.8"/><rect x="360.6" y="235.9" width="0.8" height="0.8"/><rect x="361.6" y="238.9" width="0.8" height="0.8"/><rect x="359.0" y="236.6" width="0.8" height="0.8"/><rect x="361.5" y="237.6" width="0.8" height="0.8"/><rect x="360.4" y="240.1" width="0.8" height="0.8"/><rect x="360.5" y="234.7" width="0.8" height="0.8"/><rect x="361.1" y="240.8" width="0.8" height="0.8"/><rect x="361.4" y="242.5" width="0.8" height="0.8"/><rect x="360.8" y="240.4" width="0.8" height="0.8"/><rect x="362.4" y="237.8" width="0.8" height="0.8"/><rect x="362.6" y="242.8" width="0.8" height="0.8"/><rect x="361.3" y="243.1" width="0.8" height="0.8"/><rect x="361.4" y="236.3" width="0.8" height="0.8"/><rect x="361.8" y="239.3" width="0.8" height="0.8"/><rect x="360.8" y="238.9" width="0.8" height="0.8"/><rect x="362.1" y="239.9" width="0.8" height="0.8"/><rect x="359.4" y="239.7" width="0.8" height="0.8"/><rect x="361.2" y="236.7" width="0.8" height="0.8"/><rect x="359.7" y="237.5" width="0.8" height="0.8"/><rect x="359.5" y="239.4" width="0.8" height="0.8"/><rect x="361.6" y="243.2" width="0.8" height="0.8"/><rect x="361.9" y="241.1" width="0.8" height="0.8"/><rect x="361.8" y="241.8" width="0.8" height="0.8"/><rect x="359.8" y="240.2" width="0.8" height="0.8"/><rect x="360.7" y="238.2" width="0.8" height="0.8"/><rect x="359.7" y="237.2" width="0.8" height="0.8"/><rect x="360.0" y="235.4" width="0.8" height="0.8"/><rect x="361.0" y="238.4" width="0.8" height="0.8"/><rect x="360.4" y="239.3" width="0.8" height="0.8"/><rect x="361.2" y="237.0" width="0.8" height="0.8"/><rect x="360.2" y="234.5" width="0.8" height="0.8"/><rect x="357.4" y="233.6" width="0.8" height="0.8"/><rect x="362.3" y="233.9" width="0.8" height="0.8"/><rect x="360.9" y="242.2" width="0.8" height="0.8"/><rect x="359.7" y="242.6" width="0.8" height="0.8"/><rect x="362.7" y="240.9" width="0.8" height="0.8"/><rect x="363.4" y="240.1" width="0.8" height="0.8"/><rect x="359.4" y="239.8" width="0.8" height="0.8"/><rect x="359.7" y="235.3" width="0.8" height="0.8"/><rect x="358.6" y="244.3" width="0.8" height="0.8"/><rect x="359.6" y="238.5" width="0.8" height="0.8"/><rect x="359.4" y="238.9" width="0.8" height="0.8"/><rect x="360.0" y="237.5" width="0.8" height="0.8"/><rect x="358.7" y="235.0" width="0.8" height="0.8"/><rect x="359.3" y="239.3" width="0.8" height="0.8"/><rect x="363.0" y="241.2" width="0.8" height="0.8"/><rect x="362.7" y="239.7" width="0.8" height="0.8"/><rect x="360.2" y="235.2" width="0.8" height="0.8"/><rect x="360.3" y="233.2" width="0.8" height="0.8"/><rect x="359.9" y="242.6" width="0.8" height="0.8"/><rect x="360.8" y="241.4" width="0.8" height="0.8"/><rect x="359.8" y="235.1" width="0.8" height="0.8"/><rect x="359.7" y="237.6" width="0.8" height="0.8"/><rect x="361.9" y="243.5" width="0.8" height="0.8"/><rect x="359.4" y="237.7" width="0.8" height="0.8"/><rect x="360.1" y="237.7" width="0.8" height="0.8"/><rect x="358.7" y="238.8" width="0.8" height="0.8"/><rect x="360.8" y="239.5" width="0.8" height="0.8"/><rect x="358.8" y="238.3" width="0.8" height="0.8"/><rect x="358.1" y="240.8" width="0.8" height="0.8"/><rect x="359.0" y="237.9" width="0.8" height="0.8"/><rect x="359.8" y="237.1" width="0.8" height="0.8"/><rect x="359.0" y="234.2" width="0.8" height="0.8"/><rect x="362.6" y="239.2" width="0.8" height="0.8"/><rect x="360.7" y="243.8" width="0.8" height="0.8"/><rect x="360.2" y="240.0" width="0.8" height="0.8"/><rect x="360.4" y="241.5" width="0.8" height="0.8"/><rect x="361.0" y="239.4" width="0.8" height="0.8"/><rect x="360.0" y="239.3" width="0.8" height="0.8"/><rect x="361.9" y="233.4" width="0.8" height="0.8"/><rect x="360.2" y="237.5" width="0.8" height="0.8"/><rect x="360.0" y="233.6" width="0.8" height="0.8"/><rect x="361.3" y="236.5" width="0.8" height="0.8"/><rect x="360.0" y="237.3" width="0.8" height="0.8"/><rect x="358.2" y="237.5" width="0.8" height="0.8"/><rect x="357.9" y="236.2" width="0.8" height="0.8"/><rect x="359.9" y="238.6" width="0.8" height="0.8"/><rect x="360.4" y="238.2" width="0.8" height="0.8"/><rect x="363.1" y="239.7" width="0.8" height="0.8"/><rect x="358.8" y="237.1" width="0.8" height="0.8"/><rect x="359.5" y="238.1" width="0.8" height="0.8"/><rect x="359.6" y="236.4" width="0.8" height="0.8"/><rect x="362.5" y="238.7" width="0.8" height="0.8"/><rect x="359.9" y="238.0" width="0.8" height="0.8"/><rect x="360.1" y="242.1" width="0.8" height="0.8"/><rect x="361.0" y="241.4" width="0.8" height="0.8"/><rect x="356.3" y="239.4" width="0.8" height="0.8"/><rect x="361.7" y="243.5" width="0.8" height="0.8"/><rect x="360.4" y="234.3" width="0.8" height="0.8"/><rect x="361.1" y="237.1" width="0.8" height="0.8"/><rect x="358.0" y="237.0" width="0.8" height="0.8"/><rect x="361.7" y="241.6" width="0.8" height="0.8"/><rect x="361.3" y="236.0" width="0.8" height="0.8"/><rect x="363.6" y="235.7" width="0.8" height="0.8"/><rect x="360.2" y="235.0" width="0.8" height="0.8"/><rect x="362.1" y="239.7" width="0.8" height="0.8"/><rect x="361.5" y="238.8" width="0.8" height="0.8"/><rect x="360.3" y="239.0" width="0.8" height="0.8"/><rect x="357.9" y="241.1" width="0.8" height="0.8"/><rect x="361.5" y="237.6" width="0.8" height="0.8"/><rect x="360.3" y="239.3" width="0.8" height="0.8"/><rect x="362.4" y="239.7" width="0.8" height="0.8"/><rect x="360.4" y="237.3" width="0.8" height="0.8"/><rect x="358.4" y="237.1" width="0.8" height="0.8"/><rect x="360.4" y="238.0" width="0.8" height="0.8"/><rect x="360.5" y="240.5" width="0.8" height="0.8"/><rect x="360.9" y="239.3" width="0.8" height="0.8"/><rect x="361.2" y="239.1" width="0.8" height="0.8"/><rect x="360.3" y="239.8" width="0.8" height="0.8"/><rect x="358.1" y="241.7" width="0.8" height="0.8"/><rect x="358.7" y="240.7" width="0.8" height="0.8"/><rect x="360.4" y="241.4" width="0.8" height="0.8"/><rect x="360.4" y="236.3" width="0.8" height="0.8"/><rect x="361.8" y="239.1" width="0.8" height="0.8"/><rect x="360.5" y="238.8" width="0.8" height="0.8"/><rect x="361.7" y="240.7" width="0.8" height="0.8"/><rect x="360.7" y="234.7" width="0.8" height="0.8"/><rect x="359.8" y="238.9" width="0.8" height="0.8"/><rect x="362.7" y="239.6" width="0.8" height="0.8"/><rect x="360.2" y="241.6" width="0.8" height="0.8"/><rect x="360.2" y="238.6" width="0.8" height="0.8"/><rect x="360.6" y="234.9" width="0.8" height="0.8"/><rect x="361.6" y="239.7" width="0.8" height="0.8"/><rect x="360.0" y="235.8" width="0.8" height="0.8"/><rect x="360.6" y="242.1" width="0.8" height="0.8"/><rect x="359.5" y="236.0" width="0.8" height="0.8"/><rect x="360.9" y="234.6" width="0.8" height="0.8"/><rect x="357.5" y="237.5" width="0.8" height="0.8"/><rect x="359.5" y="237.9" width="0.8" height="0.8"/><rect x="359.7" y="239.5" width="0.8" height="0.8"/><rect x="360.1" y="237.1" width="0.8" height="0.8"/><rect x="359.8" y="240.2" width="0.8" height="0.8"/><rect x="361.6" y="240.9" width="0.8" height="0.8"/><rect x="361.3" y="230.4" width="0.8" height="0.8"/><rect x="359.1" y="237.9" width="0.8" height="0.8"/><rect x="360.6" y="234.6" width="0.8" height="0.8"/><rect x="362.2" y="239.4" width="0.8" height="0.8"/><rect x="359.6" y="239.1" width="0.8" height="0.8"/><rect x="359.9" y="236.7" width="0.8" height="0.8"/><rect x="361.0" y="237.5" width="0.8" height="0.8"/><rect x="358.5" y="237.1" width="0.8" height="0.8"/><rect x="360.2" y="236.0" width="0.8" height="0.8"/><rect x="362.0" y="235.9" width="0.8" height="0.8"/><rect x="362.7" y="240.9" width="0.8" height="0.8"/><rect x="359.2" y="239.0" width="0.8" height="0.8"/><rect x="361.9" y="238.2" width="0.8" height="0.8"/><rect x="358.8" y="238.9" width="0.8" height="0.8"/><rect x="363.0" y="234.9" width="0.8" height="0.8"/><rect x="361.1" y="238.7" width="0.8" height="0.8"/><rect x="360.2" y="237.7" width="0.8" height="0.8"/><rect x="360.0" y="241.3" width="0.8" height="0.8"/><rect x="361.2" y="236.2" width="0.8" height="0.8"/><rect x="362.4" y="235.4" width="0.8" height="0.8"/><rect x="361.3" y="239.1" width="0.8" height="0.8"/><rect x="361.9" y="239.6" width="0.8" height="0.8"/><rect x="361.8" y="238.6" width="0.8" height="0.8"/><rect x="361.7" y="239.5" width="0.8" height="0.8"/><rect x="363.2" y="236.9" width="0.8" height="0.8"/><rect x="361.9" y="239.8" width="0.8" height="0.8"/><rect x="360.6" y="237.3" width="0.8" height="0.8"/><rect x="361.0" y="235.0" width="0.8" height="0.8"/><rect x="358.6" y="240.5" width="0.8" height="0.8"/><rect x="358.4" y="242.3" width="0.8" height="0.8"/><rect x="360.0" y="239.3" width="0.8" height="0.8"/><rect x="360.5" y="239.7" width="0.8" height="0.8"/><rect x="360.0" y="237.8" width="0.8" height="0.8"/><rect x="360.2" y="241.3" width="0.8" height="0.8"/><rect x="361.9" y="241.9" width="0.8" height="0.8"/><rect x="360.9" y="238.2" width="0.8" height="0.8"/><rect x="358.2" y="240.3" width="0.8" height="0.8"/><rect x="361.5" y="237.7" width="0.8" height="0.8"/><rect x="361.4" y="241.9" width="0.8" height="0.8"/><rect x="360.5" y="241.3" width="0.8" height="0.8"/><rect x="360.8" y="234.4" width="0.8" height="0.8"/><rect x="359.8" y="237.7" width="0.8" height="0.8"/><rect x="361.1" y="236.5" width="0.8" height="0.8"/><rect x="359.8" y="236.3" width="0.8" height="0.8"/><rect x="360.3" y="238.9" width="0.8" height="0.8"/><rect x="361.7" y="240.7" width="0.8" height="0.8"/><rect x="360.6" y="239.3" width="0.8" height="0.8"/><rect x="360.5" y="239.0" width="0.8" height="0.8"/><rect x="362.4" y="232.5" width="0.8" height="0.8"/><rect x="360.2" y="239.5" width="0.8" height="0.8"/><rect x="361.9" y="236.0" width="0.8" height="0.8"/><rect x="360.9" y="240.8" width="0.8" height="0.8"/><rect x="359.8" y="233.9" width="0.8" height="0.8"/><rect x="359.9" y="235.7" width="0.8" height="0.8"/><rect x="361.2" y="236.6" width="0.8" height="0.8"/><rect x="362.7" y="239.0" width="0.8" height="0.8"/><rect x="359.4" y="237.4" width="0.8" height="0.8"/><rect x="359.0" y="239.7" width="0.8" height="0.8"/><rect x="362.3" y="238.2" width="0.8" height="0.8"/><rect x="361.6" y="236.3" width="0.8" height="0.8"/><rect x="360.8" y="244.5" width="0.8" height="0.8"/><rect x="358.6" y="241.8" width="0.8" height="0.8"/><rect x="361.9" y="234.0" width="0.8" height="0.8"/></g>
<g fill="#000" fill-opacity="0.14"><rect x="355.7" y="198.9" width="0.8" height="0.8"/><rect x="362.4" y="203.8" width="0.8" height="0.8"/><rect x="359.2" y="214.1" width="0.8" height="0.8"/><rect x="360.0" y="209.7" width="0.8" height="0.8"/><rect x="358.8" y="217.8" width="0.8" height="0.8"/><rect x="357.5" y="222.8" width="0.8" height="0.8"/><rect x="358.8" y="200.5" width="0.8" height="0.8"/><rect x="361.5" y="211.7" width="0.8" height="0.8"/><rect x="354.2" y="209.7" width="0.8" height="0.8"/><rect x="355.9" y="200.2" width="0.8" height="0.8"/><rect x="361.9" y="199.9" width="0.8" height="0.8"/><rect x="360.7" y="204.2" width="0.8" height="0.8"/><rect x="365.1" y="206.8" width="0.8" height="0.8"/><rect x="356.4" y="197.7" width="0.8" height="0.8"/><rect x="357.2" y="208.8" width="0.8" height="0.8"/><rect x="359.7" y="216.4" width="0.8" height="0.8"/><rect x="360.2" y="208.8" width="0.8" height="0.8"/><rect x="360.6" y="206.4" width="0.8" height="0.8"/><rect x="360.5" y="214.7" width="0.8" height="0.8"/><rect x="361.9" y="202.7" width="0.8" height="0.8"/><rect x="354.7" y="200.3" width="0.8" height="0.8"/><rect x="360.5" y="185.2" width="0.8" height="0.8"/><rect x="358.3" y="211.6" width="0.8" height="0.8"/><rect x="358.1" y="197.5" width="0.8" height="0.8"/><rect x="364.6" y="220.0" width="0.8" height="0.8"/><rect x="358.9" y="219.5" width="0.8" height="0.8"/><rect x="363.3" y="197.4" width="0.8" height="0.8"/><rect x="367.2" y="199.1" width="0.8" height="0.8"/><rect x="358.9" y="197.7" width="0.8" height="0.8"/><rect x="359.9" y="195.7" width="0.8" height="0.8"/><rect x="359.6" y="217.3" width="0.8" height="0.8"/><rect x="360.3" y="205.1" width="0.8" height="0.8"/><rect x="364.0" y="199.4" width="0.8" height="0.8"/><rect x="362.4" y="204.8" width="0.8" height="0.8"/><rect x="360.3" y="207.8" width="0.8" height="0.8"/><rect x="360.0" y="207.0" width="0.8" height="0.8"/><rect x="357.5" y="202.3" width="0.8" height="0.8"/><rect x="360.9" y="206.5" width="0.8" height="0.8"/><rect x="356.4" y="201.1" width="0.8" height="0.8"/><rect x="357.7" y="206.9" width="0.8" height="0.8"/><rect x="360.1" y="208.2" width="0.8" height="0.8"/><rect x="357.8" y="207.6" width="0.8" height="0.8"/><rect x="355.8" y="181.4" width="0.8" height="0.8"/><rect x="359.5" y="192.5" width="0.8" height="0.8"/><rect x="357.0" y="196.5" width="0.8" height="0.8"/><rect x="361.4" y="196.4" width="0.8" height="0.8"/><rect x="360.4" y="202.9" width="0.8" height="0.8"/><rect x="356.1" y="193.1" width="0.8" height="0.8"/><rect x="360.9" y="210.7" width="0.8" height="0.8"/><rect x="361.7" y="223.7" width="0.8" height="0.8"/><rect x="360.3" y="209.8" width="0.8" height="0.8"/><rect x="359.2" y="208.2" width="0.8" height="0.8"/><rect x="358.6" y="199.1" width="0.8" height="0.8"/><rect x="365.1" y="190.4" width="0.8" height="0.8"/><rect x="360.3" y="211.1" width="0.8" height="0.8"/><rect x="360.0" y="198.5" width="0.8" height="0.8"/><rect x="359.0" y="203.0" width="0.8" height="0.8"/><rect x="356.5" y="206.7" width="0.8" height="0.8"/><rect x="358.4" y="202.1" width="0.8" height="0.8"/><rect x="361.4" y="197.5" width="0.8" height="0.8"/><rect x="360.7" y="201.5" width="0.8" height="0.8"/><rect x="360.7" y="207.6" width="0.8" height="0.8"/><rect x="360.2" y="198.2" width="0.8" height="0.8"/><rect x="357.3" y="199.3" width="0.8" height="0.8"/><rect x="360.0" y="213.7" width="0.8" height="0.8"/><rect x="362.5" y="202.5" width="0.8" height="0.8"/><rect x="359.7" y="192.4" width="0.8" height="0.8"/><rect x="353.3" y="199.2" width="0.8" height="0.8"/><rect x="357.6" y="193.0" width="0.8" height="0.8"/><rect x="354.5" y="211.7" width="0.8" height="0.8"/><rect x="357.2" y="191.8" width="0.8" height="0.8"/><rect x="366.0" y="208.4" width="0.8" height="0.8"/><rect x="358.6" y="213.0" width="0.8" height="0.8"/><rect x="357.3" y="221.1" width="0.8" height="0.8"/><rect x="355.2" y="195.1" width="0.8" height="0.8"/><rect x="359.1" y="200.0" width="0.8" height="0.8"/><rect x="363.4" y="192.4" width="0.8" height="0.8"/><rect x="357.4" y="208.9" width="0.8" height="0.8"/><rect x="361.0" y="215.8" width="0.8" height="0.8"/><rect x="360.4" y="226.5" width="0.8" height="0.8"/><rect x="358.1" y="208.3" width="0.8" height="0.8"/><rect x="361.8" y="203.9" width="0.8" height="0.8"/><rect x="358.6" y="202.5" width="0.8" height="0.8"/><rect x="357.6" y="196.6" width="0.8" height="0.8"/><rect x="357.9" y="192.8" width="0.8" height="0.8"/><rect x="360.5" y="192.4" width="0.8" height="0.8"/><rect x="365.2" y="221.9" width="0.8" height="0.8"/><rect x="362.5" y="204.7" width="0.8" height="0.8"/><rect x="357.7" y="217.6" width="0.8" height="0.8"/><rect x="359.9" y="211.6" width="0.8" height="0.8"/><rect x="357.4" y="216.2" width="0.8" height="0.8"/><rect x="357.1" y="207.6" width="0.8" height="0.8"/><rect x="354.5" y="200.7" width="0.8" height="0.8"/><rect x="360.8" y="202.5" width="0.8" height="0.8"/><rect x="358.1" y="213.6" width="0.8" height="0.8"/><rect x="359.2" y="217.7" width="0.8" height="0.8"/><rect x="352.6" y="211.6" width="0.8" height="0.8"/><rect x="360.8" y="192.7" width="0.8" height="0.8"/><rect x="355.7" y="214.4" width="0.8" height="0.8"/><rect x="356.4" y="200.8" width="0.8" height="0.8"/><rect x="361.0" y="203.6" width="0.8" height="0.8"/><rect x="360.7" y="198.8" width="0.8" height="0.8"/><rect x="360.2" y="216.2" width="0.8" height="0.8"/><rect x="360.3" y="186.9" width="0.8" height="0.8"/><rect x="361.2" y="207.0" width="0.8" height="0.8"/><rect x="356.8" y="219.0" width="0.8" height="0.8"/><rect x="354.5" y="223.3" width="0.8" height="0.8"/><rect x="357.6" y="220.6" width="0.8" height="0.8"/><rect x="359.2" y="194.6" width="0.8" height="0.8"/><rect x="359.6" y="209.5" width="0.8" height="0.8"/><rect x="360.9" y="216.0" width="0.8" height="0.8"/><rect x="356.8" y="210.9" width="0.8" height="0.8"/><rect x="361.4" y="204.1" width="0.8" height="0.8"/><rect x="356.7" y="197.9" width="0.8" height="0.8"/><rect x="361.4" y="213.7" width="0.8" height="0.8"/><rect x="357.0" y="194.5" width="0.8" height="0.8"/><rect x="362.8" y="192.6" width="0.8" height="0.8"/><rect x="359.8" y="199.3" width="0.8" height="0.8"/><rect x="354.5" y="207.6" width="0.8" height="0.8"/><rect x="358.8" y="219.4" width="0.8" height="0.8"/><rect x="365.7" y="204.8" width="0.8" height="0.8"/><rect x="362.2" y="215.9" width="0.8" height="0.8"/><rect x="357.9" y="198.7" width="0.8" height="0.8"/><rect x="363.8" y="203.2" width="0.8" height="0.8"/><rect x="359.3" y="203.9" width="0.8" height="0.8"/><rect x="359.0" y="201.1" width="0.8" height="0.8"/><rect x="361.4" y="217.7" width="0.8" height="0.8"/><rect x="358.3" y="194.1" width="0.8" height="0.8"/><rect x="359.5" y="193.2" width="0.8" height="0.8"/><rect x="357.6" y="217.5" width="0.8" height="0.8"/><rect x="365.8" y="209.9" width="0.8" height="0.8"/><rect x="356.4" y="213.5" width="0.8" height="0.8"/><rect x="353.1" y="200.3" width="0.8" height="0.8"/><rect x="363.6" y="213.2" width="0.8" height="0.8"/><rect x="355.5" y="191.6" width="0.8" height="0.8"/><rect x="361.7" y="206.1" width="0.8" height="0.8"/><rect x="357.7" y="210.2" width="0.8" height="0.8"/><rect x="357.7" y="189.3" width="0.8" height="0.8"/><rect x="361.6" y="200.7" width="0.8" height="0.8"/><rect x="356.5" y="194.6" width="0.8" height="0.8"/><rect x="360.0" y="199.3" width="0.8" height="0.8"/><rect x="361.1" y="204.1" width="0.8" height="0.8"/><rect x="362.4" y="203.0" width="0.8" height="0.8"/><rect x="357.5" y="188.9" width="0.8" height="0.8"/><rect x="356.3" y="212.9" width="0.8" height="0.8"/><rect x="367.9" y="195.3" width="0.8" height="0.8"/><rect x="356.5" y="209.5" width="0.8" height="0.8"/><rect x="360.7" y="200.4" width="0.8" height="0.8"/><rect x="359.6" y="192.1" width="0.8" height="0.8"/><rect x="358.5" y="214.6" width="0.8" height="0.8"/><rect x="363.9" y="205.0" width="0.8" height="0.8"/><rect x="358.6" y="210.6" width="0.8" height="0.8"/><rect x="362.4" y="210.9" width="0.8" height="0.8"/><rect x="357.3" y="209.7" width="0.8" height="0.8"/><rect x="362.0" y="200.1" width="0.8" height="0.8"/><rect x="355.6" y="211.1" width="0.8" height="0.8"/><rect x="360.4" y="215.2" width="0.8" height="0.8"/><rect x="359.6" y="200.7" width="0.8" height="0.8"/><rect x="358.1" y="197.3" width="0.8" height="0.8"/><rect x="356.7" y="201.5" width="0.8" height="0.8"/><rect x="358.0" y="216.5" width="0.8" height="0.8"/><rect x="355.9" y="206.1" width="0.8" height="0.8"/><rect x="357.7" y="219.9" width="0.8" height="0.8"/><rect x="360.1" y="203.2" width="0.8" height="0.8"/><rect x="361.6" y="207.1" width="0.8" height="0.8"/><rect x="358.0" y="220.3" width="0.8" height="0.8"/><rect x="361.3" y="222.0" width="0.8" height="0.8"/><rect x="362.6" y="213.5" width="0.8" height="0.8"/><rect x="359.7" y="196.9" width="0.8" height="0.8"/><rect x="361.3" y="207.2" width="0.8" height="0.8"/><rect x="361.3" y="206.5" width="0.8" height="0.8"/><rect x="357.5" y="197.6" width="0.8" height="0.8"/><rect x="361.3" y="218.2" width="0.8" height="0.8"/><rect x="358.6" y="210.7" width="0.8" height="0.8"/><rect x="363.2" y="199.1" width="0.8" height="0.8"/><rect x="358.4" y="196.6" width="0.8" height="0.8"/><rect x="362.7" y="209.0" width="0.8" height="0.8"/><rect x="358.1" y="191.8" width="0.8" height="0.8"/><rect x="358.9" y="215.5" width="0.8" height="0.8"/><rect x="358.6" y="202.8" width="0.8" height="0.8"/><rect x="361.2" y="195.6" width="0.8" height="0.8"/><rect x="359.5" y="212.0" width="0.8" height="0.8"/><rect x="357.2" y="199.2" width="0.8" height="0.8"/><rect x="360.1" y="205.8" width="0.8" height="0.8"/><rect x="358.7" y="208.5" width="0.8" height="0.8"/><rect x="360.0" y="198.4" width="0.8" height="0.8"/><rect x="357.5" y="210.7" width="0.8" height="0.8"/><rect x="362.5" y="218.8" width="0.8" height="0.8"/><rect x="357.0" y="216.4" width="0.8" height="0.8"/><rect x="361.5" y="206.4" width="0.8" height="0.8"/><rect x="360.8" y="214.1" width="0.8" height="0.8"/><rect x="364.4" y="197.3" width="0.8" height="0.8"/><rect x="361.1" y="205.4" width="0.8" height="0.8"/><rect x="358.8" y="216.9" width="0.8" height="0.8"/><rect x="361.7" y="197.6" width="0.8" height="0.8"/><rect x="358.6" y="208.7" width="0.8" height="0.8"/><rect x="355.5" y="214.4" width="0.8" height="0.8"/><rect x="359.2" y="208.2" width="0.8" height="0.8"/><rect x="360.3" y="222.8" width="0.8" height="0.8"/><rect x="359.5" y="203.5" width="0.8" height="0.8"/><rect x="364.2" y="202.2" width="0.8" height="0.8"/><rect x="358.0" y="194.4" width="0.8" height="0.8"/><rect x="362.4" y="209.1" width="0.8" height="0.8"/><rect x="360.7" y="208.2" width="0.8" height="0.8"/><rect x="359.0" y="199.7" width="0.8" height="0.8"/><rect x="357.3" y="210.6" width="0.8" height="0.8"/><rect x="359.8" y="221.3" width="0.8" height="0.8"/><rect x="357.3" y="202.4" width="0.8" height="0.8"/><rect x="356.6" y="219.0" width="0.8" height="0.8"/><rect x="356.0" y="213.6" width="0.8" height="0.8"/><rect x="363.4" y="205.5" width="0.8" height="0.8"/><rect x="361.4" y="187.8" width="0.8" height="0.8"/><rect x="358.4" y="192.0" width="0.8" height="0.8"/><rect x="359.9" y="206.8" width="0.8" height="0.8"/><rect x="357.3" y="215.2" width="0.8" height="0.8"/><rect x="360.4" y="202.1" width="0.8" height="0.8"/><rect x="358.0" y="193.7" width="0.8" height="0.8"/><rect x="358.9" y="225.6" width="0.8" height="0.8"/><rect x="357.5" y="210.5" width="0.8" height="0.8"/><rect x="357.9" y="213.9" width="0.8" height="0.8"/><rect x="360.6" y="204.7" width="0.8" height="0.8"/><rect x="354.5" y="202.2" width="0.8" height="0.8"/><rect x="362.8" y="204.6" width="0.8" height="0.8"/><rect x="361.2" y="202.5" width="0.8" height="0.8"/><rect x="354.3" y="210.6" width="0.8" height="0.8"/><rect x="360.3" y="201.6" width="0.8" height="0.8"/><rect x="358.4" y="209.4" width="0.8" height="0.8"/><rect x="357.8" y="209.9" width="0.8" height="0.8"/><rect x="358.9" y="185.8" width="0.8" height="0.8"/><rect x="359.0" y="201.5" width="0.8" height="0.8"/><rect x="357.1" y="210.4" width="0.8" height="0.8"/><rect x="358.1" y="211.6" width="0.8" height="0.8"/><rect x="362.5" y="208.1" width="0.8" height="0.8"/><rect x="355.2" y="200.3" width="0.8" height="0.8"/><rect x="362.0" y="204.5" width="0.8" height="0.8"/><rect x="357.2" y="206.0" width="0.8" height="0.8"/><rect x="360.8" y="209.1" width="0.8" height="0.8"/><rect x="361.2" y="199.5" width="0.8" height="0.8"/><rect x="358.7" y="204.6" width="0.8" height="0.8"/><rect x="359.4" y="188.2" width="0.8" height="0.8"/><rect x="358.8" y="194.9" width="0.8" height="0.8"/><rect x="363.3" y="220.7" width="0.8" height="0.8"/><rect x="364.1" y="214.0" width="0.8" height="0.8"/><rect x="358.1" y="215.4" width="0.8" height="0.8"/><rect x="358.9" y="212.3" width="0.8" height="0.8"/><rect x="356.9" y="201.6" width="0.8" height="0.8"/><rect x="360.7" y="222.6" width="0.8" height="0.8"/><rect x="359.4" y="226.9" width="0.8" height="0.8"/><rect x="367.1" y="195.4" width="0.8" height="0.8"/><rect x="359.4" y="198.4" width="0.8" height="0.8"/><rect x="359.1" y="202.1" width="0.8" height="0.8"/><rect x="359.3" y="215.4" width="0.8" height="0.8"/><rect x="362.1" y="209.2" width="0.8" height="0.8"/><rect x="359.5" y="207.9" width="0.8" height="0.8"/><rect x="359.8" y="212.0" width="0.8" height="0.8"/><rect x="359.5" y="211.3" width="0.8" height="0.8"/><rect x="355.8" y="213.9" width="0.8" height="0.8"/><rect x="364.3" y="208.5" width="0.8" height="0.8"/><rect x="355.5" y="218.9" width="0.8" height="0.8"/><rect x="358.5" y="180.3" width="0.8" height="0.8"/><rect x="358.9" y="212.3" width="0.8" height="0.8"/><rect x="360.5" y="217.9" width="0.8" height="0.8"/><rect x="361.2" y="208.0" width="0.8" height="0.8"/><rect x="354.0" y="197.0" width="0.8" height="0.8"/><rect x="360.0" y="212.9" width="0.8" height="0.8"/><rect x="356.6" y="201.4" width="0.8" height="0.8"/><rect x="360.8" y="189.9" width="0.8" height="0.8"/><rect x="354.1" y="204.8" width="0.8" height="0.8"/><rect x="360.2" y="202.6" width="0.8" height="0.8"/><rect x="353.1" y="207.1" width="0.8" height="0.8"/><rect x="355.8" y="212.7" width="0.8" height="0.8"/><rect x="359.2" y="209.2" width="0.8" height="0.8"/><rect x="361.2" y="202.2" width="0.8" height="0.8"/><rect x="361.8" y="218.0" width="0.8" height="0.8"/><rect x="360.6" y="218.7" width="0.8" height="0.8"/><rect x="357.7" y="215.1" width="0.8" height="0.8"/><rect x="360.2" y="198.1" width="0.8" height="0.8"/><rect x="359.2" y="202.2" width="0.8" height="0.8"/><rect x="357.9" y="207.7" width="0.8" height="0.8"/><rect x="362.4" y="204.1" width="0.8" height="0.8"/><rect x="359.8" y="193.8" width="0.8" height="0.8"/><rect x="359.8" y="217.2" width="0.8" height="0.8"/><rect x="361.7" y="211.1" width="0.8" height="0.8"/><rect x="358.0" y="198.2" width="0.8" height="0.8"/><rect x="359.2" y="195.0" width="0.8" height="0.8"/><rect x="356.0" y="215.3" width="0.8" height="0.8"/><rect x="356.9" y="222.9" width="0.8" height="0.8"/><rect x="355.5" y="210.7" width="0.8" height="0.8"/><rect x="356.2" y="208.5" width="0.8" height="0.8"/><rect x="356.6" y="207.3" width="0.8" height="0.8"/><rect x="359.0" y="202.9" width="0.8" height="0.8"/><rect x="360.9" y="220.3" width="0.8" height="0.8"/><rect x="357.8" y="214.8" width="0.8" height="0.8"/><rect x="359.7" y="206.6" width="0.8" height="0.8"/><rect x="365.5" y="187.5" width="0.8" height="0.8"/><rect x="357.6" y="190.8" width="0.8" height="0.8"/><rect x="358.6" y="204.9" width="0.8" height="0.8"/><rect x="370.0" y="210.0" width="0.8" height="0.8"/><rect x="364.4" y="218.5" width="0.8" height="0.8"/><rect x="358.2" y="211.2" width="0.8" height="0.8"/></g>
<rect x="341.6" y="178" width="75.89999999999998" height="75.6" fill="none" stroke="#bdbdbd" stroke-width="1"/>
<line x1="367.8" y1="178" x2="367.8" y2="253.6" stroke="#6a6a6a" stroke-width="0.9" />
<line x1="341.6" y1="228.5" x2="417.5" y2="228.5" stroke="#6a6a6a" stroke-width="0.9" />
<text x="347.8" y="191.5" font-size="7" font-weight="normal" text-anchor="start" fill="#000" class="s">6</text>
<text x="344" y="248.8" font-size="7" font-weight="normal" text-anchor="start" fill="#000" class="s">94</text>
<g fill="#000" fill-opacity="0.32"><rect x="509.6" y="240.9" width="0.8" height="0.8"/><rect x="502.9" y="241.5" width="0.8" height="0.8"/><rect x="495.1" y="239.0" width="0.8" height="0.8"/><rect x="503.5" y="241.6" width="0.8" height="0.8"/><rect x="497.8" y="240.0" width="0.8" height="0.8"/><rect x="501.4" y="240.3" width="0.8" height="0.8"/><rect x="505.1" y="240.8" width="0.8" height="0.8"/><rect x="502.7" y="237.9" width="0.8" height="0.8"/><rect x="497.1" y="241.2" width="0.8" height="0.8"/><rect x="494.7" y="241.1" width="0.8" height="0.8"/><rect x="498.9" y="239.0" width="0.8" height="0.8"/><rect x="504.9" y="239.3" width="0.8" height="0.8"/><rect x="498.0" y="239.3" width="0.8" height="0.8"/><rect x="502.2" y="245.7" width="0.8" height="0.8"/><rect x="492.3" y="240.5" width="0.8" height="0.8"/><rect x="500.8" y="242.4" width="0.8" height="0.8"/><rect x="500.2" y="235.9" width="0.8" height="0.8"/><rect x="508.0" y="238.5" width="0.8" height="0.8"/><rect x="501.6" y="238.0" width="0.8" height="0.8"/><rect x="496.9" y="239.6" width="0.8" height="0.8"/><rect x="505.8" y="242.1" width="0.8" height="0.8"/><rect x="499.2" y="241.5" width="0.8" height="0.8"/><rect x="500.2" y="240.8" width="0.8" height="0.8"/><rect x="502.6" y="241.7" width="0.8" height="0.8"/><rect x="499.1" y="240.3" width="0.8" height="0.8"/><rect x="502.9" y="240.7" width="0.8" height="0.8"/><rect x="498.2" y="243.8" width="0.8" height="0.8"/><rect x="499.8" y="242.0" width="0.8" height="0.8"/><rect x="502.8" y="242.9" width="0.8" height="0.8"/><rect x="491.9" y="244.4" width="0.8" height="0.8"/><rect x="500.9" y="238.2" width="0.8" height="0.8"/><rect x="502.5" y="244.8" width="0.8" height="0.8"/><rect x="504.2" y="238.2" width="0.8" height="0.8"/><rect x="499.8" y="243.1" width="0.8" height="0.8"/><rect x="495.4" y="240.2" width="0.8" height="0.8"/><rect x="500.5" y="244.6" width="0.8" height="0.8"/><rect x="500.5" y="243.0" width="0.8" height="0.8"/><rect x="498.8" y="239.0" width="0.8" height="0.8"/><rect x="506.5" y="241.7" width="0.8" height="0.8"/><rect x="494.0" y="241.8" width="0.8" height="0.8"/><rect x="504.8" y="239.4" width="0.8" height="0.8"/><rect x="502.9" y="241.0" width="0.8" height="0.8"/><rect x="499.6" y="239.4" width="0.8" height="0.8"/><rect x="498.8" y="240.0" width="0.8" height="0.8"/><rect x="495.8" y="240.5" width="0.8" height="0.8"/><rect x="495.0" y="240.7" width="0.8" height="0.8"/><rect x="501.5" y="238.6" width="0.8" height="0.8"/><rect x="505.7" y="244.2" width="0.8" height="0.8"/><rect x="507.9" y="238.0" width="0.8" height="0.8"/><rect x="507.7" y="240.9" width="0.8" height="0.8"/><rect x="501.6" y="239.4" width="0.8" height="0.8"/><rect x="501.8" y="243.2" width="0.8" height="0.8"/><rect x="504.3" y="239.8" width="0.8" height="0.8"/><rect x="498.8" y="239.8" width="0.8" height="0.8"/><rect x="504.5" y="244.1" width="0.8" height="0.8"/><rect x="497.0" y="240.5" width="0.8" height="0.8"/><rect x="500.1" y="239.1" width="0.8" height="0.8"/><rect x="503.7" y="241.6" width="0.8" height="0.8"/><rect x="495.4" y="238.6" width="0.8" height="0.8"/><rect x="507.3" y="241.1" width="0.8" height="0.8"/><rect x="504.2" y="239.6" width="0.8" height="0.8"/><rect x="500.1" y="241.4" width="0.8" height="0.8"/><rect x="499.6" y="238.4" width="0.8" height="0.8"/><rect x="501.8" y="242.2" width="0.8" height="0.8"/><rect x="497.1" y="242.5" width="0.8" height="0.8"/><rect x="505.0" y="238.9" width="0.8" height="0.8"/><rect x="501.9" y="240.5" width="0.8" height="0.8"/><rect x="504.7" y="241.8" width="0.8" height="0.8"/><rect x="495.9" y="238.0" width="0.8" height="0.8"/><rect x="506.5" y="240.7" width="0.8" height="0.8"/><rect x="503.7" y="241.2" width="0.8" height="0.8"/><rect x="508.8" y="238.3" width="0.8" height="0.8"/><rect x="506.8" y="239.0" width="0.8" height="0.8"/><rect x="505.2" y="243.1" width="0.8" height="0.8"/><rect x="495.5" y="241.3" width="0.8" height="0.8"/><rect x="500.6" y="240.0" width="0.8" height="0.8"/><rect x="502.0" y="238.6" width="0.8" height="0.8"/><rect x="497.5" y="241.8" width="0.8" height="0.8"/><rect x="505.7" y="239.5" width="0.8" height="0.8"/><rect x="495.2" y="244.9" width="0.8" height="0.8"/><rect x="506.8" y="241.2" width="0.8" height="0.8"/><rect x="497.2" y="239.4" width="0.8" height="0.8"/><rect x="502.9" y="238.7" width="0.8" height="0.8"/><rect x="509.1" y="240.8" width="0.8" height="0.8"/><rect x="503.6" y="238.6" width="0.8" height="0.8"/><rect x="497.7" y="239.1" width="0.8" height="0.8"/><rect x="503.1" y="240.0" width="0.8" height="0.8"/><rect x="500.5" y="241.1" width="0.8" height="0.8"/><rect x="502.9" y="243.3" width="0.8" height="0.8"/><rect x="501.0" y="238.6" width="0.8" height="0.8"/><rect x="501.8" y="243.3" width="0.8" height="0.8"/><rect x="499.3" y="240.6" width="0.8" height="0.8"/><rect x="500.2" y="241.3" width="0.8" height="0.8"/><rect x="503.0" y="239.0" width="0.8" height="0.8"/><rect x="500.8" y="242.3" width="0.8" height="0.8"/><rect x="506.8" y="242.3" width="0.8" height="0.8"/><rect x="505.8" y="239.9" width="0.8" height="0.8"/><rect x="500.2" y="242.3" width="0.8" height="0.8"/><rect x="496.5" y="240.4" width="0.8" height="0.8"/><rect x="493.4" y="239.8" width="0.8" height="0.8"/><rect x="498.7" y="238.3" width="0.8" height="0.8"/><rect x="504.5" y="239.2" width="0.8" height="0.8"/><rect x="500.2" y="240.1" width="0.8" height="0.8"/><rect x="498.5" y="243.2" width="0.8" height="0.8"/><rect x="499.6" y="240.9" width="0.8" height="0.8"/><rect x="495.9" y="239.7" width="0.8" height="0.8"/><rect x="500.4" y="240.0" width="0.8" height="0.8"/><rect x="499.2" y="240.8" width="0.8" height="0.8"/><rect x="508.9" y="240.3" width="0.8" height="0.8"/><rect x="501.2" y="239.8" width="0.8" height="0.8"/><rect x="513.3" y="243.5" width="0.8" height="0.8"/><rect x="504.4" y="241.9" width="0.8" height="0.8"/><rect x="498.6" y="240.3" width="0.8" height="0.8"/><rect x="502.8" y="240.8" width="0.8" height="0.8"/><rect x="498.0" y="239.1" width="0.8" height="0.8"/><rect x="504.2" y="241.1" width="0.8" height="0.8"/><rect x="492.3" y="240.7" width="0.8" height="0.8"/><rect x="507.6" y="239.3" width="0.8" height="0.8"/><rect x="502.9" y="237.8" width="0.8" height="0.8"/><rect x="505.6" y="238.5" width="0.8" height="0.8"/><rect x="496.2" y="240.0" width="0.8" height="0.8"/><rect x="512.6" y="239.4" width="0.8" height="0.8"/><rect x="496.2" y="241.4" width="0.8" height="0.8"/><rect x="502.9" y="243.6" width="0.8" height="0.8"/><rect x="496.1" y="237.6" width="0.8" height="0.8"/><rect x="500.4" y="241.2" width="0.8" height="0.8"/><rect x="503.5" y="242.6" width="0.8" height="0.8"/><rect x="495.1" y="239.0" width="0.8" height="0.8"/><rect x="501.3" y="242.1" width="0.8" height="0.8"/><rect x="504.0" y="239.8" width="0.8" height="0.8"/><rect x="497.3" y="242.2" width="0.8" height="0.8"/><rect x="506.1" y="245.6" width="0.8" height="0.8"/><rect x="501.1" y="243.6" width="0.8" height="0.8"/><rect x="496.4" y="239.5" width="0.8" height="0.8"/><rect x="498.8" y="239.7" width="0.8" height="0.8"/><rect x="497.9" y="239.5" width="0.8" height="0.8"/><rect x="501.6" y="239.7" width="0.8" height="0.8"/><rect x="504.8" y="240.4" width="0.8" height="0.8"/><rect x="501.9" y="243.3" width="0.8" height="0.8"/><rect x="503.3" y="240.8" width="0.8" height="0.8"/><rect x="501.8" y="240.7" width="0.8" height="0.8"/><rect x="504.4" y="239.1" width="0.8" height="0.8"/><rect x="507.0" y="243.5" width="0.8" height="0.8"/><rect x="507.1" y="239.6" width="0.8" height="0.8"/><rect x="494.7" y="239.7" width="0.8" height="0.8"/><rect x="502.6" y="242.1" width="0.8" height="0.8"/><rect x="501.0" y="240.0" width="0.8" height="0.8"/><rect x="508.7" y="239.3" width="0.8" height="0.8"/><rect x="506.7" y="242.2" width="0.8" height="0.8"/><rect x="495.9" y="241.1" width="0.8" height="0.8"/><rect x="499.4" y="238.8" width="0.8" height="0.8"/><rect x="493.5" y="237.6" width="0.8" height="0.8"/><rect x="503.7" y="239.8" width="0.8" height="0.8"/><rect x="503.1" y="238.6" width="0.8" height="0.8"/><rect x="500.4" y="240.0" width="0.8" height="0.8"/><rect x="494.9" y="237.5" width="0.8" height="0.8"/><rect x="503.9" y="240.8" width="0.8" height="0.8"/><rect x="497.7" y="240.4" width="0.8" height="0.8"/><rect x="504.9" y="244.0" width="0.8" height="0.8"/><rect x="497.9" y="241.7" width="0.8" height="0.8"/><rect x="511.4" y="240.7" width="0.8" height="0.8"/><rect x="508.5" y="235.7" width="0.8" height="0.8"/><rect x="508.4" y="240.5" width="0.8" height="0.8"/><rect x="493.4" y="242.0" width="0.8" height="0.8"/><rect x="506.6" y="242.8" width="0.8" height="0.8"/><rect x="507.3" y="240.5" width="0.8" height="0.8"/><rect x="498.5" y="239.7" width="0.8" height="0.8"/><rect x="501.7" y="241.3" width="0.8" height="0.8"/><rect x="499.7" y="240.6" width="0.8" height="0.8"/><rect x="505.8" y="241.2" width="0.8" height="0.8"/><rect x="512.2" y="244.6" width="0.8" height="0.8"/><rect x="496.7" y="239.5" width="0.8" height="0.8"/><rect x="496.0" y="238.4" width="0.8" height="0.8"/><rect x="504.3" y="238.7" width="0.8" height="0.8"/><rect x="497.1" y="240.0" width="0.8" height="0.8"/><rect x="505.5" y="239.9" width="0.8" height="0.8"/><rect x="500.3" y="242.3" width="0.8" height="0.8"/><rect x="504.0" y="241.4" width="0.8" height="0.8"/><rect x="506.1" y="238.7" width="0.8" height="0.8"/><rect x="502.8" y="239.4" width="0.8" height="0.8"/><rect x="506.5" y="242.1" width="0.8" height="0.8"/><rect x="497.1" y="243.0" width="0.8" height="0.8"/><rect x="496.6" y="242.7" width="0.8" height="0.8"/><rect x="502.8" y="238.9" width="0.8" height="0.8"/><rect x="496.8" y="240.0" width="0.8" height="0.8"/><rect x="501.8" y="239.2" width="0.8" height="0.8"/><rect x="504.4" y="237.9" width="0.8" height="0.8"/><rect x="501.8" y="240.5" width="0.8" height="0.8"/><rect x="493.4" y="241.1" width="0.8" height="0.8"/><rect x="496.1" y="235.9" width="0.8" height="0.8"/><rect x="499.1" y="240.1" width="0.8" height="0.8"/><rect x="506.0" y="239.6" width="0.8" height="0.8"/><rect x="508.5" y="243.2" width="0.8" height="0.8"/><rect x="506.8" y="243.0" width="0.8" height="0.8"/><rect x="503.4" y="239.5" width="0.8" height="0.8"/><rect x="504.8" y="242.4" width="0.8" height="0.8"/><rect x="502.9" y="240.1" width="0.8" height="0.8"/><rect x="494.8" y="241.8" width="0.8" height="0.8"/><rect x="503.5" y="238.1" width="0.8" height="0.8"/><rect x="502.3" y="241.9" width="0.8" height="0.8"/><rect x="501.4" y="242.0" width="0.8" height="0.8"/><rect x="505.3" y="237.8" width="0.8" height="0.8"/><rect x="500.5" y="241.5" width="0.8" height="0.8"/><rect x="506.0" y="243.2" width="0.8" height="0.8"/><rect x="493.2" y="240.4" width="0.8" height="0.8"/><rect x="505.1" y="242.8" width="0.8" height="0.8"/><rect x="509.5" y="238.8" width="0.8" height="0.8"/><rect x="500.2" y="238.6" width="0.8" height="0.8"/><rect x="505.6" y="238.1" width="0.8" height="0.8"/><rect x="507.2" y="242.3" width="0.8" height="0.8"/><rect x="504.1" y="236.5" width="0.8" height="0.8"/><rect x="498.8" y="241.9" width="0.8" height="0.8"/><rect x="495.4" y="240.1" width="0.8" height="0.8"/><rect x="501.4" y="242.2" width="0.8" height="0.8"/><rect x="503.1" y="241.1" width="0.8" height="0.8"/><rect x="499.9" y="240.6" width="0.8" height="0.8"/><rect x="501.2" y="241.9" width="0.8" height="0.8"/><rect x="501.0" y="242.5" width="0.8" height="0.8"/><rect x="494.1" y="242.8" width="0.8" height="0.8"/><rect x="501.1" y="242.7" width="0.8" height="0.8"/><rect x="502.2" y="242.1" width="0.8" height="0.8"/><rect x="508.6" y="239.5" width="0.8" height="0.8"/><rect x="502.2" y="240.2" width="0.8" height="0.8"/><rect x="502.8" y="237.5" width="0.8" height="0.8"/><rect x="501.1" y="240.1" width="0.8" height="0.8"/><rect x="498.3" y="240.2" width="0.8" height="0.8"/><rect x="494.8" y="243.2" width="0.8" height="0.8"/><rect x="503.9" y="244.1" width="0.8" height="0.8"/><rect x="497.9" y="238.3" width="0.8" height="0.8"/><rect x="503.1" y="237.4" width="0.8" height="0.8"/><rect x="502.9" y="239.2" width="0.8" height="0.8"/><rect x="500.3" y="241.0" width="0.8" height="0.8"/><rect x="502.1" y="244.0" width="0.8" height="0.8"/><rect x="504.7" y="238.1" width="0.8" height="0.8"/><rect x="506.3" y="238.0" width="0.8" height="0.8"/><rect x="502.2" y="238.2" width="0.8" height="0.8"/><rect x="498.1" y="243.0" width="0.8" height="0.8"/><rect x="499.3" y="239.3" width="0.8" height="0.8"/><rect x="499.3" y="239.9" width="0.8" height="0.8"/><rect x="508.4" y="238.3" width="0.8" height="0.8"/><rect x="496.2" y="241.6" width="0.8" height="0.8"/><rect x="494.6" y="239.8" width="0.8" height="0.8"/><rect x="507.0" y="240.5" width="0.8" height="0.8"/><rect x="499.6" y="239.2" width="0.8" height="0.8"/><rect x="497.7" y="239.4" width="0.8" height="0.8"/><rect x="502.4" y="242.9" width="0.8" height="0.8"/><rect x="506.2" y="239.5" width="0.8" height="0.8"/><rect x="498.5" y="241.8" width="0.8" height="0.8"/><rect x="493.5" y="239.7" width="0.8" height="0.8"/><rect x="500.3" y="238.4" width="0.8" height="0.8"/><rect x="497.3" y="241.2" width="0.8" height="0.8"/><rect x="494.3" y="238.8" width="0.8" height="0.8"/><rect x="498.8" y="240.7" width="0.8" height="0.8"/><rect x="495.5" y="242.5" width="0.8" height="0.8"/><rect x="500.4" y="240.0" width="0.8" height="0.8"/><rect x="500.1" y="239.2" width="0.8" height="0.8"/><rect x="497.3" y="242.6" width="0.8" height="0.8"/><rect x="502.7" y="240.3" width="0.8" height="0.8"/><rect x="506.2" y="239.1" width="0.8" height="0.8"/><rect x="504.6" y="240.5" width="0.8" height="0.8"/><rect x="497.7" y="241.9" width="0.8" height="0.8"/><rect x="494.9" y="241.7" width="0.8" height="0.8"/><rect x="497.7" y="241.2" width="0.8" height="0.8"/><rect x="507.9" y="241.5" width="0.8" height="0.8"/><rect x="499.0" y="240.4" width="0.8" height="0.8"/><rect x="500.0" y="238.3" width="0.8" height="0.8"/><rect x="496.7" y="240.5" width="0.8" height="0.8"/><rect x="504.1" y="237.2" width="0.8" height="0.8"/><rect x="501.3" y="241.4" width="0.8" height="0.8"/><rect x="502.1" y="238.6" width="0.8" height="0.8"/><rect x="506.3" y="238.2" width="0.8" height="0.8"/><rect x="504.6" y="243.4" width="0.8" height="0.8"/><rect x="492.4" y="240.9" width="0.8" height="0.8"/><rect x="503.0" y="240.9" width="0.8" height="0.8"/><rect x="498.1" y="239.9" width="0.8" height="0.8"/><rect x="495.3" y="240.7" width="0.8" height="0.8"/><rect x="504.0" y="239.2" width="0.8" height="0.8"/><rect x="497.4" y="239.5" width="0.8" height="0.8"/><rect x="501.5" y="240.5" width="0.8" height="0.8"/><rect x="501.1" y="240.6" width="0.8" height="0.8"/><rect x="495.7" y="235.3" width="0.8" height="0.8"/><rect x="504.4" y="243.1" width="0.8" height="0.8"/><rect x="495.2" y="239.2" width="0.8" height="0.8"/><rect x="502.9" y="242.2" width="0.8" height="0.8"/><rect x="504.5" y="242.8" width="0.8" height="0.8"/><rect x="501.3" y="241.2" width="0.8" height="0.8"/><rect x="503.4" y="239.6" width="0.8" height="0.8"/><rect x="507.0" y="241.6" width="0.8" height="0.8"/><rect x="506.0" y="239.7" width="0.8" height="0.8"/><rect x="506.2" y="238.5" width="0.8" height="0.8"/><rect x="503.3" y="235.5" width="0.8" height="0.8"/><rect x="497.0" y="241.8" width="0.8" height="0.8"/><rect x="499.5" y="240.7" width="0.8" height="0.8"/><rect x="494.2" y="243.3" width="0.8" height="0.8"/><rect x="504.2" y="240.4" width="0.8" height="0.8"/><rect x="503.4" y="241.0" width="0.8" height="0.8"/><rect x="507.9" y="240.8" width="0.8" height="0.8"/><rect x="494.9" y="239.9" width="0.8" height="0.8"/><rect x="507.3" y="241.5" width="0.8" height="0.8"/><rect x="499.6" y="241.5" width="0.8" height="0.8"/><rect x="502.1" y="241.5" width="0.8" height="0.8"/><rect x="494.4" y="238.7" width="0.8" height="0.8"/><rect x="504.5" y="240.0" width="0.8" height="0.8"/><rect x="503.1" y="244.1" width="0.8" height="0.8"/><rect x="500.1" y="240.9" width="0.8" height="0.8"/><rect x="499.0" y="239.2" width="0.8" height="0.8"/><rect x="501.2" y="237.7" width="0.8" height="0.8"/><rect x="492.1" y="242.9" width="0.8" height="0.8"/><rect x="501.1" y="242.5" width="0.8" height="0.8"/><rect x="502.1" y="240.7" width="0.8" height="0.8"/><rect x="504.6" y="241.7" width="0.8" height="0.8"/><rect x="496.1" y="242.7" width="0.8" height="0.8"/><rect x="497.2" y="240.8" width="0.8" height="0.8"/><rect x="513.0" y="240.6" width="0.8" height="0.8"/><rect x="509.0" y="239.8" width="0.8" height="0.8"/><rect x="504.3" y="240.5" width="0.8" height="0.8"/><rect x="503.4" y="238.8" width="0.8" height="0.8"/><rect x="497.4" y="241.0" width="0.8" height="0.8"/><rect x="494.5" y="238.8" width="0.8" height="0.8"/><rect x="504.4" y="239.3" width="0.8" height="0.8"/><rect x="497.6" y="238.4" width="0.8" height="0.8"/><rect x="502.2" y="239.7" width="0.8" height="0.8"/><rect x="502.2" y="240.1" width="0.8" height="0.8"/><rect x="509.9" y="239.6" width="0.8" height="0.8"/><rect x="492.8" y="240.6" width="0.8" height="0.8"/><rect x="501.6" y="240.7" width="0.8" height="0.8"/><rect x="494.3" y="242.5" width="0.8" height="0.8"/><rect x="501.4" y="240.3" width="0.8" height="0.8"/><rect x="494.4" y="241.3" width="0.8" height="0.8"/><rect x="501.3" y="242.9" width="0.8" height="0.8"/><rect x="499.7" y="238.1" width="0.8" height="0.8"/><rect x="502.1" y="238.7" width="0.8" height="0.8"/><rect x="503.4" y="238.4" width="0.8" height="0.8"/><rect x="501.0" y="240.0" width="0.8" height="0.8"/><rect x="501.4" y="239.5" width="0.8" height="0.8"/><rect x="497.9" y="240.3" width="0.8" height="0.8"/><rect x="499.0" y="240.7" width="0.8" height="0.8"/><rect x="500.3" y="236.3" width="0.8" height="0.8"/><rect x="501.3" y="243.0" width="0.8" height="0.8"/><rect x="502.9" y="241.5" width="0.8" height="0.8"/><rect x="503.6" y="239.5" width="0.8" height="0.8"/><rect x="495.6" y="241.9" width="0.8" height="0.8"/><rect x="506.3" y="241.5" width="0.8" height="0.8"/><rect x="503.4" y="241.1" width="0.8" height="0.8"/><rect x="501.4" y="240.9" width="0.8" height="0.8"/><rect x="501.6" y="241.0" width="0.8" height="0.8"/><rect x="497.3" y="239.3" width="0.8" height="0.8"/><rect x="504.1" y="239.8" width="0.8" height="0.8"/><rect x="490.8" y="240.6" width="0.8" height="0.8"/><rect x="491.4" y="243.9" width="0.8" height="0.8"/><rect x="504.8" y="241.6" width="0.8" height="0.8"/><rect x="498.6" y="238.4" width="0.8" height="0.8"/><rect x="500.6" y="240.5" width="0.8" height="0.8"/><rect x="498.1" y="240.7" width="0.8" height="0.8"/><rect x="504.6" y="241.5" width="0.8" height="0.8"/><rect x="497.0" y="236.5" width="0.8" height="0.8"/><rect x="501.6" y="239.2" width="0.8" height="0.8"/><rect x="503.5" y="243.4" width="0.8" height="0.8"/><rect x="508.8" y="240.9" width="0.8" height="0.8"/><rect x="506.5" y="243.4" width="0.8" height="0.8"/><rect x="501.8" y="240.9" width="0.8" height="0.8"/><rect x="505.4" y="240.4" width="0.8" height="0.8"/><rect x="499.4" y="239.1" width="0.8" height="0.8"/><rect x="501.6" y="239.3" width="0.8" height="0.8"/><rect x="505.1" y="239.8" width="0.8" height="0.8"/><rect x="508.1" y="242.6" width="0.8" height="0.8"/><rect x="496.2" y="242.4" width="0.8" height="0.8"/><rect x="499.8" y="242.9" width="0.8" height="0.8"/><rect x="503.9" y="240.4" width="0.8" height="0.8"/><rect x="504.6" y="239.4" width="0.8" height="0.8"/><rect x="503.1" y="241.2" width="0.8" height="0.8"/><rect x="501.0" y="241.2" width="0.8" height="0.8"/><rect x="497.3" y="241.5" width="0.8" height="0.8"/><rect x="496.3" y="241.6" width="0.8" height="0.8"/><rect x="503.7" y="241.7" width="0.8" height="0.8"/><rect x="499.2" y="246.0" width="0.8" height="0.8"/><rect x="500.7" y="240.7" width="0.8" height="0.8"/><rect x="498.4" y="243.1" width="0.8" height="0.8"/><rect x="499.6" y="242.3" width="0.8" height="0.8"/><rect x="497.6" y="241.0" width="0.8" height="0.8"/><rect x="500.1" y="242.2" width="0.8" height="0.8"/><rect x="500.5" y="238.9" width="0.8" height="0.8"/><rect x="503.7" y="238.3" width="0.8" height="0.8"/><rect x="497.6" y="241.9" width="0.8" height="0.8"/><rect x="493.6" y="241.9" width="0.8" height="0.8"/><rect x="500.0" y="238.8" width="0.8" height="0.8"/><rect x="502.8" y="241.6" width="0.8" height="0.8"/><rect x="499.2" y="240.2" width="0.8" height="0.8"/><rect x="505.3" y="241.9" width="0.8" height="0.8"/><rect x="501.6" y="239.1" width="0.8" height="0.8"/><rect x="497.7" y="239.4" width="0.8" height="0.8"/><rect x="504.8" y="241.6" width="0.8" height="0.8"/><rect x="503.1" y="243.0" width="0.8" height="0.8"/><rect x="500.5" y="239.8" width="0.8" height="0.8"/><rect x="500.1" y="244.0" width="0.8" height="0.8"/><rect x="492.9" y="241.1" width="0.8" height="0.8"/><rect x="503.8" y="240.6" width="0.8" height="0.8"/><rect x="512.0" y="242.6" width="0.8" height="0.8"/><rect x="505.2" y="238.9" width="0.8" height="0.8"/><rect x="504.0" y="239.9" width="0.8" height="0.8"/><rect x="502.1" y="240.9" width="0.8" height="0.8"/><rect x="499.8" y="241.7" width="0.8" height="0.8"/><rect x="509.0" y="242.4" width="0.8" height="0.8"/><rect x="502.8" y="237.1" width="0.8" height="0.8"/><rect x="506.6" y="242.5" width="0.8" height="0.8"/><rect x="501.1" y="239.7" width="0.8" height="0.8"/><rect x="504.8" y="239.1" width="0.8" height="0.8"/><rect x="505.4" y="238.6" width="0.8" height="0.8"/><rect x="497.9" y="240.6" width="0.8" height="0.8"/><rect x="495.6" y="240.6" width="0.8" height="0.8"/><rect x="504.2" y="238.2" width="0.8" height="0.8"/><rect x="505.9" y="239.6" width="0.8" height="0.8"/><rect x="504.3" y="241.0" width="0.8" height="0.8"/><rect x="500.0" y="239.6" width="0.8" height="0.8"/><rect x="494.6" y="239.3" width="0.8" height="0.8"/><rect x="498.6" y="243.5" width="0.8" height="0.8"/><rect x="506.4" y="238.1" width="0.8" height="0.8"/><rect x="505.4" y="241.0" width="0.8" height="0.8"/><rect x="500.3" y="241.4" width="0.8" height="0.8"/><rect x="505.4" y="239.6" width="0.8" height="0.8"/><rect x="500.8" y="240.9" width="0.8" height="0.8"/><rect x="497.7" y="240.9" width="0.8" height="0.8"/><rect x="501.6" y="239.4" width="0.8" height="0.8"/><rect x="498.3" y="241.1" width="0.8" height="0.8"/><rect x="505.8" y="241.2" width="0.8" height="0.8"/><rect x="498.3" y="241.9" width="0.8" height="0.8"/><rect x="502.7" y="241.6" width="0.8" height="0.8"/><rect x="507.0" y="239.0" width="0.8" height="0.8"/><rect x="501.4" y="239.5" width="0.8" height="0.8"/><rect x="498.2" y="244.2" width="0.8" height="0.8"/><rect x="506.0" y="237.5" width="0.8" height="0.8"/><rect x="503.8" y="239.6" width="0.8" height="0.8"/><rect x="506.9" y="240.7" width="0.8" height="0.8"/><rect x="501.2" y="240.8" width="0.8" height="0.8"/><rect x="503.6" y="240.6" width="0.8" height="0.8"/><rect x="501.0" y="240.4" width="0.8" height="0.8"/><rect x="504.2" y="238.6" width="0.8" height="0.8"/><rect x="502.0" y="240.4" width="0.8" height="0.8"/><rect x="499.9" y="241.9" width="0.8" height="0.8"/><rect x="496.4" y="239.9" width="0.8" height="0.8"/><rect x="498.3" y="241.6" width="0.8" height="0.8"/><rect x="500.0" y="240.7" width="0.8" height="0.8"/><rect x="503.6" y="237.8" width="0.8" height="0.8"/><rect x="503.9" y="239.3" width="0.8" height="0.8"/><rect x="500.9" y="240.4" width="0.8" height="0.8"/><rect x="505.5" y="241.9" width="0.8" height="0.8"/><rect x="509.6" y="240.9" width="0.8" height="0.8"/><rect x="500.0" y="239.7" width="0.8" height="0.8"/><rect x="504.8" y="243.4" width="0.8" height="0.8"/><rect x="503.5" y="239.6" width="0.8" height="0.8"/><rect x="503.2" y="241.1" width="0.8" height="0.8"/><rect x="502.1" y="239.3" width="0.8" height="0.8"/><rect x="491.1" y="239.6" width="0.8" height="0.8"/><rect x="506.5" y="241.0" width="0.8" height="0.8"/><rect x="492.5" y="240.6" width="0.8" height="0.8"/><rect x="494.1" y="244.1" width="0.8" height="0.8"/><rect x="502.8" y="238.5" width="0.8" height="0.8"/><rect x="505.4" y="239.2" width="0.8" height="0.8"/><rect x="504.4" y="240.6" width="0.8" height="0.8"/><rect x="496.9" y="241.8" width="0.8" height="0.8"/><rect x="496.2" y="243.0" width="0.8" height="0.8"/><rect x="502.3" y="238.8" width="0.8" height="0.8"/><rect x="494.2" y="243.5" width="0.8" height="0.8"/><rect x="508.2" y="238.4" width="0.8" height="0.8"/><rect x="509.1" y="240.9" width="0.8" height="0.8"/><rect x="501.0" y="240.4" width="0.8" height="0.8"/><rect x="500.8" y="243.1" width="0.8" height="0.8"/><rect x="502.6" y="237.3" width="0.8" height="0.8"/><rect x="511.0" y="242.2" width="0.8" height="0.8"/><rect x="497.3" y="240.0" width="0.8" height="0.8"/><rect x="498.1" y="240.7" width="0.8" height="0.8"/><rect x="503.7" y="241.0" width="0.8" height="0.8"/><rect x="499.4" y="239.2" width="0.8" height="0.8"/><rect x="505.6" y="240.4" width="0.8" height="0.8"/><rect x="511.7" y="239.2" width="0.8" height="0.8"/><rect x="505.4" y="240.7" width="0.8" height="0.8"/><rect x="498.7" y="243.0" width="0.8" height="0.8"/><rect x="502.5" y="239.0" width="0.8" height="0.8"/><rect x="500.6" y="242.4" width="0.8" height="0.8"/><rect x="496.7" y="243.0" width="0.8" height="0.8"/></g>
<g fill="#000" fill-opacity="0.15"><rect x="487.6" y="239.9" width="0.8" height="0.8"/><rect x="497.0" y="242.9" width="0.8" height="0.8"/><rect x="486.4" y="240.6" width="0.8" height="0.8"/><rect x="503.9" y="242.5" width="0.8" height="0.8"/><rect x="465.0" y="240.0" width="0.8" height="0.8"/><rect x="475.0" y="239.7" width="0.8" height="0.8"/><rect x="457.0" y="241.7" width="0.8" height="0.8"/><rect x="479.2" y="240.4" width="0.8" height="0.8"/><rect x="497.8" y="239.5" width="0.8" height="0.8"/><rect x="477.2" y="240.7" width="0.8" height="0.8"/><rect x="471.9" y="240.1" width="0.8" height="0.8"/><rect x="488.8" y="240.3" width="0.8" height="0.8"/><rect x="496.7" y="239.2" width="0.8" height="0.8"/><rect x="480.8" y="238.2" width="0.8" height="0.8"/><rect x="476.3" y="239.2" width="0.8" height="0.8"/><rect x="497.2" y="241.4" width="0.8" height="0.8"/><rect x="485.2" y="243.1" width="0.8" height="0.8"/><rect x="498.3" y="241.4" width="0.8" height="0.8"/><rect x="468.3" y="238.1" width="0.8" height="0.8"/><rect x="477.6" y="239.8" width="0.8" height="0.8"/><rect x="468.9" y="239.9" width="0.8" height="0.8"/><rect x="454.7" y="242.5" width="0.8" height="0.8"/><rect x="461.9" y="239.3" width="0.8" height="0.8"/><rect x="486.1" y="237.8" width="0.8" height="0.8"/><rect x="491.0" y="241.7" width="0.8" height="0.8"/><rect x="473.6" y="238.7" width="0.8" height="0.8"/><rect x="471.3" y="237.5" width="0.8" height="0.8"/><rect x="497.6" y="240.4" width="0.8" height="0.8"/><rect x="467.6" y="238.9" width="0.8" height="0.8"/><rect x="486.1" y="242.6" width="0.8" height="0.8"/><rect x="460.0" y="239.4" width="0.8" height="0.8"/><rect x="453.1" y="241.3" width="0.8" height="0.8"/><rect x="480.2" y="243.7" width="0.8" height="0.8"/><rect x="476.3" y="239.6" width="0.8" height="0.8"/><rect x="467.9" y="241.6" width="0.8" height="0.8"/><rect x="454.9" y="241.4" width="0.8" height="0.8"/><rect x="481.5" y="239.5" width="0.8" height="0.8"/><rect x="465.2" y="241.9" width="0.8" height="0.8"/><rect x="504.4" y="239.6" width="0.8" height="0.8"/><rect x="485.5" y="242.9" width="0.8" height="0.8"/><rect x="469.2" y="239.9" width="0.8" height="0.8"/><rect x="460.7" y="240.1" width="0.8" height="0.8"/><rect x="476.8" y="239.7" width="0.8" height="0.8"/><rect x="467.5" y="237.9" width="0.8" height="0.8"/><rect x="458.9" y="238.8" width="0.8" height="0.8"/><rect x="487.1" y="239.5" width="0.8" height="0.8"/><rect x="465.9" y="241.3" width="0.8" height="0.8"/><rect x="486.0" y="239.2" width="0.8" height="0.8"/><rect x="469.1" y="241.3" width="0.8" height="0.8"/><rect x="483.2" y="239.0" width="0.8" height="0.8"/><rect x="481.4" y="240.3" width="0.8" height="0.8"/><rect x="493.9" y="239.0" width="0.8" height="0.8"/><rect x="490.6" y="241.0" width="0.8" height="0.8"/><rect x="463.6" y="241.9" width="0.8" height="0.8"/><rect x="491.0" y="238.3" width="0.8" height="0.8"/><rect x="506.3" y="238.6" width="0.8" height="0.8"/><rect x="464.9" y="239.8" width="0.8" height="0.8"/><rect x="489.0" y="241.2" width="0.8" height="0.8"/><rect x="476.6" y="242.4" width="0.8" height="0.8"/><rect x="483.8" y="242.4" width="0.8" height="0.8"/><rect x="518.4" y="240.6" width="0.8" height="0.8"/><rect x="441.1" y="239.6" width="0.8" height="0.8"/><rect x="462.5" y="240.4" width="0.8" height="0.8"/><rect x="479.4" y="238.4" width="0.8" height="0.8"/><rect x="461.4" y="239.9" width="0.8" height="0.8"/><rect x="475.2" y="236.3" width="0.8" height="0.8"/><rect x="492.0" y="240.3" width="0.8" height="0.8"/><rect x="477.9" y="240.8" width="0.8" height="0.8"/><rect x="463.2" y="240.2" width="0.8" height="0.8"/><rect x="493.0" y="242.0" width="0.8" height="0.8"/><rect x="484.7" y="239.9" width="0.8" height="0.8"/><rect x="466.1" y="242.3" width="0.8" height="0.8"/><rect x="485.6" y="239.6" width="0.8" height="0.8"/><rect x="446.5" y="239.0" width="0.8" height="0.8"/><rect x="449.9" y="242.2" width="0.8" height="0.8"/><rect x="480.7" y="239.1" width="0.8" height="0.8"/><rect x="474.0" y="244.3" width="0.8" height="0.8"/><rect x="495.7" y="238.2" width="0.8" height="0.8"/><rect x="476.1" y="238.4" width="0.8" height="0.8"/><rect x="452.8" y="240.6" width="0.8" height="0.8"/><rect x="513.4" y="242.7" width="0.8" height="0.8"/><rect x="478.6" y="239.7" width="0.8" height="0.8"/><rect x="481.0" y="241.9" width="0.8" height="0.8"/><rect x="456.5" y="237.4" width="0.8" height="0.8"/><rect x="505.7" y="240.7" width="0.8" height="0.8"/><rect x="501.6" y="240.7" width="0.8" height="0.8"/><rect x="499.8" y="239.3" width="0.8" height="0.8"/><rect x="485.3" y="242.7" width="0.8" height="0.8"/><rect x="493.1" y="239.6" width="0.8" height="0.8"/><rect x="491.2" y="239.3" width="0.8" height="0.8"/><rect x="456.9" y="241.1" width="0.8" height="0.8"/><rect x="498.7" y="241.6" width="0.8" height="0.8"/><rect x="459.4" y="241.7" width="0.8" height="0.8"/><rect x="488.1" y="239.6" width="0.8" height="0.8"/><rect x="441.1" y="241.9" width="0.8" height="0.8"/><rect x="491.2" y="241.1" width="0.8" height="0.8"/><rect x="452.3" y="237.9" width="0.8" height="0.8"/><rect x="493.0" y="241.6" width="0.8" height="0.8"/><rect x="485.4" y="239.9" width="0.8" height="0.8"/><rect x="483.9" y="239.4" width="0.8" height="0.8"/><rect x="473.3" y="238.9" width="0.8" height="0.8"/><rect x="481.8" y="239.6" width="0.8" height="0.8"/><rect x="492.2" y="241.4" width="0.8" height="0.8"/><rect x="465.9" y="243.2" width="0.8" height="0.8"/><rect x="461.3" y="241.0" width="0.8" height="0.8"/><rect x="494.2" y="242.3" width="0.8" height="0.8"/><rect x="445.0" y="241.9" width="0.8" height="0.8"/><rect x="496.2" y="242.6" width="0.8" height="0.8"/><rect x="444.7" y="239.2" width="0.8" height="0.8"/><rect x="476.5" y="239.6" width="0.8" height="0.8"/><rect x="498.1" y="239.2" width="0.8" height="0.8"/><rect x="496.4" y="241.2" width="0.8" height="0.8"/><rect x="456.2" y="238.7" width="0.8" height="0.8"/><rect x="471.0" y="240.5" width="0.8" height="0.8"/><rect x="492.9" y="240.0" width="0.8" height="0.8"/><rect x="491.6" y="237.8" width="0.8" height="0.8"/><rect x="432.3" y="239.8" width="0.8" height="0.8"/><rect x="484.9" y="239.7" width="0.8" height="0.8"/><rect x="462.9" y="241.0" width="0.8" height="0.8"/><rect x="507.0" y="240.1" width="0.8" height="0.8"/><rect x="467.1" y="238.9" width="0.8" height="0.8"/><rect x="507.5" y="240.2" width="0.8" height="0.8"/><rect x="487.2" y="242.3" width="0.8" height="0.8"/><rect x="494.2" y="238.8" width="0.8" height="0.8"/><rect x="492.3" y="241.7" width="0.8" height="0.8"/><rect x="485.3" y="241.9" width="0.8" height="0.8"/><rect x="469.6" y="240.2" width="0.8" height="0.8"/><rect x="470.1" y="241.5" width="0.8" height="0.8"/><rect x="468.2" y="240.9" width="0.8" height="0.8"/><rect x="461.6" y="240.1" width="0.8" height="0.8"/><rect x="472.6" y="240.1" width="0.8" height="0.8"/><rect x="480.0" y="240.0" width="0.8" height="0.8"/><rect x="474.7" y="237.0" width="0.8" height="0.8"/><rect x="494.6" y="239.3" width="0.8" height="0.8"/><rect x="474.3" y="239.0" width="0.8" height="0.8"/><rect x="493.0" y="238.9" width="0.8" height="0.8"/><rect x="485.6" y="242.2" width="0.8" height="0.8"/><rect x="502.7" y="242.2" width="0.8" height="0.8"/><rect x="487.3" y="238.4" width="0.8" height="0.8"/><rect x="497.4" y="242.2" width="0.8" height="0.8"/><rect x="490.6" y="241.6" width="0.8" height="0.8"/><rect x="479.2" y="239.5" width="0.8" height="0.8"/><rect x="494.3" y="242.3" width="0.8" height="0.8"/><rect x="462.5" y="241.8" width="0.8" height="0.8"/><rect x="481.8" y="241.7" width="0.8" height="0.8"/><rect x="482.2" y="242.1" width="0.8" height="0.8"/><rect x="493.5" y="241.7" width="0.8" height="0.8"/><rect x="457.5" y="241.6" width="0.8" height="0.8"/><rect x="478.9" y="238.5" width="0.8" height="0.8"/><rect x="488.8" y="238.1" width="0.8" height="0.8"/><rect x="491.6" y="243.0" width="0.8" height="0.8"/><rect x="470.7" y="241.8" width="0.8" height="0.8"/><rect x="485.0" y="241.4" width="0.8" height="0.8"/><rect x="458.1" y="241.3" width="0.8" height="0.8"/><rect x="480.3" y="241.5" width="0.8" height="0.8"/><rect x="478.4" y="242.1" width="0.8" height="0.8"/><rect x="482.4" y="241.4" width="0.8" height="0.8"/><rect x="498.7" y="240.6" width="0.8" height="0.8"/><rect x="493.2" y="240.7" width="0.8" height="0.8"/><rect x="486.1" y="239.5" width="0.8" height="0.8"/><rect x="489.9" y="242.3" width="0.8" height="0.8"/><rect x="477.2" y="241.6" width="0.8" height="0.8"/><rect x="484.8" y="238.6" width="0.8" height="0.8"/><rect x="483.7" y="242.4" width="0.8" height="0.8"/><rect x="471.3" y="237.5" width="0.8" height="0.8"/><rect x="481.5" y="239.3" width="0.8" height="0.8"/><rect x="506.6" y="240.3" width="0.8" height="0.8"/><rect x="478.4" y="239.4" width="0.8" height="0.8"/><rect x="482.2" y="239.5" width="0.8" height="0.8"/><rect x="465.2" y="240.3" width="0.8" height="0.8"/><rect x="466.5" y="242.4" width="0.8" height="0.8"/><rect x="461.3" y="240.2" width="0.8" height="0.8"/><rect x="468.4" y="238.2" width="0.8" height="0.8"/><rect x="503.0" y="237.1" width="0.8" height="0.8"/><rect x="499.9" y="238.1" width="0.8" height="0.8"/><rect x="479.9" y="243.9" width="0.8" height="0.8"/><rect x="447.2" y="238.2" width="0.8" height="0.8"/><rect x="497.8" y="240.6" width="0.8" height="0.8"/><rect x="470.5" y="240.3" width="0.8" height="0.8"/><rect x="464.3" y="240.5" width="0.8" height="0.8"/><rect x="500.5" y="239.8" width="0.8" height="0.8"/><rect x="480.6" y="242.2" width="0.8" height="0.8"/><rect x="507.8" y="239.4" width="0.8" height="0.8"/><rect x="483.0" y="239.5" width="0.8" height="0.8"/><rect x="469.1" y="239.7" width="0.8" height="0.8"/><rect x="469.2" y="237.6" width="0.8" height="0.8"/><rect x="449.3" y="239.2" width="0.8" height="0.8"/><rect x="480.5" y="242.3" width="0.8" height="0.8"/><rect x="470.7" y="240.1" width="0.8" height="0.8"/><rect x="488.2" y="241.5" width="0.8" height="0.8"/><rect x="476.8" y="240.3" width="0.8" height="0.8"/><rect x="506.1" y="239.8" width="0.8" height="0.8"/><rect x="471.3" y="237.8" width="0.8" height="0.8"/><rect x="484.9" y="239.9" width="0.8" height="0.8"/><rect x="506.6" y="239.8" width="0.8" height="0.8"/><rect x="490.5" y="241.8" width="0.8" height="0.8"/><rect x="502.7" y="238.3" width="0.8" height="0.8"/><rect x="501.5" y="240.4" width="0.8" height="0.8"/><rect x="477.0" y="239.9" width="0.8" height="0.8"/><rect x="472.7" y="239.8" width="0.8" height="0.8"/><rect x="444.3" y="241.2" width="0.8" height="0.8"/><rect x="479.4" y="238.9" width="0.8" height="0.8"/><rect x="477.6" y="244.0" width="0.8" height="0.8"/><rect x="484.1" y="239.7" width="0.8" height="0.8"/><rect x="503.6" y="239.1" width="0.8" height="0.8"/><rect x="476.3" y="239.5" width="0.8" height="0.8"/><rect x="475.1" y="241.5" width="0.8" height="0.8"/><rect x="487.0" y="239.2" width="0.8" height="0.8"/><rect x="476.6" y="240.5" width="0.8" height="0.8"/><rect x="472.5" y="240.3" width="0.8" height="0.8"/><rect x="467.9" y="239.2" width="0.8" height="0.8"/><rect x="479.2" y="238.7" width="0.8" height="0.8"/><rect x="484.6" y="240.1" width="0.8" height="0.8"/><rect x="465.0" y="239.4" width="0.8" height="0.8"/><rect x="471.5" y="240.1" width="0.8" height="0.8"/><rect x="480.1" y="240.0" width="0.8" height="0.8"/><rect x="465.8" y="242.6" width="0.8" height="0.8"/><rect x="491.7" y="240.5" width="0.8" height="0.8"/><rect x="492.4" y="240.9" width="0.8" height="0.8"/><rect x="474.7" y="240.5" width="0.8" height="0.8"/><rect x="517.3" y="241.9" width="0.8" height="0.8"/><rect x="493.6" y="239.7" width="0.8" height="0.8"/><rect x="487.2" y="243.9" width="0.8" height="0.8"/><rect x="484.7" y="242.0" width="0.8" height="0.8"/><rect x="496.8" y="241.3" width="0.8" height="0.8"/><rect x="501.4" y="240.7" width="0.8" height="0.8"/><rect x="485.7" y="239.4" width="0.8" height="0.8"/><rect x="516.9" y="240.8" width="0.8" height="0.8"/><rect x="480.1" y="242.5" width="0.8" height="0.8"/><rect x="471.3" y="240.3" width="0.8" height="0.8"/><rect x="467.1" y="240.4" width="0.8" height="0.8"/><rect x="472.8" y="241.2" width="0.8" height="0.8"/><rect x="476.6" y="239.4" width="0.8" height="0.8"/><rect x="474.1" y="240.2" width="0.8" height="0.8"/><rect x="471.0" y="241.8" width="0.8" height="0.8"/><rect x="488.2" y="240.6" width="0.8" height="0.8"/><rect x="461.1" y="241.1" width="0.8" height="0.8"/><rect x="459.9" y="240.6" width="0.8" height="0.8"/><rect x="479.1" y="239.4" width="0.8" height="0.8"/><rect x="466.4" y="239.3" width="0.8" height="0.8"/><rect x="508.2" y="239.9" width="0.8" height="0.8"/><rect x="475.4" y="241.8" width="0.8" height="0.8"/><rect x="484.5" y="242.0" width="0.8" height="0.8"/><rect x="460.6" y="238.7" width="0.8" height="0.8"/><rect x="526.6" y="240.3" width="0.8" height="0.8"/><rect x="474.2" y="240.6" width="0.8" height="0.8"/><rect x="492.8" y="238.5" width="0.8" height="0.8"/><rect x="482.5" y="240.3" width="0.8" height="0.8"/><rect x="488.1" y="240.6" width="0.8" height="0.8"/><rect x="470.7" y="239.0" width="0.8" height="0.8"/><rect x="443.2" y="241.9" width="0.8" height="0.8"/><rect x="457.2" y="239.7" width="0.8" height="0.8"/><rect x="502.4" y="239.7" width="0.8" height="0.8"/><rect x="487.2" y="240.0" width="0.8" height="0.8"/><rect x="488.5" y="240.4" width="0.8" height="0.8"/><rect x="471.0" y="242.4" width="0.8" height="0.8"/><rect x="474.6" y="238.3" width="0.8" height="0.8"/><rect x="473.6" y="241.2" width="0.8" height="0.8"/><rect x="462.3" y="241.6" width="0.8" height="0.8"/><rect x="489.4" y="243.6" width="0.8" height="0.8"/></g>
<g fill="#000" fill-opacity="0.22"><rect x="456.6" y="241.3" width="0.8" height="0.8"/><rect x="452.7" y="239.7" width="0.8" height="0.8"/><rect x="459.5" y="240.9" width="0.8" height="0.8"/><rect x="458.9" y="240.2" width="0.8" height="0.8"/><rect x="456.7" y="239.7" width="0.8" height="0.8"/><rect x="460.3" y="241.1" width="0.8" height="0.8"/><rect x="461.6" y="241.8" width="0.8" height="0.8"/><rect x="463.7" y="237.7" width="0.8" height="0.8"/><rect x="457.1" y="240.1" width="0.8" height="0.8"/><rect x="456.6" y="241.8" width="0.8" height="0.8"/><rect x="462.0" y="240.2" width="0.8" height="0.8"/><rect x="459.6" y="242.2" width="0.8" height="0.8"/><rect x="457.8" y="239.9" width="0.8" height="0.8"/><rect x="462.6" y="241.0" width="0.8" height="0.8"/><rect x="464.5" y="240.9" width="0.8" height="0.8"/><rect x="462.0" y="239.6" width="0.8" height="0.8"/><rect x="455.5" y="240.3" width="0.8" height="0.8"/><rect x="448.9" y="240.9" width="0.8" height="0.8"/><rect x="462.8" y="240.4" width="0.8" height="0.8"/><rect x="458.3" y="241.9" width="0.8" height="0.8"/><rect x="458.9" y="241.7" width="0.8" height="0.8"/><rect x="467.5" y="241.4" width="0.8" height="0.8"/><rect x="462.7" y="241.0" width="0.8" height="0.8"/><rect x="460.1" y="240.7" width="0.8" height="0.8"/><rect x="459.4" y="241.9" width="0.8" height="0.8"/><rect x="452.9" y="240.0" width="0.8" height="0.8"/><rect x="461.6" y="239.1" width="0.8" height="0.8"/><rect x="458.7" y="239.3" width="0.8" height="0.8"/><rect x="460.8" y="241.6" width="0.8" height="0.8"/><rect x="464.7" y="241.1" width="0.8" height="0.8"/><rect x="456.4" y="240.7" width="0.8" height="0.8"/><rect x="461.3" y="242.4" width="0.8" height="0.8"/><rect x="450.9" y="240.9" width="0.8" height="0.8"/><rect x="452.1" y="241.4" width="0.8" height="0.8"/><rect x="460.8" y="241.1" width="0.8" height="0.8"/><rect x="462.5" y="240.9" width="0.8" height="0.8"/><rect x="456.6" y="240.8" width="0.8" height="0.8"/><rect x="463.7" y="240.2" width="0.8" height="0.8"/><rect x="459.2" y="238.6" width="0.8" height="0.8"/><rect x="463.5" y="239.6" width="0.8" height="0.8"/><rect x="456.3" y="239.7" width="0.8" height="0.8"/><rect x="455.8" y="240.0" width="0.8" height="0.8"/><rect x="464.0" y="241.5" width="0.8" height="0.8"/><rect x="464.5" y="242.5" width="0.8" height="0.8"/><rect x="455.7" y="241.0" width="0.8" height="0.8"/><rect x="464.8" y="243.6" width="0.8" height="0.8"/><rect x="453.7" y="238.3" width="0.8" height="0.8"/><rect x="460.9" y="239.9" width="0.8" height="0.8"/><rect x="455.3" y="240.9" width="0.8" height="0.8"/><rect x="456.1" y="237.1" width="0.8" height="0.8"/><rect x="459.0" y="240.5" width="0.8" height="0.8"/><rect x="461.5" y="241.7" width="0.8" height="0.8"/><rect x="459.8" y="240.0" width="0.8" height="0.8"/><rect x="456.6" y="238.0" width="0.8" height="0.8"/><rect x="457.4" y="241.8" width="0.8" height="0.8"/><rect x="461.6" y="243.3" width="0.8" height="0.8"/><rect x="458.5" y="237.8" width="0.8" height="0.8"/><rect x="462.2" y="241.8" width="0.8" height="0.8"/><rect x="454.6" y="238.0" width="0.8" height="0.8"/><rect x="459.7" y="241.4" width="0.8" height="0.8"/><rect x="454.8" y="239.8" width="0.8" height="0.8"/><rect x="456.1" y="238.6" width="0.8" height="0.8"/><rect x="454.1" y="240.5" width="0.8" height="0.8"/><rect x="457.7" y="239.4" width="0.8" height="0.8"/><rect x="449.1" y="242.8" width="0.8" height="0.8"/><rect x="455.5" y="240.1" width="0.8" height="0.8"/><rect x="454.7" y="240.9" width="0.8" height="0.8"/><rect x="453.3" y="240.5" width="0.8" height="0.8"/><rect x="458.3" y="241.6" width="0.8" height="0.8"/><rect x="454.9" y="239.4" width="0.8" height="0.8"/><rect x="458.2" y="243.3" width="0.8" height="0.8"/><rect x="453.4" y="240.7" width="0.8" height="0.8"/><rect x="456.6" y="240.8" width="0.8" height="0.8"/><rect x="461.5" y="240.5" width="0.8" height="0.8"/><rect x="460.1" y="240.7" width="0.8" height="0.8"/><rect x="456.8" y="240.0" width="0.8" height="0.8"/><rect x="452.7" y="239.8" width="0.8" height="0.8"/><rect x="456.1" y="240.0" width="0.8" height="0.8"/><rect x="461.9" y="240.9" width="0.8" height="0.8"/><rect x="460.8" y="241.9" width="0.8" height="0.8"/><rect x="449.9" y="240.9" width="0.8" height="0.8"/><rect x="458.9" y="240.2" width="0.8" height="0.8"/><rect x="454.0" y="241.1" width="0.8" height="0.8"/><rect x="463.4" y="241.8" width="0.8" height="0.8"/><rect x="458.7" y="241.2" width="0.8" height="0.8"/><rect x="462.5" y="242.9" width="0.8" height="0.8"/><rect x="463.7" y="240.5" width="0.8" height="0.8"/><rect x="459.4" y="240.5" width="0.8" height="0.8"/><rect x="459.9" y="239.6" width="0.8" height="0.8"/><rect x="462.0" y="239.3" width="0.8" height="0.8"/><rect x="456.0" y="240.8" width="0.8" height="0.8"/><rect x="456.8" y="240.0" width="0.8" height="0.8"/><rect x="451.1" y="241.4" width="0.8" height="0.8"/><rect x="459.0" y="240.1" width="0.8" height="0.8"/><rect x="460.8" y="240.6" width="0.8" height="0.8"/><rect x="456.3" y="243.2" width="0.8" height="0.8"/><rect x="457.3" y="241.7" width="0.8" height="0.8"/><rect x="466.0" y="239.4" width="0.8" height="0.8"/><rect x="459.4" y="239.1" width="0.8" height="0.8"/><rect x="463.0" y="239.8" width="0.8" height="0.8"/></g>
<rect x="437.2" y="178.1" width="74.80000000000001" height="75.70000000000002" fill="none" stroke="#bdbdbd" stroke-width="1"/>
<line x1="468.5" y1="178.1" x2="468.5" y2="253.8" stroke="#6a6a6a" stroke-width="0.9" />
<line x1="437.2" y1="223" x2="512" y2="223" stroke="#6a6a6a" stroke-width="0.9" />
<text x="441.5" y="230.7" font-size="7" font-weight="normal" text-anchor="start" fill="#000" class="s">14</text>
<text x="500.9" y="230.7" font-size="7" font-weight="normal" text-anchor="start" fill="#000" class="s">86</text>
<line x1="247.9" y1="180" x2="249.4" y2="180" stroke="#333" stroke-width="0.5" />
<line x1="247.9" y1="183" x2="249.4" y2="183" stroke="#333" stroke-width="0.5" />
<line x1="247.9" y1="186" x2="249.4" y2="186" stroke="#333" stroke-width="0.5" />
<line x1="247.9" y1="189" x2="249.4" y2="189" stroke="#333" stroke-width="0.5" />
<line x1="247.9" y1="192" x2="249.4" y2="192" stroke="#333" stroke-width="0.5" />
<line x1="247.9" y1="195" x2="249.4" y2="195" stroke="#333" stroke-width="0.5" />
<line x1="247.9" y1="198" x2="249.4" y2="198" stroke="#333" stroke-width="0.5" />
<line x1="247.9" y1="201" x2="249.4" y2="201" stroke="#333" stroke-width="0.5" />
<line x1="247.9" y1="204" x2="249.4" y2="204" stroke="#333" stroke-width="0.5" />
<line x1="247.9" y1="207" x2="249.4" y2="207" stroke="#333" stroke-width="0.5" />
<line x1="247.9" y1="210" x2="249.4" y2="210" stroke="#333" stroke-width="0.5" />
<line x1="247.9" y1="213" x2="249.4" y2="213" stroke="#333" stroke-width="0.5" />
<line x1="247.9" y1="216" x2="249.4" y2="216" stroke="#333" stroke-width="0.5" />
<line x1="247.9" y1="219" x2="249.4" y2="219" stroke="#333" stroke-width="0.5" />
<line x1="247.9" y1="222" x2="249.4" y2="222" stroke="#333" stroke-width="0.5" />
<line x1="247.9" y1="225" x2="249.4" y2="225" stroke="#333" stroke-width="0.5" />
<line x1="247.9" y1="228" x2="249.4" y2="228" stroke="#333" stroke-width="0.5" />
<line x1="247.9" y1="231" x2="249.4" y2="231" stroke="#333" stroke-width="0.5" />
<line x1="247.9" y1="234" x2="249.4" y2="234" stroke="#333" stroke-width="0.5" />
<line x1="247.9" y1="237" x2="249.4" y2="237" stroke="#333" stroke-width="0.5" />
<line x1="247.9" y1="240" x2="249.4" y2="240" stroke="#333" stroke-width="0.5" />
<line x1="247.9" y1="243" x2="249.4" y2="243" stroke="#333" stroke-width="0.5" />
<line x1="247.9" y1="246" x2="249.4" y2="246" stroke="#333" stroke-width="0.5" />
<line x1="247.9" y1="249" x2="249.4" y2="249" stroke="#333" stroke-width="0.5" />
<line x1="247.9" y1="252" x2="249.4" y2="252" stroke="#333" stroke-width="0.5" />
<line x1="246.4" y1="194.8" x2="249.4" y2="194.8" stroke="#000" stroke-width="0.9" />
<line x1="246.4" y1="213.4" x2="249.4" y2="213.4" stroke="#000" stroke-width="0.9" />
<line x1="246.4" y1="233.5" x2="249.4" y2="233.5" stroke="#000" stroke-width="0.9" />
<line x1="246.4" y1="239.7" x2="249.4" y2="239.7" stroke="#000" stroke-width="0.9" />
<line x1="246.4" y1="247.3" x2="249.4" y2="247.3" stroke="#000" stroke-width="0.9" />
<text class="s" x="244.9" y="197" font-size="5.6" text-anchor="end">10<tspan font-size="3.6" dy="-2">4</tspan></text>
<text class="s" x="244.9" y="215.6" font-size="5.6" text-anchor="end">10<tspan font-size="3.6" dy="-2">3</tspan></text>
<text class="s" x="244.9" y="235.6" font-size="5.6" text-anchor="end">10<tspan font-size="3.6" dy="-2">2</tspan></text>
<text x="242.9" y="241.8" font-size="5.6" font-weight="normal" text-anchor="end" fill="#000" class="s">0</text>
<text class="s" x="244.9" y="249.4" font-size="5.6" text-anchor="end">-10<tspan font-size="3.6" dy="-2">2</tspan></text>
<circle cx="249.4" cy="239.7" r="1.1" fill="#000"/>
<line x1="435.7" y1="180" x2="437.2" y2="180" stroke="#333" stroke-width="0.5" />
<line x1="435.7" y1="183" x2="437.2" y2="183" stroke="#333" stroke-width="0.5" />
<line x1="435.7" y1="186" x2="437.2" y2="186" stroke="#333" stroke-width="0.5" />
<line x1="435.7" y1="189" x2="437.2" y2="189" stroke="#333" stroke-width="0.5" />
<line x1="435.7" y1="192" x2="437.2" y2="192" stroke="#333" stroke-width="0.5" />
<line x1="435.7" y1="195" x2="437.2" y2="195" stroke="#333" stroke-width="0.5" />
<line x1="435.7" y1="198" x2="437.2" y2="198" stroke="#333" stroke-width="0.5" />
<line x1="435.7" y1="201" x2="437.2" y2="201" stroke="#333" stroke-width="0.5" />
<line x1="435.7" y1="204" x2="437.2" y2="204" stroke="#333" stroke-width="0.5" />
<line x1="435.7" y1="207" x2="437.2" y2="207" stroke="#333" stroke-width="0.5" />
<line x1="435.7" y1="210" x2="437.2" y2="210" stroke="#333" stroke-width="0.5" />
<line x1="435.7" y1="213" x2="437.2" y2="213" stroke="#333" stroke-width="0.5" />
<line x1="435.7" y1="216" x2="437.2" y2="216" stroke="#333" stroke-width="0.5" />
<line x1="435.7" y1="219" x2="437.2" y2="219" stroke="#333" stroke-width="0.5" />
<line x1="435.7" y1="222" x2="437.2" y2="222" stroke="#333" stroke-width="0.5" />
<line x1="435.7" y1="225" x2="437.2" y2="225" stroke="#333" stroke-width="0.5" />
<line x1="435.7" y1="228" x2="437.2" y2="228" stroke="#333" stroke-width="0.5" />
<line x1="435.7" y1="231" x2="437.2" y2="231" stroke="#333" stroke-width="0.5" />
<line x1="435.7" y1="234" x2="437.2" y2="234" stroke="#333" stroke-width="0.5" />
<line x1="435.7" y1="237" x2="437.2" y2="237" stroke="#333" stroke-width="0.5" />
<line x1="435.7" y1="240" x2="437.2" y2="240" stroke="#333" stroke-width="0.5" />
<line x1="435.7" y1="243" x2="437.2" y2="243" stroke="#333" stroke-width="0.5" />
<line x1="435.7" y1="246" x2="437.2" y2="246" stroke="#333" stroke-width="0.5" />
<line x1="435.7" y1="249" x2="437.2" y2="249" stroke="#333" stroke-width="0.5" />
<line x1="435.7" y1="252" x2="437.2" y2="252" stroke="#333" stroke-width="0.5" />
<line x1="434.2" y1="194.8" x2="437.2" y2="194.8" stroke="#000" stroke-width="0.9" />
<line x1="434.2" y1="213.4" x2="437.2" y2="213.4" stroke="#000" stroke-width="0.9" />
<line x1="434.2" y1="233.5" x2="437.2" y2="233.5" stroke="#000" stroke-width="0.9" />
<line x1="434.2" y1="239.7" x2="437.2" y2="239.7" stroke="#000" stroke-width="0.9" />
<line x1="434.2" y1="247.3" x2="437.2" y2="247.3" stroke="#000" stroke-width="0.9" />
<text class="s" x="432.7" y="197" font-size="5.6" text-anchor="end">10<tspan font-size="3.6" dy="-2">4</tspan></text>
<text class="s" x="432.7" y="215.6" font-size="5.6" text-anchor="end">10<tspan font-size="3.6" dy="-2">3</tspan></text>
<text class="s" x="432.7" y="235.6" font-size="5.6" text-anchor="end">10<tspan font-size="3.6" dy="-2">2</tspan></text>
<text x="430.7" y="241.8" font-size="5.6" font-weight="normal" text-anchor="end" fill="#000" class="s">0</text>
<text class="s" x="432.7" y="249.4" font-size="5.6" text-anchor="end">-10<tspan font-size="3.6" dy="-2">2</tspan></text>
<circle cx="437.2" cy="239.7" r="1.1" fill="#000"/>
<line x1="340.40000000000003" y1="180" x2="341.6" y2="180" stroke="#444" stroke-width="0.5" />
<line x1="340.40000000000003" y1="182" x2="341.6" y2="182" stroke="#444" stroke-width="0.5" />
<line x1="340.40000000000003" y1="184" x2="341.6" y2="184" stroke="#444" stroke-width="0.5" />
<line x1="340.40000000000003" y1="186" x2="341.6" y2="186" stroke="#444" stroke-width="0.5" />
<line x1="340.40000000000003" y1="188" x2="341.6" y2="188" stroke="#444" stroke-width="0.5" />
<line x1="340.40000000000003" y1="190" x2="341.6" y2="190" stroke="#444" stroke-width="0.5" />
<line x1="340.40000000000003" y1="192" x2="341.6" y2="192" stroke="#444" stroke-width="0.5" />
<line x1="340.40000000000003" y1="194" x2="341.6" y2="194" stroke="#444" stroke-width="0.5" />
<line x1="340.40000000000003" y1="196" x2="341.6" y2="196" stroke="#444" stroke-width="0.5" />
<line x1="340.40000000000003" y1="198" x2="341.6" y2="198" stroke="#444" stroke-width="0.5" />
<line x1="340.40000000000003" y1="200" x2="341.6" y2="200" stroke="#444" stroke-width="0.5" />
<line x1="340.40000000000003" y1="202" x2="341.6" y2="202" stroke="#444" stroke-width="0.5" />
<line x1="340.40000000000003" y1="204" x2="341.6" y2="204" stroke="#444" stroke-width="0.5" />
<line x1="340.40000000000003" y1="206" x2="341.6" y2="206" stroke="#444" stroke-width="0.5" />
<line x1="340.40000000000003" y1="208" x2="341.6" y2="208" stroke="#444" stroke-width="0.5" />
<line x1="340.40000000000003" y1="210" x2="341.6" y2="210" stroke="#444" stroke-width="0.5" />
<line x1="340.40000000000003" y1="212" x2="341.6" y2="212" stroke="#444" stroke-width="0.5" />
<line x1="340.40000000000003" y1="214" x2="341.6" y2="214" stroke="#444" stroke-width="0.5" />
<line x1="340.40000000000003" y1="216" x2="341.6" y2="216" stroke="#444" stroke-width="0.5" />
<line x1="340.40000000000003" y1="218" x2="341.6" y2="218" stroke="#444" stroke-width="0.5" />
<line x1="340.40000000000003" y1="220" x2="341.6" y2="220" stroke="#444" stroke-width="0.5" />
<line x1="340.40000000000003" y1="222" x2="341.6" y2="222" stroke="#444" stroke-width="0.5" />
<line x1="340.40000000000003" y1="224" x2="341.6" y2="224" stroke="#444" stroke-width="0.5" />
<line x1="340.40000000000003" y1="226" x2="341.6" y2="226" stroke="#444" stroke-width="0.5" />
<line x1="340.40000000000003" y1="228" x2="341.6" y2="228" stroke="#444" stroke-width="0.5" />
<line x1="340.40000000000003" y1="230" x2="341.6" y2="230" stroke="#444" stroke-width="0.5" />
<line x1="340.40000000000003" y1="232" x2="341.6" y2="232" stroke="#444" stroke-width="0.5" />
<line x1="340.40000000000003" y1="234" x2="341.6" y2="234" stroke="#444" stroke-width="0.5" />
<line x1="340.40000000000003" y1="236" x2="341.6" y2="236" stroke="#444" stroke-width="0.5" />
<line x1="340.40000000000003" y1="238" x2="341.6" y2="238" stroke="#444" stroke-width="0.5" />
<line x1="340.40000000000003" y1="240" x2="341.6" y2="240" stroke="#444" stroke-width="0.5" />
<line x1="340.40000000000003" y1="242" x2="341.6" y2="242" stroke="#444" stroke-width="0.5" />
<line x1="340.40000000000003" y1="244" x2="341.6" y2="244" stroke="#444" stroke-width="0.5" />
<line x1="340.40000000000003" y1="246" x2="341.6" y2="246" stroke="#444" stroke-width="0.5" />
<line x1="340.40000000000003" y1="248" x2="341.6" y2="248" stroke="#444" stroke-width="0.5" />
<line x1="340.40000000000003" y1="250" x2="341.6" y2="250" stroke="#444" stroke-width="0.5" />
<line x1="340.40000000000003" y1="252" x2="341.6" y2="252" stroke="#444" stroke-width="0.5" />
<line x1="338.6" y1="182.6" x2="341.6" y2="182.6" stroke="#000" stroke-width="0.9" />
<text class="s" x="337.1" y="184.79999999999998" font-size="5.6" text-anchor="end">10<tspan font-size="3.6" dy="-2">5</tspan></text>
<line x1="338.6" y1="194.6" x2="341.6" y2="194.6" stroke="#000" stroke-width="0.9" />
<text class="s" x="337.1" y="196.79999999999998" font-size="5.6" text-anchor="end">10<tspan font-size="3.6" dy="-2">4</tspan></text>
<line x1="338.6" y1="209.4" x2="341.6" y2="209.4" stroke="#000" stroke-width="0.9" />
<text class="s" x="337.1" y="211.6" font-size="5.6" text-anchor="end">10<tspan font-size="3.6" dy="-2">3</tspan></text>
<line x1="338.6" y1="223.2" x2="341.6" y2="223.2" stroke="#000" stroke-width="0.9" />
<text class="s" x="337.1" y="225.39999999999998" font-size="5.6" text-anchor="end">10<tspan font-size="3.6" dy="-2">2</tspan></text>
<line x1="338.6" y1="238" x2="341.6" y2="238" stroke="#000" stroke-width="0.9" />
<text class="s" x="337.1" y="240.2" font-size="5.6" text-anchor="end">10<tspan font-size="3.6" dy="-2">1</tspan></text>
<line x1="338.6" y1="252.2" x2="341.6" y2="252.2" stroke="#000" stroke-width="0.9" />
<text class="s" x="337.1" y="254.39999999999998" font-size="5.6" text-anchor="end">10<tspan font-size="3.6" dy="-2">0</tspan></text>
<line x1="251.4" y1="253.8" x2="251.4" y2="255.3" stroke="#333" stroke-width="0.5" />
<line x1="254.4" y1="253.8" x2="254.4" y2="255.3" stroke="#333" stroke-width="0.5" />
<line x1="257.4" y1="253.8" x2="257.4" y2="255.3" stroke="#333" stroke-width="0.5" />
<line x1="260.4" y1="253.8" x2="260.4" y2="255.3" stroke="#333" stroke-width="0.5" />
<line x1="263.4" y1="253.8" x2="263.4" y2="255.3" stroke="#333" stroke-width="0.5" />
<line x1="266.4" y1="253.8" x2="266.4" y2="255.3" stroke="#333" stroke-width="0.5" />
<line x1="269.4" y1="253.8" x2="269.4" y2="255.3" stroke="#333" stroke-width="0.5" />
<line x1="272.4" y1="253.8" x2="272.4" y2="255.3" stroke="#333" stroke-width="0.5" />
<line x1="275.4" y1="253.8" x2="275.4" y2="255.3" stroke="#333" stroke-width="0.5" />
<line x1="278.4" y1="253.8" x2="278.4" y2="255.3" stroke="#333" stroke-width="0.5" />
<line x1="281.4" y1="253.8" x2="281.4" y2="255.3" stroke="#333" stroke-width="0.5" />
<line x1="284.4" y1="253.8" x2="284.4" y2="255.3" stroke="#333" stroke-width="0.5" />
<line x1="287.4" y1="253.8" x2="287.4" y2="255.3" stroke="#333" stroke-width="0.5" />
<line x1="290.4" y1="253.8" x2="290.4" y2="255.3" stroke="#333" stroke-width="0.5" />
<line x1="293.4" y1="253.8" x2="293.4" y2="255.3" stroke="#333" stroke-width="0.5" />
<line x1="296.4" y1="253.8" x2="296.4" y2="255.3" stroke="#333" stroke-width="0.5" />
<line x1="299.4" y1="253.8" x2="299.4" y2="255.3" stroke="#333" stroke-width="0.5" />
<line x1="302.4" y1="253.8" x2="302.4" y2="255.3" stroke="#333" stroke-width="0.5" />
<line x1="305.4" y1="253.8" x2="305.4" y2="255.3" stroke="#333" stroke-width="0.5" />
<line x1="308.4" y1="253.8" x2="308.4" y2="255.3" stroke="#333" stroke-width="0.5" />
<line x1="311.4" y1="253.8" x2="311.4" y2="255.3" stroke="#333" stroke-width="0.5" />
<line x1="314.4" y1="253.8" x2="314.4" y2="255.3" stroke="#333" stroke-width="0.5" />
<line x1="317.4" y1="253.8" x2="317.4" y2="255.3" stroke="#333" stroke-width="0.5" />
<line x1="320.4" y1="253.8" x2="320.4" y2="255.3" stroke="#333" stroke-width="0.5" />
<line x1="323.4" y1="253.8" x2="323.4" y2="255.3" stroke="#333" stroke-width="0.5" />
<line x1="261.2" y1="253.8" x2="261.2" y2="256.8" stroke="#000" stroke-width="0.9" />
<line x1="294.2" y1="253.8" x2="294.2" y2="256.8" stroke="#000" stroke-width="0.9" />
<line x1="316.5" y1="253.8" x2="316.5" y2="256.8" stroke="#000" stroke-width="0.9" />
<text x="261.2" y="265.3" font-size="5.6" font-weight="normal" text-anchor="middle" fill="#000" class="s">0</text>
<text class="s" x="297" y="265.3" font-size="5.6" text-anchor="end">10<tspan font-size="3.6" dy="-2">3</tspan></text>
<text class="s" x="319.5" y="265.3" font-size="5.6" text-anchor="end">10<tspan font-size="3.6" dy="-2">4</tspan></text>
<circle cx="258.4" cy="254" r="0.9" fill="#000"/>
<circle cx="260.9" cy="254" r="0.9" fill="#000"/>
<circle cx="263.4" cy="254" r="0.9" fill="#000"/>
<line x1="439.2" y1="253.8" x2="439.2" y2="255.3" stroke="#333" stroke-width="0.5" />
<line x1="442.2" y1="253.8" x2="442.2" y2="255.3" stroke="#333" stroke-width="0.5" />
<line x1="445.2" y1="253.8" x2="445.2" y2="255.3" stroke="#333" stroke-width="0.5" />
<line x1="448.2" y1="253.8" x2="448.2" y2="255.3" stroke="#333" stroke-width="0.5" />
<line x1="451.2" y1="253.8" x2="451.2" y2="255.3" stroke="#333" stroke-width="0.5" />
<line x1="454.2" y1="253.8" x2="454.2" y2="255.3" stroke="#333" stroke-width="0.5" />
<line x1="457.2" y1="253.8" x2="457.2" y2="255.3" stroke="#333" stroke-width="0.5" />
<line x1="460.2" y1="253.8" x2="460.2" y2="255.3" stroke="#333" stroke-width="0.5" />
<line x1="463.2" y1="253.8" x2="463.2" y2="255.3" stroke="#333" stroke-width="0.5" />
<line x1="466.2" y1="253.8" x2="466.2" y2="255.3" stroke="#333" stroke-width="0.5" />
<line x1="469.2" y1="253.8" x2="469.2" y2="255.3" stroke="#333" stroke-width="0.5" />
<line x1="472.2" y1="253.8" x2="472.2" y2="255.3" stroke="#333" stroke-width="0.5" />
<line x1="475.2" y1="253.8" x2="475.2" y2="255.3" stroke="#333" stroke-width="0.5" />
<line x1="478.2" y1="253.8" x2="478.2" y2="255.3" stroke="#333" stroke-width="0.5" />
<line x1="481.2" y1="253.8" x2="481.2" y2="255.3" stroke="#333" stroke-width="0.5" />
<line x1="484.2" y1="253.8" x2="484.2" y2="255.3" stroke="#333" stroke-width="0.5" />
<line x1="487.2" y1="253.8" x2="487.2" y2="255.3" stroke="#333" stroke-width="0.5" />
<line x1="490.2" y1="253.8" x2="490.2" y2="255.3" stroke="#333" stroke-width="0.5" />
<line x1="493.2" y1="253.8" x2="493.2" y2="255.3" stroke="#333" stroke-width="0.5" />
<line x1="496.2" y1="253.8" x2="496.2" y2="255.3" stroke="#333" stroke-width="0.5" />
<line x1="499.2" y1="253.8" x2="499.2" y2="255.3" stroke="#333" stroke-width="0.5" />
<line x1="502.2" y1="253.8" x2="502.2" y2="255.3" stroke="#333" stroke-width="0.5" />
<line x1="505.2" y1="253.8" x2="505.2" y2="255.3" stroke="#333" stroke-width="0.5" />
<line x1="508.2" y1="253.8" x2="508.2" y2="255.3" stroke="#333" stroke-width="0.5" />
<line x1="511.2" y1="253.8" x2="511.2" y2="255.3" stroke="#333" stroke-width="0.5" />
<line x1="448.3" y1="253.8" x2="448.3" y2="256.8" stroke="#000" stroke-width="0.9" />
<line x1="480.8" y1="253.8" x2="480.8" y2="256.8" stroke="#000" stroke-width="0.9" />
<line x1="503.5" y1="253.8" x2="503.5" y2="256.8" stroke="#000" stroke-width="0.9" />
<text x="448.3" y="265.3" font-size="5.6" font-weight="normal" text-anchor="middle" fill="#000" class="s">0</text>
<text class="s" x="484" y="265.3" font-size="5.6" text-anchor="end">10<tspan font-size="3.6" dy="-2">3</tspan></text>
<text class="s" x="506.5" y="265.3" font-size="5.6" text-anchor="end">10<tspan font-size="3.6" dy="-2">4</tspan></text>
<circle cx="446.2" cy="254" r="0.9" fill="#000"/>
<circle cx="448.7" cy="254" r="0.9" fill="#000"/>
<circle cx="451.2" cy="254" r="0.9" fill="#000"/>
<line x1="342.6" y1="253.6" x2="342.6" y2="255" stroke="#444" stroke-width="0.5" />
<line x1="344.6" y1="253.6" x2="344.6" y2="255" stroke="#444" stroke-width="0.5" />
<line x1="346.6" y1="253.6" x2="346.6" y2="255" stroke="#444" stroke-width="0.5" />
<line x1="348.6" y1="253.6" x2="348.6" y2="255" stroke="#444" stroke-width="0.5" />
<line x1="350.6" y1="253.6" x2="350.6" y2="255" stroke="#444" stroke-width="0.5" />
<line x1="352.6" y1="253.6" x2="352.6" y2="255" stroke="#444" stroke-width="0.5" />
<line x1="354.6" y1="253.6" x2="354.6" y2="255" stroke="#444" stroke-width="0.5" />
<line x1="356.6" y1="253.6" x2="356.6" y2="255" stroke="#444" stroke-width="0.5" />
<line x1="358.6" y1="253.6" x2="358.6" y2="255" stroke="#444" stroke-width="0.5" />
<line x1="360.6" y1="253.6" x2="360.6" y2="255" stroke="#444" stroke-width="0.5" />
<line x1="362.6" y1="253.6" x2="362.6" y2="255" stroke="#444" stroke-width="0.5" />
<line x1="364.6" y1="253.6" x2="364.6" y2="255" stroke="#444" stroke-width="0.5" />
<line x1="366.6" y1="253.6" x2="366.6" y2="255" stroke="#444" stroke-width="0.5" />
<line x1="368.6" y1="253.6" x2="368.6" y2="255" stroke="#444" stroke-width="0.5" />
<line x1="370.6" y1="253.6" x2="370.6" y2="255" stroke="#444" stroke-width="0.5" />
<line x1="372.6" y1="253.6" x2="372.6" y2="255" stroke="#444" stroke-width="0.5" />
<line x1="374.6" y1="253.6" x2="374.6" y2="255" stroke="#444" stroke-width="0.5" />
<line x1="376.6" y1="253.6" x2="376.6" y2="255" stroke="#444" stroke-width="0.5" />
<line x1="378.6" y1="253.6" x2="378.6" y2="255" stroke="#444" stroke-width="0.5" />
<line x1="380.6" y1="253.6" x2="380.6" y2="255" stroke="#444" stroke-width="0.5" />
<line x1="382.6" y1="253.6" x2="382.6" y2="255" stroke="#444" stroke-width="0.5" />
<line x1="384.6" y1="253.6" x2="384.6" y2="255" stroke="#444" stroke-width="0.5" />
<line x1="386.6" y1="253.6" x2="386.6" y2="255" stroke="#444" stroke-width="0.5" />
<line x1="388.6" y1="253.6" x2="388.6" y2="255" stroke="#444" stroke-width="0.5" />
<line x1="390.6" y1="253.6" x2="390.6" y2="255" stroke="#444" stroke-width="0.5" />
<line x1="392.6" y1="253.6" x2="392.6" y2="255" stroke="#444" stroke-width="0.5" />
<line x1="394.6" y1="253.6" x2="394.6" y2="255" stroke="#444" stroke-width="0.5" />
<line x1="396.6" y1="253.6" x2="396.6" y2="255" stroke="#444" stroke-width="0.5" />
<line x1="398.6" y1="253.6" x2="398.6" y2="255" stroke="#444" stroke-width="0.5" />
<line x1="400.6" y1="253.6" x2="400.6" y2="255" stroke="#444" stroke-width="0.5" />
<line x1="402.6" y1="253.6" x2="402.6" y2="255" stroke="#444" stroke-width="0.5" />
<line x1="404.6" y1="253.6" x2="404.6" y2="255" stroke="#444" stroke-width="0.5" />
<line x1="406.6" y1="253.6" x2="406.6" y2="255" stroke="#444" stroke-width="0.5" />
<line x1="408.6" y1="253.6" x2="408.6" y2="255" stroke="#444" stroke-width="0.5" />
<line x1="410.6" y1="253.6" x2="410.6" y2="255" stroke="#444" stroke-width="0.5" />
<line x1="412.6" y1="253.6" x2="412.6" y2="255" stroke="#444" stroke-width="0.5" />
<line x1="414.6" y1="253.6" x2="414.6" y2="255" stroke="#444" stroke-width="0.5" />
<line x1="416.6" y1="253.6" x2="416.6" y2="255" stroke="#444" stroke-width="0.5" />
<line x1="342.3" y1="253.6" x2="342.3" y2="256.6" stroke="#000" stroke-width="0.9" />
<text class="s" x="339.3" y="265.3" font-size="5.6" text-anchor="start">10<tspan font-size="3.6" dy="-2">0</tspan></text>
<line x1="354.4" y1="253.6" x2="354.4" y2="256.6" stroke="#000" stroke-width="0.9" />
<text class="s" x="351.4" y="265.3" font-size="5.6" text-anchor="start">10<tspan font-size="3.6" dy="-2">1</tspan></text>
<line x1="366.5" y1="253.6" x2="366.5" y2="256.6" stroke="#000" stroke-width="0.9" />
<text class="s" x="363.5" y="265.3" font-size="5.6" text-anchor="start">10<tspan font-size="3.6" dy="-2">2</tspan></text>
<line x1="378.7" y1="253.6" x2="378.7" y2="256.6" stroke="#000" stroke-width="0.9" />
<text class="s" x="375.7" y="265.3" font-size="5.6" text-anchor="start">10<tspan font-size="3.6" dy="-2">3</tspan></text>
<line x1="391.6" y1="253.6" x2="391.6" y2="256.6" stroke="#000" stroke-width="0.9" />
<text class="s" x="388.6" y="265.3" font-size="5.6" text-anchor="start">10<tspan font-size="3.6" dy="-2">4</tspan></text>
<line x1="404.6" y1="253.6" x2="404.6" y2="256.6" stroke="#000" stroke-width="0.9" />
<text class="s" x="401.6" y="265.3" font-size="5.6" text-anchor="start">10<tspan font-size="3.6" dy="-2">5</tspan></text>
<line x1="415.9" y1="253.6" x2="415.9" y2="256.6" stroke="#000" stroke-width="0.9" />
<text class="s" x="412.9" y="265.3" font-size="5.6" text-anchor="start">10<tspan font-size="3.6" dy="-2">6</tspan></text>
<line x1="227.8" y1="180" x2="227.8" y2="242" stroke="#000" stroke-width="1.1" />
<polygon points="225.2,182.5 227.8,177 230.4,182.5" fill="#000"/>
<text x="0" y="0" font-size="10" transform="translate(231.2,261) rotate(-90) scale(0.82,1)">CD7</text>
<text x="0" y="0" font-size="10" transform="translate(248.6,276.8) scale(0.83,1)">CAR</text>
<line x1="268.8" y1="272.8" x2="316" y2="272.8" stroke="#111" stroke-width="1.1" />
<line x1="316" y1="272.8" x2="426.7" y2="272.8" stroke="#8a8a8a" stroke-width="1.1" />
<line x1="426.7" y1="272.8" x2="506" y2="272.8" stroke="#111" stroke-width="1.1" />
<polygon points="504.5,270.2 510.3,272.8 504.5,275.4" fill="#000"/>
<rect x="64.4" y="351.6" width="14.799999999999997" height="15.599999999999966" fill="#979fc8"/>
<rect x="64.4" y="374.6" width="14.799999999999997" height="36.39999999999998" fill="#979fc8"/>
<rect x="87.1" y="357" width="14.5" height="10.199999999999989" fill="#d99b8c"/>
<rect x="87.1" y="374.6" width="14.5" height="36.39999999999998" fill="#d99b8c"/>
<rect x="124.3" y="401.2" width="15.200000000000003" height="9.800000000000011" fill="#979fc8"/>
<rect x="147.2" y="355.4" width="15.200000000000017" height="11.800000000000011" fill="#d99b8c"/>
<rect x="147.2" y="374.6" width="15.200000000000017" height="36.39999999999998" fill="#d99b8c"/>
<line x1="72" y1="332.2" x2="94.2" y2="355.3" stroke="#111" stroke-width="1.35" />
<line x1="72" y1="353.8" x2="94.2" y2="345.4" stroke="#111" stroke-width="1.35" />
<line x1="72.2" y1="381.2" x2="94.5" y2="387" stroke="#111" stroke-width="1.35" />
<line x1="132" y1="409.9" x2="154.4" y2="338.7" stroke="#111" stroke-width="1.35" />
<line x1="131.6" y1="385" x2="154.4" y2="354.5" stroke="#111" stroke-width="1.35" />
<line x1="132" y1="409.9" x2="154.4" y2="402.6" stroke="#111" stroke-width="1.35" />
<rect x="56" y="367.4" width="116" height="7.2" fill="#fff"/>
<circle cx="72" cy="332.2" r="2.75" fill="#263a5e"/>
<circle cx="72" cy="353.8" r="2.75" fill="#263a5e"/>
<circle cx="72.2" cy="381.2" r="2.75" fill="#263a5e"/>
<circle cx="131.6" cy="385" r="2.75" fill="#263a5e"/>
<circle cx="132" cy="409.9" r="2.75" fill="#263a5e"/>
<circle cx="94.2" cy="345.4" r="2.75" fill="#8a1326"/>
<circle cx="94.2" cy="355.3" r="2.75" fill="#8a1326"/>
<circle cx="94.5" cy="387" r="2.75" fill="#8a1326"/>
<circle cx="154.4" cy="338.7" r="2.75" fill="#8a1326"/>
<circle cx="154.4" cy="354.5" r="2.75" fill="#8a1326"/>
<circle cx="154.4" cy="402.6" r="2.75" fill="#8a1326"/>
<line x1="53.1" y1="328.3" x2="53.1" y2="367.3" stroke="#000" stroke-width="1.2" />
<line x1="53.1" y1="367.3" x2="55.5" y2="367.3" stroke="#000" stroke-width="1.0" />
<line x1="53.1" y1="374.1" x2="53.1" y2="411" stroke="#000" stroke-width="1.2" />
<line x1="53.1" y1="374.1" x2="55.5" y2="374.1" stroke="#000" stroke-width="1.0" />
<line x1="52.5" y1="411" x2="172.8" y2="411" stroke="#000" stroke-width="1.2" />
<line x1="50" y1="330.6" x2="53.1" y2="330.6" stroke="#000" stroke-width="1.0" />
<text x="47" y="333.8" font-size="8.8" font-weight="normal" text-anchor="end" fill="#000" >320</text>
<line x1="50" y1="341.2" x2="53.1" y2="341.2" stroke="#000" stroke-width="1.0" />
<text x="47" y="344.4" font-size="8.8" font-weight="normal" text-anchor="end" fill="#000" >240</text>
<line x1="50" y1="352" x2="53.1" y2="352" stroke="#000" stroke-width="1.0" />
<text x="47" y="355.2" font-size="8.8" font-weight="normal" text-anchor="end" fill="#000" >160</text>
<line x1="50" y1="362.5" x2="53.1" y2="362.5" stroke="#000" stroke-width="1.0" />
<text x="47" y="365.7" font-size="8.8" font-weight="normal" text-anchor="end" fill="#000" >80</text>
<line x1="50" y1="374.6" x2="53.1" y2="374.6" stroke="#000" stroke-width="1.0" />
<text x="47" y="377.8" font-size="8.8" font-weight="normal" text-anchor="end" fill="#000" >40</text>
<line x1="50" y1="383.6" x2="53.1" y2="383.6" stroke="#000" stroke-width="1.0" />
<text x="47" y="386.8" font-size="8.8" font-weight="normal" text-anchor="end" fill="#000" >30</text>
<line x1="50" y1="392.7" x2="53.1" y2="392.7" stroke="#000" stroke-width="1.0" />
<text x="47" y="395.9" font-size="8.8" font-weight="normal" text-anchor="end" fill="#000" >20</text>
<line x1="50" y1="401.8" x2="53.1" y2="401.8" stroke="#000" stroke-width="1.0" />
<text x="47" y="405.0" font-size="8.8" font-weight="normal" text-anchor="end" fill="#000" >10</text>
<line x1="50" y1="411" x2="53.1" y2="411" stroke="#000" stroke-width="1.0" />
<text x="47" y="414.2" font-size="8.8" font-weight="normal" text-anchor="end" fill="#000" >0</text>
<line x1="51.5" y1="336" x2="53.1" y2="336" stroke="#000" stroke-width="0.8" />
<line x1="51.5" y1="346.6" x2="53.1" y2="346.6" stroke="#000" stroke-width="0.8" />
<line x1="51.5" y1="357.3" x2="53.1" y2="357.3" stroke="#000" stroke-width="0.8" />
<line x1="51.5" y1="379" x2="53.1" y2="379" stroke="#000" stroke-width="0.8" />
<line x1="51.5" y1="388" x2="53.1" y2="388" stroke="#000" stroke-width="0.8" />
<line x1="51.5" y1="397.2" x2="53.1" y2="397.2" stroke="#000" stroke-width="0.8" />
<line x1="51.5" y1="406.4" x2="53.1" y2="406.4" stroke="#000" stroke-width="0.8" />
<line x1="83.2" y1="411" x2="83.2" y2="413.5" stroke="#000" stroke-width="1.0" />
<line x1="143.2" y1="411" x2="143.2" y2="413.5" stroke="#000" stroke-width="1.0" />
<text x="82" y="424.5" font-size="8.9" font-weight="normal" text-anchor="middle" fill="#000" >Ctrl CAR</text>
<text x="143" y="424.5" font-size="8.5" font-weight="normal" text-anchor="middle" fill="#000" >CD7 CAR</text>
<text x="0" y="0" font-size="8.6" text-anchor="middle" transform="translate(16.6,368.8) rotate(-90)">Total number of CAR</text>
<text x="0" y="0" font-size="9.3" text-anchor="middle" transform="translate(27,368) rotate(-90) scale(1,1.05)">T cells (x10<tspan font-size="6.4" dy="-3.3">6</tspan><tspan dy="3.3">)</tspan></text>
<line x1="73.3" y1="327.3" x2="94.5" y2="327.3" stroke="#000" stroke-width="1.2" />
<text x="84" y="325.1" font-size="8" font-weight="normal" text-anchor="middle" fill="#000" >ns</text>
<line x1="95.6" y1="316.5" x2="156.4" y2="316.5" stroke="#222" stroke-width="1.3" />
<text x="125.5" y="314.2" font-size="8" font-weight="normal" text-anchor="middle" fill="#000" >ns</text>
<line x1="132.6" y1="331.4" x2="156.4" y2="331.4" stroke="#000" stroke-width="1.2" />
<text x="144.2" y="329.8" font-size="8" font-weight="normal" text-anchor="middle" fill="#000" >*</text>
<line x1="163.4" y1="322" x2="173" y2="322" stroke="#263a5e" stroke-width="1.3" />
<circle cx="168.2" cy="322" r="2.3" fill="#263a5e"/>
<text x="175.4" y="324.8" font-size="7.7" font-weight="normal" text-anchor="start" fill="#000" >Cas9</text>
<line x1="163.4" y1="332.2" x2="173" y2="332.2" stroke="#8a1326" stroke-width="1.3" />
<circle cx="168.2" cy="332.2" r="2.3" fill="#8a1326"/>
<text x="175.4" y="335.2" font-size="7.7" font-weight="normal" text-anchor="start" fill="#000" >Cas9/CD7 gRNA</text>
<rect x="288" y="349.15749999999997" width="15.800000000000011" height="61.84250000000003" fill="#979fc8"/>
<rect x="312.2" y="350.22375" width="15.300000000000011" height="60.776250000000005" fill="#d99b8c"/>
<rect x="351.5" y="397.13875" width="16.30000000000001" height="13.861249999999984" fill="#979fc8"/>
<rect x="375.6" y="369.41625" width="16.299999999999955" height="41.58375000000001" fill="#d99b8c"/>
<line x1="295.8" y1="341.9" x2="319.6" y2="342.2" stroke="#111" stroke-width="1.35" />
<line x1="295.8" y1="352.8" x2="319.6" y2="350.9" stroke="#111" stroke-width="1.35" />
<line x1="295.8" y1="352.8" x2="319.6" y2="357.6" stroke="#111" stroke-width="1.35" />
<line x1="359.5" y1="396.3" x2="383.3" y2="357.1" stroke="#111" stroke-width="1.35" />
<line x1="359.5" y1="396.3" x2="383.3" y2="368.5" stroke="#111" stroke-width="1.35" />
<line x1="359.5" y1="396.3" x2="383.3" y2="382.7" stroke="#111" stroke-width="1.35" />
<circle cx="295.8" cy="341.9" r="2.75" fill="#263a5e"/>
<circle cx="295.8" cy="352.8" r="2.75" fill="#263a5e"/>
<circle cx="359.5" cy="396.3" r="2.75" fill="#263a5e"/>
<circle cx="319.6" cy="342.2" r="2.75" fill="#8a1326"/>
<circle cx="319.6" cy="350.9" r="2.75" fill="#8a1326"/>
<circle cx="319.6" cy="357.6" r="2.75" fill="#8a1326"/>
<circle cx="383.3" cy="357.1" r="2.75" fill="#8a1326"/>
<circle cx="383.3" cy="368.5" r="2.75" fill="#8a1326"/>
<circle cx="383.3" cy="382.7" r="2.75" fill="#8a1326"/>
<line x1="275.6" y1="324.8" x2="275.6" y2="411" stroke="#000" stroke-width="1.2" />
<line x1="275" y1="411" x2="403.5" y2="411" stroke="#000" stroke-width="1.2" />
<line x1="272.5" y1="325.7" x2="275.6" y2="325.7" stroke="#000" stroke-width="1.0" />
<text x="270.5" y="328.9" font-size="8.8" font-weight="normal" text-anchor="end" fill="#000" >100</text>
<line x1="272.5" y1="347.025" x2="275.6" y2="347.025" stroke="#000" stroke-width="1.0" />
<text x="270.5" y="350.22499999999997" font-size="8.8" font-weight="normal" text-anchor="end" fill="#000" >80</text>
<line x1="272.5" y1="368.35" x2="275.6" y2="368.35" stroke="#000" stroke-width="1.0" />
<text x="270.5" y="371.55" font-size="8.8" font-weight="normal" text-anchor="end" fill="#000" >60</text>
<line x1="272.5" y1="389.675" x2="275.6" y2="389.675" stroke="#000" stroke-width="1.0" />
<text x="270.5" y="392.875" font-size="8.8" font-weight="normal" text-anchor="end" fill="#000" >40</text>
<line x1="272.5" y1="411.0" x2="275.6" y2="411.0" stroke="#000" stroke-width="1.0" />
<text x="270.5" y="414.2" font-size="8.8" font-weight="normal" text-anchor="end" fill="#000" >20</text>
<line x1="307.6" y1="411" x2="307.6" y2="413.5" stroke="#000" stroke-width="1.0" />
<line x1="371.6" y1="411" x2="371.6" y2="413.5" stroke="#000" stroke-width="1.0" />
<text x="307.8" y="424.5" font-size="8.5" font-weight="normal" text-anchor="middle" fill="#000" >CtrlCAR</text>
<text x="371.4" y="424.5" font-size="8.5" font-weight="normal" text-anchor="middle" fill="#000" >CD7 CAR</text>
<text x="0" y="0" font-size="9.1" text-anchor="middle" transform="translate(250.2,366.8) rotate(-90)">Live cells (%)</text>
<line x1="297.6" y1="331.7" x2="319.5" y2="331.7" stroke="#000" stroke-width="1.2" />
<text x="308.6" y="330" font-size="8" font-weight="normal" text-anchor="middle" fill="#000" >ns</text>
<line x1="319.5" y1="321.8" x2="383.3" y2="321.8" stroke="#222" stroke-width="1.3" />
<text x="351.5" y="318.4" font-size="8" font-weight="normal" text-anchor="middle" fill="#000" >ns</text>
<line x1="360" y1="346.4" x2="383.3" y2="346.4" stroke="#000" stroke-width="1.2" />
<text x="371.6" y="344.6" font-size="8" font-weight="normal" text-anchor="middle" fill="#000" >*</text>
<line x1="406.2" y1="323.1" x2="415.8" y2="323.1" stroke="#263a5e" stroke-width="1.3" />
<circle cx="411" cy="323.1" r="2.3" fill="#263a5e"/>
<text x="418" y="326" font-size="7.7" font-weight="normal" text-anchor="start" fill="#000" >Cas9</text>
<line x1="406.2" y1="334" x2="415.8" y2="334" stroke="#8a1326" stroke-width="1.3" />
<circle cx="411" cy="334" r="2.3" fill="#8a1326"/>
<text x="418" y="336.9" font-size="7.7" font-weight="normal" text-anchor="start" fill="#000" >Cas9/CD7 gRNA</text>
</svg></body></html>
